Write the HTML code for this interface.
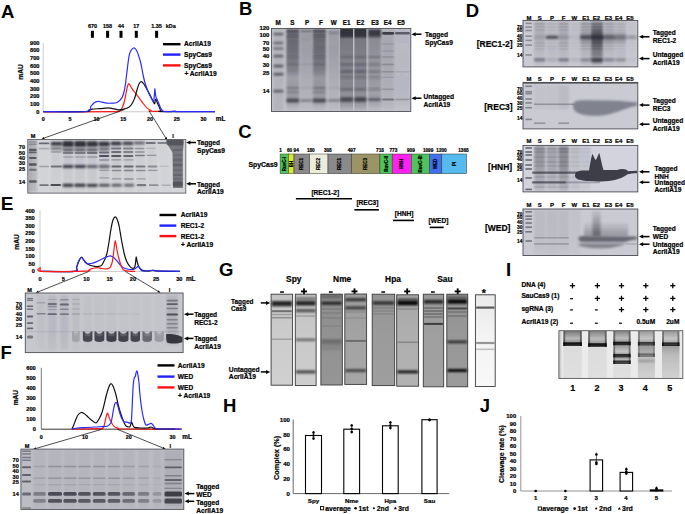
<!DOCTYPE html>
<html><head><meta charset="utf-8"><style>
html,body{margin:0;padding:0;background:#fff;}
body{width:685px;height:514px;overflow:hidden;}
svg{display:block;font-family:"Liberation Sans", sans-serif;}
</style></head><body>
<svg width="685" height="514" viewBox="0 0 685 514">
<defs>
<filter id="b05" x="-50%" y="-50%" width="200%" height="200%"><feGaussianBlur stdDeviation="0.5"/></filter>
<filter id="b1" x="-50%" y="-50%" width="200%" height="200%"><feGaussianBlur stdDeviation="0.8"/></filter>
<filter id="b2" x="-50%" y="-50%" width="200%" height="200%"><feGaussianBlur stdDeviation="1.3"/></filter>
<filter id="b3" x="-50%" y="-50%" width="200%" height="200%"><feGaussianBlur stdDeviation="2"/></filter>
<linearGradient id="g1" gradientUnits="userSpaceOnUse" x1="0" y1="139.5" x2="0" y2="193"><stop offset="0.000" stop-color="#2a2a34" stop-opacity="0.120"/><stop offset="1.000" stop-color="#2a2a34" stop-opacity="0.120"/></linearGradient><linearGradient id="g2" gradientUnits="userSpaceOnUse" x1="0" y1="140" x2="0" y2="192"><stop offset="0.000" stop-color="#2a2a34" stop-opacity="0.200"/><stop offset="1.000" stop-color="#2a2a34" stop-opacity="0.170"/></linearGradient><linearGradient id="g3" gradientUnits="userSpaceOnUse" x1="0" y1="140" x2="0" y2="192"><stop offset="0" stop-color="#2a2a34" stop-opacity="0.020"/><stop offset="0.4" stop-color="#2a2a34" stop-opacity="0.016"/><stop offset="1" stop-color="#2a2a34" stop-opacity="0.008"/></linearGradient><linearGradient id="g4" gradientUnits="userSpaceOnUse" x1="0" y1="140" x2="0" y2="192"><stop offset="0" stop-color="#2a2a34" stop-opacity="0.060"/><stop offset="0.4" stop-color="#2a2a34" stop-opacity="0.048"/><stop offset="1" stop-color="#2a2a34" stop-opacity="0.024"/></linearGradient><linearGradient id="g5" gradientUnits="userSpaceOnUse" x1="0" y1="140" x2="0" y2="192"><stop offset="0" stop-color="#2a2a34" stop-opacity="0.100"/><stop offset="0.4" stop-color="#2a2a34" stop-opacity="0.080"/><stop offset="1" stop-color="#2a2a34" stop-opacity="0.040"/></linearGradient><linearGradient id="g6" gradientUnits="userSpaceOnUse" x1="0" y1="140" x2="0" y2="192"><stop offset="0" stop-color="#2a2a34" stop-opacity="0.100"/><stop offset="0.4" stop-color="#2a2a34" stop-opacity="0.080"/><stop offset="1" stop-color="#2a2a34" stop-opacity="0.040"/></linearGradient><linearGradient id="g7" gradientUnits="userSpaceOnUse" x1="0" y1="140" x2="0" y2="192"><stop offset="0" stop-color="#2a2a34" stop-opacity="0.100"/><stop offset="0.4" stop-color="#2a2a34" stop-opacity="0.080"/><stop offset="1" stop-color="#2a2a34" stop-opacity="0.040"/></linearGradient><linearGradient id="g8" gradientUnits="userSpaceOnUse" x1="0" y1="140" x2="0" y2="192"><stop offset="0" stop-color="#2a2a34" stop-opacity="0.090"/><stop offset="0.4" stop-color="#2a2a34" stop-opacity="0.072"/><stop offset="1" stop-color="#2a2a34" stop-opacity="0.036"/></linearGradient><linearGradient id="g9" gradientUnits="userSpaceOnUse" x1="0" y1="140" x2="0" y2="192"><stop offset="0" stop-color="#2a2a34" stop-opacity="0.080"/><stop offset="0.4" stop-color="#2a2a34" stop-opacity="0.064"/><stop offset="1" stop-color="#2a2a34" stop-opacity="0.032"/></linearGradient><linearGradient id="g10" gradientUnits="userSpaceOnUse" x1="0" y1="140" x2="0" y2="192"><stop offset="0" stop-color="#2a2a34" stop-opacity="0.070"/><stop offset="0.4" stop-color="#2a2a34" stop-opacity="0.056"/><stop offset="1" stop-color="#2a2a34" stop-opacity="0.028"/></linearGradient><linearGradient id="g11" gradientUnits="userSpaceOnUse" x1="0" y1="140" x2="0" y2="192"><stop offset="0" stop-color="#2a2a34" stop-opacity="0.050"/><stop offset="0.4" stop-color="#2a2a34" stop-opacity="0.040"/><stop offset="1" stop-color="#2a2a34" stop-opacity="0.020"/></linearGradient><linearGradient id="g12" gradientUnits="userSpaceOnUse" x1="0" y1="140" x2="0" y2="192"><stop offset="0" stop-color="#2a2a34" stop-opacity="0.040"/><stop offset="0.4" stop-color="#2a2a34" stop-opacity="0.032"/><stop offset="1" stop-color="#2a2a34" stop-opacity="0.016"/></linearGradient><linearGradient id="g13" gradientUnits="userSpaceOnUse" x1="0" y1="140" x2="0" y2="192"><stop offset="0" stop-color="#2a2a34" stop-opacity="0.020"/><stop offset="0.4" stop-color="#2a2a34" stop-opacity="0.016"/><stop offset="1" stop-color="#2a2a34" stop-opacity="0.008"/></linearGradient><linearGradient id="g14" gradientUnits="userSpaceOnUse" x1="0" y1="29" x2="0" y2="111"><stop offset="0.000" stop-color="#2a2a34" stop-opacity="0.140"/><stop offset="1.000" stop-color="#2a2a34" stop-opacity="0.120"/></linearGradient><linearGradient id="g15" gradientUnits="userSpaceOnUse" x1="0" y1="29" x2="0" y2="111"><stop offset="0.000" stop-color="#2a2a34" stop-opacity="0.620"/><stop offset="0.256" stop-color="#2a2a34" stop-opacity="0.560"/><stop offset="0.500" stop-color="#2a2a34" stop-opacity="0.450"/><stop offset="0.598" stop-color="#2a2a34" stop-opacity="0.250"/><stop offset="0.695" stop-color="#2a2a34" stop-opacity="0.300"/><stop offset="0.817" stop-color="#2a2a34" stop-opacity="0.300"/><stop offset="0.915" stop-color="#2a2a34" stop-opacity="0.200"/><stop offset="1.000" stop-color="#2a2a34" stop-opacity="0.050"/></linearGradient><linearGradient id="g16" gradientUnits="userSpaceOnUse" x1="0" y1="29" x2="0" y2="111"><stop offset="0.000" stop-color="#2a2a34" stop-opacity="0.300"/><stop offset="0.256" stop-color="#2a2a34" stop-opacity="0.250"/><stop offset="0.500" stop-color="#2a2a34" stop-opacity="0.200"/><stop offset="0.683" stop-color="#2a2a34" stop-opacity="0.150"/><stop offset="0.915" stop-color="#2a2a34" stop-opacity="0.120"/><stop offset="1.000" stop-color="#2a2a34" stop-opacity="0.030"/></linearGradient><linearGradient id="g17" gradientUnits="userSpaceOnUse" x1="0" y1="29" x2="0" y2="111"><stop offset="0.000" stop-color="#2a2a34" stop-opacity="0.620"/><stop offset="0.256" stop-color="#2a2a34" stop-opacity="0.580"/><stop offset="0.500" stop-color="#2a2a34" stop-opacity="0.480"/><stop offset="0.598" stop-color="#2a2a34" stop-opacity="0.300"/><stop offset="0.695" stop-color="#2a2a34" stop-opacity="0.320"/><stop offset="0.817" stop-color="#2a2a34" stop-opacity="0.300"/><stop offset="0.915" stop-color="#2a2a34" stop-opacity="0.200"/><stop offset="1.000" stop-color="#2a2a34" stop-opacity="0.050"/></linearGradient><linearGradient id="g18" gradientUnits="userSpaceOnUse" x1="0" y1="29" x2="0" y2="111"><stop offset="0.000" stop-color="#2a2a34" stop-opacity="0.280"/><stop offset="0.256" stop-color="#2a2a34" stop-opacity="0.250"/><stop offset="0.500" stop-color="#2a2a34" stop-opacity="0.200"/><stop offset="0.683" stop-color="#2a2a34" stop-opacity="0.150"/><stop offset="0.915" stop-color="#2a2a34" stop-opacity="0.120"/><stop offset="1.000" stop-color="#2a2a34" stop-opacity="0.030"/></linearGradient><linearGradient id="g19" gradientUnits="userSpaceOnUse" x1="0" y1="28.5" x2="0" y2="111"><stop offset="0.000" stop-color="#2a2a34" stop-opacity="0.950"/><stop offset="0.091" stop-color="#2a2a34" stop-opacity="0.920"/><stop offset="0.127" stop-color="#2a2a34" stop-opacity="0.500"/><stop offset="0.382" stop-color="#2a2a34" stop-opacity="0.450"/><stop offset="0.624" stop-color="#2a2a34" stop-opacity="0.420"/><stop offset="0.806" stop-color="#2a2a34" stop-opacity="0.350"/><stop offset="0.915" stop-color="#2a2a34" stop-opacity="0.300"/><stop offset="1.000" stop-color="#2a2a34" stop-opacity="0.100"/></linearGradient><linearGradient id="g20" gradientUnits="userSpaceOnUse" x1="0" y1="28.5" x2="0" y2="111"><stop offset="0.000" stop-color="#2a2a34" stop-opacity="0.950"/><stop offset="0.091" stop-color="#2a2a34" stop-opacity="0.920"/><stop offset="0.127" stop-color="#2a2a34" stop-opacity="0.500"/><stop offset="0.382" stop-color="#2a2a34" stop-opacity="0.450"/><stop offset="0.624" stop-color="#2a2a34" stop-opacity="0.420"/><stop offset="0.806" stop-color="#2a2a34" stop-opacity="0.350"/><stop offset="0.915" stop-color="#2a2a34" stop-opacity="0.300"/><stop offset="1.000" stop-color="#2a2a34" stop-opacity="0.100"/></linearGradient><linearGradient id="g21" gradientUnits="userSpaceOnUse" x1="0" y1="29" x2="0" y2="111"><stop offset="0.000" stop-color="#2a2a34" stop-opacity="0.600"/><stop offset="0.012" stop-color="#2a2a34" stop-opacity="0.900"/><stop offset="0.085" stop-color="#2a2a34" stop-opacity="0.880"/><stop offset="0.110" stop-color="#2a2a34" stop-opacity="0.380"/><stop offset="0.378" stop-color="#2a2a34" stop-opacity="0.330"/><stop offset="0.622" stop-color="#2a2a34" stop-opacity="0.300"/><stop offset="0.805" stop-color="#2a2a34" stop-opacity="0.250"/><stop offset="0.915" stop-color="#2a2a34" stop-opacity="0.200"/><stop offset="1.000" stop-color="#2a2a34" stop-opacity="0.050"/></linearGradient><linearGradient id="g22" gradientUnits="userSpaceOnUse" x1="0" y1="29" x2="0" y2="111"><stop offset="0.000" stop-color="#2a2a34" stop-opacity="0.150"/><stop offset="0.085" stop-color="#2a2a34" stop-opacity="0.200"/><stop offset="0.378" stop-color="#2a2a34" stop-opacity="0.200"/><stop offset="0.744" stop-color="#2a2a34" stop-opacity="0.150"/><stop offset="0.915" stop-color="#2a2a34" stop-opacity="0.120"/><stop offset="1.000" stop-color="#2a2a34" stop-opacity="0.030"/></linearGradient><linearGradient id="g23" gradientUnits="userSpaceOnUse" x1="0" y1="29" x2="0" y2="111"><stop offset="0.000" stop-color="#2a2a34" stop-opacity="0.080"/><stop offset="0.378" stop-color="#2a2a34" stop-opacity="0.100"/><stop offset="0.866" stop-color="#2a2a34" stop-opacity="0.070"/><stop offset="1.000" stop-color="#2a2a34" stop-opacity="0.020"/></linearGradient><linearGradient id="g24" gradientUnits="userSpaceOnUse" x1="0" y1="21" x2="0" y2="66"><stop offset="0.000" stop-color="#2a2a34" stop-opacity="0.160"/><stop offset="0.311" stop-color="#2a2a34" stop-opacity="0.176"/><stop offset="0.533" stop-color="#2a2a34" stop-opacity="0.144"/><stop offset="0.756" stop-color="#2a2a34" stop-opacity="0.096"/><stop offset="1.000" stop-color="#2a2a34" stop-opacity="0.048"/></linearGradient><linearGradient id="g25" gradientUnits="userSpaceOnUse" x1="0" y1="21" x2="0" y2="66"><stop offset="0.000" stop-color="#2a2a34" stop-opacity="0.100"/><stop offset="0.311" stop-color="#2a2a34" stop-opacity="0.110"/><stop offset="0.533" stop-color="#2a2a34" stop-opacity="0.090"/><stop offset="0.756" stop-color="#2a2a34" stop-opacity="0.060"/><stop offset="1.000" stop-color="#2a2a34" stop-opacity="0.030"/></linearGradient><linearGradient id="g26" gradientUnits="userSpaceOnUse" x1="0" y1="21" x2="0" y2="66"><stop offset="0.000" stop-color="#2a2a34" stop-opacity="0.180"/><stop offset="0.311" stop-color="#2a2a34" stop-opacity="0.198"/><stop offset="0.533" stop-color="#2a2a34" stop-opacity="0.162"/><stop offset="0.756" stop-color="#2a2a34" stop-opacity="0.108"/><stop offset="1.000" stop-color="#2a2a34" stop-opacity="0.054"/></linearGradient><linearGradient id="g27" gradientUnits="userSpaceOnUse" x1="0" y1="21" x2="0" y2="66"><stop offset="0.000" stop-color="#2a2a34" stop-opacity="0.050"/><stop offset="0.311" stop-color="#2a2a34" stop-opacity="0.055"/><stop offset="0.533" stop-color="#2a2a34" stop-opacity="0.045"/><stop offset="0.756" stop-color="#2a2a34" stop-opacity="0.030"/><stop offset="1.000" stop-color="#2a2a34" stop-opacity="0.015"/></linearGradient><linearGradient id="g28" gradientUnits="userSpaceOnUse" x1="0" y1="21" x2="0" y2="66"><stop offset="0.000" stop-color="#2a2a34" stop-opacity="0.200"/><stop offset="0.311" stop-color="#2a2a34" stop-opacity="0.220"/><stop offset="0.533" stop-color="#2a2a34" stop-opacity="0.180"/><stop offset="0.756" stop-color="#2a2a34" stop-opacity="0.120"/><stop offset="1.000" stop-color="#2a2a34" stop-opacity="0.060"/></linearGradient><linearGradient id="g29" gradientUnits="userSpaceOnUse" x1="0" y1="21" x2="0" y2="66"><stop offset="0.000" stop-color="#2a2a34" stop-opacity="0.350"/><stop offset="0.311" stop-color="#2a2a34" stop-opacity="0.385"/><stop offset="0.533" stop-color="#2a2a34" stop-opacity="0.315"/><stop offset="0.756" stop-color="#2a2a34" stop-opacity="0.210"/><stop offset="1.000" stop-color="#2a2a34" stop-opacity="0.105"/></linearGradient><linearGradient id="g30" gradientUnits="userSpaceOnUse" x1="0" y1="21" x2="0" y2="66"><stop offset="0.000" stop-color="#2a2a34" stop-opacity="0.160"/><stop offset="0.311" stop-color="#2a2a34" stop-opacity="0.176"/><stop offset="0.533" stop-color="#2a2a34" stop-opacity="0.144"/><stop offset="0.756" stop-color="#2a2a34" stop-opacity="0.096"/><stop offset="1.000" stop-color="#2a2a34" stop-opacity="0.048"/></linearGradient><linearGradient id="g31" gradientUnits="userSpaceOnUse" x1="0" y1="21" x2="0" y2="66"><stop offset="0.000" stop-color="#2a2a34" stop-opacity="0.120"/><stop offset="0.311" stop-color="#2a2a34" stop-opacity="0.132"/><stop offset="0.533" stop-color="#2a2a34" stop-opacity="0.108"/><stop offset="0.756" stop-color="#2a2a34" stop-opacity="0.072"/><stop offset="1.000" stop-color="#2a2a34" stop-opacity="0.036"/></linearGradient><linearGradient id="g32" gradientUnits="userSpaceOnUse" x1="0" y1="21" x2="0" y2="66"><stop offset="0.000" stop-color="#2a2a34" stop-opacity="0.030"/><stop offset="0.311" stop-color="#2a2a34" stop-opacity="0.033"/><stop offset="0.533" stop-color="#2a2a34" stop-opacity="0.027"/><stop offset="0.756" stop-color="#2a2a34" stop-opacity="0.018"/><stop offset="1.000" stop-color="#2a2a34" stop-opacity="0.009"/></linearGradient><linearGradient id="g33" gradientUnits="userSpaceOnUse" x1="0" y1="32" x2="0" y2="44"><stop offset="0.000" stop-color="#2a2a34" stop-opacity="0.000"/><stop offset="0.250" stop-color="#2a2a34" stop-opacity="0.250"/><stop offset="0.667" stop-color="#2a2a34" stop-opacity="0.250"/><stop offset="1.000" stop-color="#2a2a34" stop-opacity="0.000"/></linearGradient><linearGradient id="g34" gradientUnits="userSpaceOnUse" x1="0" y1="22" x2="0" y2="64"><stop offset="0.000" stop-color="#2a2a34" stop-opacity="0.100"/><stop offset="0.143" stop-color="#2a2a34" stop-opacity="0.300"/><stop offset="0.286" stop-color="#2a2a34" stop-opacity="0.550"/><stop offset="0.476" stop-color="#2a2a34" stop-opacity="0.550"/><stop offset="0.667" stop-color="#2a2a34" stop-opacity="0.350"/><stop offset="0.857" stop-color="#2a2a34" stop-opacity="0.300"/><stop offset="1.000" stop-color="#2a2a34" stop-opacity="0.100"/></linearGradient><linearGradient id="g35" gradientUnits="userSpaceOnUse" x1="0" y1="146" x2="0" y2="191"><stop offset="0.000" stop-color="#2a2a34" stop-opacity="0.380"/><stop offset="0.422" stop-color="#2a2a34" stop-opacity="0.342"/><stop offset="0.644" stop-color="#2a2a34" stop-opacity="0.266"/><stop offset="1.000" stop-color="#2a2a34" stop-opacity="0.152"/></linearGradient><linearGradient id="g36" gradientUnits="userSpaceOnUse" x1="0" y1="146" x2="0" y2="191"><stop offset="0.000" stop-color="#2a2a34" stop-opacity="0.300"/><stop offset="0.422" stop-color="#2a2a34" stop-opacity="0.270"/><stop offset="0.644" stop-color="#2a2a34" stop-opacity="0.210"/><stop offset="1.000" stop-color="#2a2a34" stop-opacity="0.120"/></linearGradient><linearGradient id="g37" gradientUnits="userSpaceOnUse" x1="0" y1="146" x2="0" y2="191"><stop offset="0.000" stop-color="#2a2a34" stop-opacity="0.450"/><stop offset="0.422" stop-color="#2a2a34" stop-opacity="0.405"/><stop offset="0.644" stop-color="#2a2a34" stop-opacity="0.315"/><stop offset="1.000" stop-color="#2a2a34" stop-opacity="0.180"/></linearGradient><linearGradient id="g38" gradientUnits="userSpaceOnUse" x1="0" y1="146" x2="0" y2="191"><stop offset="0.000" stop-color="#2a2a34" stop-opacity="0.140"/><stop offset="0.422" stop-color="#2a2a34" stop-opacity="0.126"/><stop offset="0.644" stop-color="#2a2a34" stop-opacity="0.098"/><stop offset="1.000" stop-color="#2a2a34" stop-opacity="0.056"/></linearGradient><linearGradient id="g39" gradientUnits="userSpaceOnUse" x1="0" y1="146" x2="0" y2="191"><stop offset="0.000" stop-color="#2a2a34" stop-opacity="0.080"/><stop offset="0.422" stop-color="#2a2a34" stop-opacity="0.072"/><stop offset="0.644" stop-color="#2a2a34" stop-opacity="0.056"/><stop offset="1.000" stop-color="#2a2a34" stop-opacity="0.032"/></linearGradient><linearGradient id="g40" gradientUnits="userSpaceOnUse" x1="0" y1="210" x2="0" y2="255"><stop offset="0.000" stop-color="#2a2a34" stop-opacity="0.070"/><stop offset="0.444" stop-color="#2a2a34" stop-opacity="0.070"/><stop offset="1.000" stop-color="#2a2a34" stop-opacity="0.035"/></linearGradient><linearGradient id="g41" gradientUnits="userSpaceOnUse" x1="0" y1="210" x2="0" y2="255"><stop offset="0.000" stop-color="#2a2a34" stop-opacity="0.070"/><stop offset="0.444" stop-color="#2a2a34" stop-opacity="0.070"/><stop offset="1.000" stop-color="#2a2a34" stop-opacity="0.035"/></linearGradient><linearGradient id="g42" gradientUnits="userSpaceOnUse" x1="0" y1="210" x2="0" y2="255"><stop offset="0.000" stop-color="#2a2a34" stop-opacity="0.070"/><stop offset="0.444" stop-color="#2a2a34" stop-opacity="0.070"/><stop offset="1.000" stop-color="#2a2a34" stop-opacity="0.035"/></linearGradient><linearGradient id="g43" gradientUnits="userSpaceOnUse" x1="0" y1="210" x2="0" y2="255"><stop offset="0.000" stop-color="#2a2a34" stop-opacity="0.040"/><stop offset="0.444" stop-color="#2a2a34" stop-opacity="0.040"/><stop offset="1.000" stop-color="#2a2a34" stop-opacity="0.020"/></linearGradient><linearGradient id="g44" gradientUnits="userSpaceOnUse" x1="0" y1="211" x2="0" y2="236"><stop offset="0.000" stop-color="#2a2a34" stop-opacity="0.050"/><stop offset="0.360" stop-color="#2a2a34" stop-opacity="0.250"/><stop offset="1.000" stop-color="#2a2a34" stop-opacity="0.450"/></linearGradient><linearGradient id="g45" gradientUnits="userSpaceOnUse" x1="0" y1="222" x2="0" y2="236"><stop offset="0.000" stop-color="#2a2a34" stop-opacity="0.000"/><stop offset="0.571" stop-color="#2a2a34" stop-opacity="0.200"/><stop offset="1.000" stop-color="#2a2a34" stop-opacity="0.320"/></linearGradient><linearGradient id="g46" gradientUnits="userSpaceOnUse" x1="0" y1="295" x2="0" y2="350"><stop offset="0.000" stop-color="#2a2a34" stop-opacity="0.040"/><stop offset="0.636" stop-color="#2a2a34" stop-opacity="0.040"/><stop offset="1.000" stop-color="#2a2a34" stop-opacity="0.020"/></linearGradient><linearGradient id="g47" gradientUnits="userSpaceOnUse" x1="0" y1="295" x2="0" y2="350"><stop offset="0.000" stop-color="#2a2a34" stop-opacity="0.080"/><stop offset="0.636" stop-color="#2a2a34" stop-opacity="0.080"/><stop offset="1.000" stop-color="#2a2a34" stop-opacity="0.040"/></linearGradient><linearGradient id="g48" gradientUnits="userSpaceOnUse" x1="0" y1="295" x2="0" y2="350"><stop offset="0.000" stop-color="#2a2a34" stop-opacity="0.080"/><stop offset="0.636" stop-color="#2a2a34" stop-opacity="0.080"/><stop offset="1.000" stop-color="#2a2a34" stop-opacity="0.040"/></linearGradient><linearGradient id="g49" gradientUnits="userSpaceOnUse" x1="0" y1="295" x2="0" y2="350"><stop offset="0.000" stop-color="#2a2a34" stop-opacity="0.050"/><stop offset="0.636" stop-color="#2a2a34" stop-opacity="0.050"/><stop offset="1.000" stop-color="#2a2a34" stop-opacity="0.025"/></linearGradient><linearGradient id="g50" gradientUnits="userSpaceOnUse" x1="0" y1="295" x2="0" y2="350"><stop offset="0.000" stop-color="#2a2a34" stop-opacity="0.030"/><stop offset="0.636" stop-color="#2a2a34" stop-opacity="0.030"/><stop offset="1.000" stop-color="#2a2a34" stop-opacity="0.015"/></linearGradient><linearGradient id="g51" gradientUnits="userSpaceOnUse" x1="0" y1="295" x2="0" y2="350"><stop offset="0.000" stop-color="#2a2a34" stop-opacity="0.030"/><stop offset="0.636" stop-color="#2a2a34" stop-opacity="0.030"/><stop offset="1.000" stop-color="#2a2a34" stop-opacity="0.015"/></linearGradient><linearGradient id="g52" gradientUnits="userSpaceOnUse" x1="0" y1="295" x2="0" y2="350"><stop offset="0.000" stop-color="#2a2a34" stop-opacity="0.030"/><stop offset="0.636" stop-color="#2a2a34" stop-opacity="0.030"/><stop offset="1.000" stop-color="#2a2a34" stop-opacity="0.015"/></linearGradient><linearGradient id="g53" gradientUnits="userSpaceOnUse" x1="0" y1="295" x2="0" y2="350"><stop offset="0.000" stop-color="#2a2a34" stop-opacity="0.020"/><stop offset="0.636" stop-color="#2a2a34" stop-opacity="0.020"/><stop offset="1.000" stop-color="#2a2a34" stop-opacity="0.010"/></linearGradient><linearGradient id="g54" gradientUnits="userSpaceOnUse" x1="0" y1="295" x2="0" y2="350"><stop offset="0.000" stop-color="#2a2a34" stop-opacity="0.020"/><stop offset="0.636" stop-color="#2a2a34" stop-opacity="0.020"/><stop offset="1.000" stop-color="#2a2a34" stop-opacity="0.010"/></linearGradient><linearGradient id="g55" gradientUnits="userSpaceOnUse" x1="0" y1="295" x2="0" y2="350"><stop offset="0.000" stop-color="#2a2a34" stop-opacity="0.020"/><stop offset="0.636" stop-color="#2a2a34" stop-opacity="0.020"/><stop offset="1.000" stop-color="#2a2a34" stop-opacity="0.010"/></linearGradient><linearGradient id="g56" gradientUnits="userSpaceOnUse" x1="0" y1="295" x2="0" y2="350"><stop offset="0.000" stop-color="#2a2a34" stop-opacity="0.020"/><stop offset="0.636" stop-color="#2a2a34" stop-opacity="0.020"/><stop offset="1.000" stop-color="#2a2a34" stop-opacity="0.010"/></linearGradient><linearGradient id="g57" gradientUnits="userSpaceOnUse" x1="0" y1="295" x2="0" y2="345"><stop offset="0.000" stop-color="#2a2a34" stop-opacity="0.120"/><stop offset="0.700" stop-color="#2a2a34" stop-opacity="0.150"/><stop offset="1.000" stop-color="#2a2a34" stop-opacity="0.100"/></linearGradient><linearGradient id="g58" gradientUnits="userSpaceOnUse" x1="0" y1="450" x2="0" y2="508"><stop offset="0.000" stop-color="#2a2a34" stop-opacity="0.040"/><stop offset="1.000" stop-color="#2a2a34" stop-opacity="0.040"/></linearGradient><linearGradient id="g59" gradientUnits="userSpaceOnUse" x1="0" y1="450" x2="0" y2="508"><stop offset="0.000" stop-color="#2a2a34" stop-opacity="0.040"/><stop offset="1.000" stop-color="#2a2a34" stop-opacity="0.040"/></linearGradient><linearGradient id="g60" gradientUnits="userSpaceOnUse" x1="0" y1="450" x2="0" y2="508"><stop offset="0.000" stop-color="#2a2a34" stop-opacity="0.040"/><stop offset="1.000" stop-color="#2a2a34" stop-opacity="0.040"/></linearGradient><linearGradient id="g61" gradientUnits="userSpaceOnUse" x1="0" y1="450" x2="0" y2="508"><stop offset="0.000" stop-color="#2a2a34" stop-opacity="0.040"/><stop offset="1.000" stop-color="#2a2a34" stop-opacity="0.040"/></linearGradient><linearGradient id="g62" gradientUnits="userSpaceOnUse" x1="0" y1="450" x2="0" y2="508"><stop offset="0.000" stop-color="#2a2a34" stop-opacity="0.040"/><stop offset="1.000" stop-color="#2a2a34" stop-opacity="0.040"/></linearGradient><linearGradient id="g63" gradientUnits="userSpaceOnUse" x1="0" y1="450" x2="0" y2="508"><stop offset="0.000" stop-color="#2a2a34" stop-opacity="0.040"/><stop offset="1.000" stop-color="#2a2a34" stop-opacity="0.040"/></linearGradient><linearGradient id="g64" gradientUnits="userSpaceOnUse" x1="0" y1="450" x2="0" y2="508"><stop offset="0.000" stop-color="#2a2a34" stop-opacity="0.040"/><stop offset="1.000" stop-color="#2a2a34" stop-opacity="0.040"/></linearGradient><linearGradient id="g65" gradientUnits="userSpaceOnUse" x1="0" y1="450" x2="0" y2="508"><stop offset="0.000" stop-color="#2a2a34" stop-opacity="0.040"/><stop offset="1.000" stop-color="#2a2a34" stop-opacity="0.040"/></linearGradient><linearGradient id="g66" gradientUnits="userSpaceOnUse" x1="0" y1="450" x2="0" y2="508"><stop offset="0.000" stop-color="#2a2a34" stop-opacity="0.040"/><stop offset="1.000" stop-color="#2a2a34" stop-opacity="0.040"/></linearGradient><linearGradient id="g67" gradientUnits="userSpaceOnUse" x1="0" y1="450" x2="0" y2="508"><stop offset="0.000" stop-color="#2a2a34" stop-opacity="0.100"/><stop offset="1.000" stop-color="#2a2a34" stop-opacity="0.100"/></linearGradient><linearGradient id="g68" gradientUnits="userSpaceOnUse" x1="0" y1="294.2" x2="0" y2="385.2"><stop offset="0.000" stop-color="#000" stop-opacity="0.060"/><stop offset="0.440" stop-color="#000" stop-opacity="0.020"/><stop offset="1.000" stop-color="#000" stop-opacity="0.000"/></linearGradient><linearGradient id="g69" gradientUnits="userSpaceOnUse" x1="0" y1="294.2" x2="0" y2="385.6"><stop offset="0.000" stop-color="#000" stop-opacity="0.060"/><stop offset="0.438" stop-color="#000" stop-opacity="0.020"/><stop offset="1.000" stop-color="#000" stop-opacity="0.000"/></linearGradient><linearGradient id="g70" gradientUnits="userSpaceOnUse" x1="0" y1="294.2" x2="0" y2="385"><stop offset="0.000" stop-color="#000" stop-opacity="0.060"/><stop offset="0.441" stop-color="#000" stop-opacity="0.020"/><stop offset="1.000" stop-color="#000" stop-opacity="0.000"/></linearGradient><linearGradient id="g71" gradientUnits="userSpaceOnUse" x1="0" y1="294" x2="0" y2="384.4"><stop offset="0.000" stop-color="#000" stop-opacity="0.060"/><stop offset="0.442" stop-color="#000" stop-opacity="0.020"/><stop offset="1.000" stop-color="#000" stop-opacity="0.000"/></linearGradient><linearGradient id="g72" gradientUnits="userSpaceOnUse" x1="0" y1="294.2" x2="0" y2="385.6"><stop offset="0.000" stop-color="#000" stop-opacity="0.060"/><stop offset="0.438" stop-color="#000" stop-opacity="0.020"/><stop offset="1.000" stop-color="#000" stop-opacity="0.000"/></linearGradient><linearGradient id="g73" gradientUnits="userSpaceOnUse" x1="0" y1="294.8" x2="0" y2="386.2"><stop offset="0.000" stop-color="#000" stop-opacity="0.060"/><stop offset="0.438" stop-color="#000" stop-opacity="0.020"/><stop offset="1.000" stop-color="#000" stop-opacity="0.000"/></linearGradient><linearGradient id="g74" gradientUnits="userSpaceOnUse" x1="0" y1="294.2" x2="0" y2="386.8"><stop offset="0.000" stop-color="#000" stop-opacity="0.060"/><stop offset="0.432" stop-color="#000" stop-opacity="0.020"/><stop offset="1.000" stop-color="#000" stop-opacity="0.000"/></linearGradient><linearGradient id="g75" gradientUnits="userSpaceOnUse" x1="0" y1="294.2" x2="0" y2="386.8"><stop offset="0.000" stop-color="#000" stop-opacity="0.060"/><stop offset="0.432" stop-color="#000" stop-opacity="0.020"/><stop offset="1.000" stop-color="#000" stop-opacity="0.000"/></linearGradient><linearGradient id="g76" gradientUnits="userSpaceOnUse" x1="0" y1="294.8" x2="0" y2="386.5"><stop offset="0.000" stop-color="#000" stop-opacity="0.060"/><stop offset="0.436" stop-color="#000" stop-opacity="0.020"/><stop offset="1.000" stop-color="#000" stop-opacity="0.000"/></linearGradient><linearGradient id="g77" gradientUnits="userSpaceOnUse" x1="0" y1="330.7" x2="0" y2="378.4"><stop offset="0.000" stop-color="#000" stop-opacity="0.120"/><stop offset="1.000" stop-color="#000" stop-opacity="0.120"/></linearGradient><linearGradient id="g78" gradientUnits="userSpaceOnUse" x1="0" y1="331" x2="0" y2="378"><stop offset="0.000" stop-color="#000" stop-opacity="0.070"/><stop offset="1.000" stop-color="#000" stop-opacity="0.050"/></linearGradient><linearGradient id="g79" gradientUnits="userSpaceOnUse" x1="0" y1="331" x2="0" y2="378"><stop offset="0.000" stop-color="#000" stop-opacity="0.070"/><stop offset="1.000" stop-color="#000" stop-opacity="0.050"/></linearGradient><linearGradient id="g80" gradientUnits="userSpaceOnUse" x1="0" y1="331" x2="0" y2="378"><stop offset="0.000" stop-color="#000" stop-opacity="0.070"/><stop offset="1.000" stop-color="#000" stop-opacity="0.050"/></linearGradient><linearGradient id="g81" gradientUnits="userSpaceOnUse" x1="0" y1="331" x2="0" y2="378"><stop offset="0.000" stop-color="#000" stop-opacity="0.070"/><stop offset="1.000" stop-color="#000" stop-opacity="0.050"/></linearGradient><linearGradient id="g82" gradientUnits="userSpaceOnUse" x1="0" y1="331" x2="0" y2="378"><stop offset="0.000" stop-color="#000" stop-opacity="0.070"/><stop offset="1.000" stop-color="#000" stop-opacity="0.050"/></linearGradient><linearGradient id="g83" gradientUnits="userSpaceOnUse" x1="0" y1="331" x2="0" y2="343.9"><stop offset="0.000" stop-color="#000" stop-opacity="0.450"/><stop offset="0.578" stop-color="#000" stop-opacity="0.158"/><stop offset="1.000" stop-color="#000" stop-opacity="0.405"/></linearGradient><linearGradient id="g84" gradientUnits="userSpaceOnUse" x1="0" y1="331" x2="0" y2="345.9"><stop offset="0.000" stop-color="#000" stop-opacity="0.297"/><stop offset="0.732" stop-color="#000" stop-opacity="0.510"/><stop offset="1.000" stop-color="#000" stop-opacity="0.680"/></linearGradient><linearGradient id="g85" gradientUnits="userSpaceOnUse" x1="0" y1="331" x2="0" y2="345.9"><stop offset="0.000" stop-color="#000" stop-opacity="0.297"/><stop offset="0.732" stop-color="#000" stop-opacity="0.510"/><stop offset="1.000" stop-color="#000" stop-opacity="0.680"/></linearGradient><linearGradient id="g86" gradientUnits="userSpaceOnUse" x1="0" y1="331" x2="0" y2="344.8"><stop offset="0.000" stop-color="#000" stop-opacity="0.400"/><stop offset="0.572" stop-color="#000" stop-opacity="0.140"/><stop offset="1.000" stop-color="#000" stop-opacity="0.360"/></linearGradient><linearGradient id="g87" gradientUnits="userSpaceOnUse" x1="0" y1="331" x2="0" y2="346.8"><stop offset="0.000" stop-color="#000" stop-opacity="0.297"/><stop offset="0.747" stop-color="#000" stop-opacity="0.510"/><stop offset="1.000" stop-color="#000" stop-opacity="0.680"/></linearGradient><linearGradient id="g88" gradientUnits="userSpaceOnUse" x1="0" y1="331" x2="0" y2="346.8"><stop offset="0.000" stop-color="#000" stop-opacity="0.297"/><stop offset="0.747" stop-color="#000" stop-opacity="0.510"/><stop offset="1.000" stop-color="#000" stop-opacity="0.680"/></linearGradient><linearGradient id="g89" gradientUnits="userSpaceOnUse" x1="0" y1="331" x2="0" y2="343.3"><stop offset="0.000" stop-color="#000" stop-opacity="0.400"/><stop offset="0.581" stop-color="#000" stop-opacity="0.140"/><stop offset="1.000" stop-color="#000" stop-opacity="0.360"/></linearGradient><linearGradient id="g90" gradientUnits="userSpaceOnUse" x1="0" y1="331" x2="0" y2="345.3"><stop offset="0.000" stop-color="#000" stop-opacity="0.280"/><stop offset="0.720" stop-color="#000" stop-opacity="0.480"/><stop offset="1.000" stop-color="#000" stop-opacity="0.640"/></linearGradient><linearGradient id="g91" gradientUnits="userSpaceOnUse" x1="0" y1="331" x2="0" y2="345.3"><stop offset="0.000" stop-color="#000" stop-opacity="0.280"/><stop offset="0.720" stop-color="#000" stop-opacity="0.480"/><stop offset="1.000" stop-color="#000" stop-opacity="0.640"/></linearGradient><linearGradient id="g92" gradientUnits="userSpaceOnUse" x1="0" y1="345.3" x2="0" y2="355.5"><stop offset="0.000" stop-color="#000" stop-opacity="0.300"/><stop offset="0.598" stop-color="#000" stop-opacity="0.105"/><stop offset="1.000" stop-color="#000" stop-opacity="0.270"/></linearGradient><linearGradient id="g93" gradientUnits="userSpaceOnUse" x1="0" y1="345.3" x2="0" y2="357.5"><stop offset="0.000" stop-color="#000" stop-opacity="0.262"/><stop offset="0.672" stop-color="#000" stop-opacity="0.450"/><stop offset="1.000" stop-color="#000" stop-opacity="0.600"/></linearGradient><linearGradient id="g94" gradientUnits="userSpaceOnUse" x1="0" y1="345.3" x2="0" y2="357.5"><stop offset="0.000" stop-color="#000" stop-opacity="0.262"/><stop offset="0.672" stop-color="#000" stop-opacity="0.450"/><stop offset="1.000" stop-color="#000" stop-opacity="0.600"/></linearGradient><linearGradient id="g95" gradientUnits="userSpaceOnUse" x1="0" y1="357.5" x2="0" y2="362"><stop offset="0.000" stop-color="#000" stop-opacity="0.300"/><stop offset="0.722" stop-color="#000" stop-opacity="0.105"/><stop offset="1.000" stop-color="#000" stop-opacity="0.270"/></linearGradient><linearGradient id="g96" gradientUnits="userSpaceOnUse" x1="0" y1="357.5" x2="0" y2="364"><stop offset="0.000" stop-color="#000" stop-opacity="0.245"/><stop offset="0.385" stop-color="#000" stop-opacity="0.420"/><stop offset="1.000" stop-color="#000" stop-opacity="0.560"/></linearGradient><linearGradient id="g97" gradientUnits="userSpaceOnUse" x1="0" y1="357.5" x2="0" y2="364"><stop offset="0.000" stop-color="#000" stop-opacity="0.245"/><stop offset="0.385" stop-color="#000" stop-opacity="0.420"/><stop offset="1.000" stop-color="#000" stop-opacity="0.560"/></linearGradient><linearGradient id="g98" gradientUnits="userSpaceOnUse" x1="0" y1="345" x2="0" y2="378"><stop offset="0.000" stop-color="#000" stop-opacity="0.200"/><stop offset="0.515" stop-color="#000" stop-opacity="0.120"/><stop offset="1.000" stop-color="#000" stop-opacity="0.060"/></linearGradient><linearGradient id="g99" gradientUnits="userSpaceOnUse" x1="0" y1="331" x2="0" y2="343.5"><stop offset="0.000" stop-color="#000" stop-opacity="0.300"/><stop offset="0.580" stop-color="#000" stop-opacity="0.105"/><stop offset="1.000" stop-color="#000" stop-opacity="0.270"/></linearGradient><linearGradient id="g100" gradientUnits="userSpaceOnUse" x1="0" y1="331" x2="0" y2="345.5"><stop offset="0.000" stop-color="#000" stop-opacity="0.227"/><stop offset="0.724" stop-color="#000" stop-opacity="0.390"/><stop offset="1.000" stop-color="#000" stop-opacity="0.520"/></linearGradient><linearGradient id="g101" gradientUnits="userSpaceOnUse" x1="0" y1="331" x2="0" y2="345.5"><stop offset="0.000" stop-color="#000" stop-opacity="0.227"/><stop offset="0.724" stop-color="#000" stop-opacity="0.390"/><stop offset="1.000" stop-color="#000" stop-opacity="0.520"/></linearGradient><linearGradient id="g102" gradientUnits="userSpaceOnUse" x1="0" y1="345.5" x2="0" y2="355"><stop offset="0.000" stop-color="#000" stop-opacity="0.150"/><stop offset="0.605" stop-color="#000" stop-opacity="0.052"/><stop offset="1.000" stop-color="#000" stop-opacity="0.135"/></linearGradient><linearGradient id="g103" gradientUnits="userSpaceOnUse" x1="0" y1="345.5" x2="0" y2="357"><stop offset="0.000" stop-color="#000" stop-opacity="0.122"/><stop offset="0.652" stop-color="#000" stop-opacity="0.210"/><stop offset="1.000" stop-color="#000" stop-opacity="0.280"/></linearGradient><linearGradient id="g104" gradientUnits="userSpaceOnUse" x1="0" y1="345.5" x2="0" y2="357"><stop offset="0.000" stop-color="#000" stop-opacity="0.122"/><stop offset="0.652" stop-color="#000" stop-opacity="0.210"/><stop offset="1.000" stop-color="#000" stop-opacity="0.280"/></linearGradient><linearGradient id="g105" gradientUnits="userSpaceOnUse" x1="0" y1="345" x2="0" y2="378"><stop offset="0.000" stop-color="#000" stop-opacity="0.300"/><stop offset="0.303" stop-color="#000" stop-opacity="0.150"/><stop offset="1.000" stop-color="#000" stop-opacity="0.060"/></linearGradient><linearGradient id="g106" gradientUnits="userSpaceOnUse" x1="0" y1="331" x2="0" y2="344"><stop offset="0.000" stop-color="#000" stop-opacity="0.300"/><stop offset="0.577" stop-color="#000" stop-opacity="0.105"/><stop offset="1.000" stop-color="#000" stop-opacity="0.270"/></linearGradient><linearGradient id="g107" gradientUnits="userSpaceOnUse" x1="0" y1="331" x2="0" y2="346"><stop offset="0.000" stop-color="#000" stop-opacity="0.262"/><stop offset="0.733" stop-color="#000" stop-opacity="0.450"/><stop offset="1.000" stop-color="#000" stop-opacity="0.600"/></linearGradient><linearGradient id="g108" gradientUnits="userSpaceOnUse" x1="0" y1="331" x2="0" y2="346"><stop offset="0.000" stop-color="#000" stop-opacity="0.262"/><stop offset="0.733" stop-color="#000" stop-opacity="0.450"/><stop offset="1.000" stop-color="#000" stop-opacity="0.600"/></linearGradient>
</defs>
<rect width="685" height="514" fill="#fff"/>
<text x="0.9" y="17.5" font-size="18.5" font-weight="bold" text-anchor="start" fill="#000">A</text>
<text x="92.4" y="27.9" font-size="5.4" font-weight="bold" text-anchor="middle" fill="#000" stroke="#000" stroke-width="0.2">670</text>
<text x="107.6" y="27.9" font-size="5.4" font-weight="bold" text-anchor="middle" fill="#000" stroke="#000" stroke-width="0.2">158</text>
<text x="121.0" y="27.9" font-size="5.4" font-weight="bold" text-anchor="middle" fill="#000" stroke="#000" stroke-width="0.2">44</text>
<text x="136.3" y="27.9" font-size="5.4" font-weight="bold" text-anchor="middle" fill="#000" stroke="#000" stroke-width="0.2">17</text>
<text x="156.6" y="27.9" font-size="5.4" font-weight="bold" text-anchor="middle" fill="#000" stroke="#000" stroke-width="0.2">1.35</text>
<text x="170.7" y="27.9" font-size="5.4" font-weight="bold" text-anchor="middle" fill="#000" stroke="#000" stroke-width="0.2">kDa</text>
<rect x="90.90" y="30.80" width="3.00" height="7.00" fill="#000"/>
<rect x="106.10" y="30.80" width="3.00" height="7.00" fill="#000"/>
<rect x="119.50" y="30.80" width="3.00" height="7.00" fill="#000"/>
<rect x="134.80" y="30.80" width="3.00" height="7.00" fill="#000"/>
<rect x="155.10" y="30.80" width="3.00" height="7.00" fill="#000"/>
<line x1="43.2" y1="43.0" x2="43.2" y2="111.7" stroke="#c0c0c0" stroke-width="0.8"/>
<line x1="43.2" y1="111.8" x2="215.0" y2="111.8" stroke="#c8c8c8" stroke-width="1.0"/>
<text x="39.5" y="113.6" font-size="5.7" font-weight="bold" text-anchor="end" fill="#000" stroke="#000" stroke-width="0.2">0</text>
<text x="39.5" y="106.0" font-size="5.7" font-weight="bold" text-anchor="end" fill="#000" stroke="#000" stroke-width="0.2">100</text>
<text x="39.5" y="98.3" font-size="5.7" font-weight="bold" text-anchor="end" fill="#000" stroke="#000" stroke-width="0.2">200</text>
<text x="39.5" y="90.7" font-size="5.7" font-weight="bold" text-anchor="end" fill="#000" stroke="#000" stroke-width="0.2">300</text>
<text x="39.5" y="83.0" font-size="5.7" font-weight="bold" text-anchor="end" fill="#000" stroke="#000" stroke-width="0.2">400</text>
<text x="39.5" y="75.4" font-size="5.7" font-weight="bold" text-anchor="end" fill="#000" stroke="#000" stroke-width="0.2">500</text>
<text x="39.5" y="67.7" font-size="5.7" font-weight="bold" text-anchor="end" fill="#000" stroke="#000" stroke-width="0.2">600</text>
<text x="39.5" y="60.1" font-size="5.7" font-weight="bold" text-anchor="end" fill="#000" stroke="#000" stroke-width="0.2">700</text>
<text x="39.5" y="52.4" font-size="5.7" font-weight="bold" text-anchor="end" fill="#000" stroke="#000" stroke-width="0.2">800</text>
<text x="39.5" y="44.8" font-size="5.7" font-weight="bold" text-anchor="end" fill="#000" stroke="#000" stroke-width="0.2">900</text>
<text x="23.0" y="72.0" font-size="6.6" font-weight="bold" text-anchor="middle" fill="#000" stroke="#000" stroke-width="0.2" transform="rotate(-90 23.0 72.0)">mAU</text>
<text x="43.2" y="121.2" font-size="5.4" font-weight="bold" text-anchor="middle" fill="#000" stroke="#000" stroke-width="0.2">0</text>
<text x="69.9" y="121.2" font-size="5.4" font-weight="bold" text-anchor="middle" fill="#000" stroke="#000" stroke-width="0.2">5</text>
<text x="96.6" y="121.2" font-size="5.4" font-weight="bold" text-anchor="middle" fill="#000" stroke="#000" stroke-width="0.2">10</text>
<text x="123.3" y="121.2" font-size="5.4" font-weight="bold" text-anchor="middle" fill="#000" stroke="#000" stroke-width="0.2">15</text>
<text x="150.0" y="121.2" font-size="5.4" font-weight="bold" text-anchor="middle" fill="#000" stroke="#000" stroke-width="0.2">20</text>
<text x="176.7" y="121.2" font-size="5.4" font-weight="bold" text-anchor="middle" fill="#000" stroke="#000" stroke-width="0.2">25</text>
<text x="203.4" y="121.2" font-size="5.4" font-weight="bold" text-anchor="middle" fill="#000" stroke="#000" stroke-width="0.2">30</text>
<text x="220.5" y="121.4" font-size="6.4" font-weight="bold" text-anchor="middle" fill="#000" stroke="#000" stroke-width="0.2">mL</text>
<line x1="163.0" y1="44.2" x2="180.5" y2="44.2" stroke="#000" stroke-width="2.4"/>
<line x1="163.0" y1="54.6" x2="180.5" y2="54.6" stroke="#2222ff" stroke-width="2.4"/>
<line x1="163.0" y1="65.4" x2="180.5" y2="65.4" stroke="#ff1111" stroke-width="2.4"/>
<text x="184.1" y="46.3" font-size="6.6" font-weight="bold" text-anchor="start" fill="#000" stroke="#000" stroke-width="0.2">AcrIIA19</text>
<text x="184.1" y="56.8" font-size="6.6" font-weight="bold" text-anchor="start" fill="#000" stroke="#000" stroke-width="0.2">SpyCas9</text>
<text x="184.1" y="67.6" font-size="6.6" font-weight="bold" text-anchor="start" fill="#000" stroke="#000" stroke-width="0.2">SpyCas9</text>
<text x="184.4" y="75.5" font-size="6.6" font-weight="bold" text-anchor="start" fill="#000" stroke="#000" stroke-width="0.2">+ AcrIIA19</text>
<path d="M43.2,111.8 C54.3,111.8 97.4,111.8 110.0,111.7 C122.6,111.6 116.8,111.6 118.6,111.2 C120.4,110.8 120.3,110.4 121.0,109.5 C121.7,108.6 122.4,107.2 123.0,105.7 C123.6,104.2 124.1,102.5 124.6,100.5 C125.1,98.5 125.5,96.2 125.9,94.0 C126.3,91.8 126.8,89.2 127.2,87.5 C127.6,85.8 128.1,84.2 128.5,83.8 C128.9,83.3 129.3,84.1 129.8,84.8 C130.3,85.5 130.8,86.9 131.7,88.2 C132.6,89.5 133.5,90.5 135.0,92.5 C136.5,94.5 139.0,97.9 140.5,99.9 C142.0,101.9 142.8,103.0 144.0,104.5 C145.2,106.0 146.6,107.6 147.8,108.6 C149.0,109.6 149.8,110.0 151.0,110.5 C152.2,111.0 144.3,111.2 155.0,111.4 C165.7,111.6 205.0,111.5 215.0,111.5" fill="none" stroke="#ff1a1a" stroke-width="1.2" stroke-linejoin="round"/>
<path d="M43.2,111.7 C50.3,111.7 78.2,111.8 85.7,111.6 C93.2,111.3 87.4,110.6 88.5,110.2 C89.6,109.8 90.4,109.5 92.3,109.2 C94.2,108.9 97.3,108.8 100.0,108.6 C102.7,108.4 106.2,107.9 108.4,107.9 C110.6,107.9 111.3,108.3 113.0,108.6 C114.7,108.9 116.9,109.7 118.6,109.8 C120.3,109.9 121.3,109.8 123.0,109.4 C124.7,109.0 127.4,108.0 128.8,107.2 C130.2,106.4 130.5,106.0 131.5,104.5 C132.5,103.0 133.7,100.8 134.6,98.4 C135.5,96.0 136.3,92.4 137.0,90.0 C137.7,87.6 138.3,85.4 139.0,84.0 C139.7,82.6 140.4,81.7 141.2,81.6 C141.9,81.5 142.7,82.4 143.5,83.5 C144.3,84.6 145.2,86.3 146.3,88.2 C147.4,90.1 148.7,92.5 150.0,95.0 C151.3,97.5 153.4,102.6 154.3,103.5 C155.2,104.4 154.9,101.2 155.2,100.5 C155.4,99.8 155.6,99.1 155.8,99.1 C156.0,99.1 156.2,99.9 156.5,100.5 C156.8,101.1 156.9,101.8 157.3,102.8 C157.7,103.8 158.4,105.2 159.0,106.5 C159.6,107.8 160.2,109.8 160.9,110.6 C161.6,111.4 154.0,111.4 163.0,111.6 C172.0,111.8 206.3,111.7 215.0,111.7" fill="none" stroke="#111" stroke-width="1.2" stroke-linejoin="round"/>
<path d="M43.2,111.6 C50.3,111.6 77.8,112.4 85.7,111.5 C93.6,110.6 89.3,107.9 90.8,106.4 C92.3,104.9 93.3,103.3 94.5,102.5 C95.7,101.7 96.8,101.3 98.1,101.3 C99.3,101.2 100.5,101.9 102.0,102.2 C103.5,102.5 105.2,102.9 106.9,103.1 C108.6,103.3 110.3,103.3 112.0,103.2 C113.7,103.1 115.5,103.3 117.1,102.5 C118.7,101.7 120.3,100.2 121.5,98.4 C122.7,96.7 123.3,94.6 124.0,92.0 C124.7,89.4 124.8,88.8 125.6,83.0 C126.4,77.2 127.9,62.9 128.8,57.5 C129.7,52.1 130.2,52.1 131.0,50.5 C131.8,48.9 132.8,48.2 133.6,48.0 C134.4,47.8 135.2,48.4 136.0,49.5 C136.8,50.6 137.5,52.2 138.3,54.6 C139.1,57.0 140.2,60.4 141.0,64.0 C141.8,67.7 142.6,72.8 143.4,76.5 C144.2,80.2 145.0,83.1 146.0,86.0 C147.0,88.9 148.3,91.9 149.2,94.0 C150.1,96.1 150.8,97.3 151.5,98.5 C152.2,99.7 153.1,101.9 153.6,101.3 C154.1,100.7 154.2,97.1 154.4,95.0 C154.6,92.9 154.6,89.1 154.8,88.9 C155.0,88.7 155.2,92.6 155.4,94.0 C155.6,95.4 155.8,96.3 156.1,97.3 C156.4,98.3 156.8,98.8 157.3,99.9 C157.8,101.0 158.4,102.5 159.0,104.0 C159.6,105.5 160.3,107.5 160.9,108.6 C161.5,109.7 161.9,110.1 162.5,110.6 C163.1,111.1 163.3,111.3 164.6,111.5 C165.8,111.7 168.3,111.7 170.0,111.6 C171.7,111.5 173.7,111.0 175.0,111.0 C176.3,111.0 171.3,111.5 178.0,111.6 C184.7,111.7 208.8,111.6 215.0,111.6" fill="none" stroke="#2a2aff" stroke-width="1.2" stroke-linejoin="round"/>
<line x1="124.5" y1="109.5" x2="44.3" y2="138.0" stroke="#000" stroke-width="0.7"/>
<path d="M41.5,139.0 L43.9,136.9 L44.7,139.1 Z" fill="#000"/>
<line x1="148.8" y1="110.5" x2="165.7" y2="137.8" stroke="#000" stroke-width="0.7"/>
<path d="M167.3,140.3 L164.7,138.4 L166.7,137.1 Z" fill="#000"/>
<text x="33.1" y="138.2" font-size="5.6" font-weight="bold" text-anchor="middle" fill="#000" stroke="#000" stroke-width="0.2">M</text>
<text x="173.0" y="138.2" font-size="5.6" font-weight="bold" text-anchor="middle" fill="#000" stroke="#000" stroke-width="0.2">I</text>
<text x="25.0" y="149.3" font-size="5.6" font-weight="bold" text-anchor="end" fill="#000" stroke="#000" stroke-width="0.2">70</text>
<text x="25.0" y="154.6" font-size="5.6" font-weight="bold" text-anchor="end" fill="#000" stroke="#000" stroke-width="0.2">50</text>
<text x="25.0" y="160.0" font-size="5.6" font-weight="bold" text-anchor="end" fill="#000" stroke="#000" stroke-width="0.2">40</text>
<text x="25.0" y="165.3" font-size="5.6" font-weight="bold" text-anchor="end" fill="#000" stroke="#000" stroke-width="0.2">30</text>
<text x="25.0" y="171.1" font-size="5.6" font-weight="bold" text-anchor="end" fill="#000" stroke="#000" stroke-width="0.2">25</text>
<text x="25.0" y="184.1" font-size="5.6" font-weight="bold" text-anchor="end" fill="#000" stroke="#000" stroke-width="0.2">14</text>
<rect x="27.80" y="139.50" width="158.00" height="53.60" fill="#d5d6da"/>
<rect x="27.8" y="139.5" width="3.0" height="53.5" fill="url(#g1)" filter="url(#b1)"/>
<rect x="28.8" y="141.1" width="8.0" height="1.5" rx="0.8" fill="#2a2a34" fill-opacity="0.25" filter="url(#b05)"/>
<rect x="28.8" y="143.6" width="8.0" height="1.5" rx="0.8" fill="#2a2a34" fill-opacity="0.30" filter="url(#b05)"/>
<rect x="28.8" y="148.8" width="8.0" height="2.2" rx="1.1" fill="#2a2a34" fill-opacity="0.65" filter="url(#b05)"/>
<rect x="28.8" y="151.5" width="8.0" height="1.8" rx="0.9" fill="#2a2a34" fill-opacity="0.60" filter="url(#b05)"/>
<rect x="28.8" y="156.9" width="8.0" height="2.2" rx="1.1" fill="#2a2a34" fill-opacity="0.65" filter="url(#b05)"/>
<rect x="28.8" y="163.3" width="8.0" height="2.4" rx="1.2" fill="#2a2a34" fill-opacity="0.68" filter="url(#b05)"/>
<rect x="28.8" y="168.7" width="8.0" height="2.0" rx="1.0" fill="#2a2a34" fill-opacity="0.50" filter="url(#b05)"/>
<rect x="28.8" y="180.2" width="8.0" height="2.6" rx="1.3" fill="#2a2a34" fill-opacity="0.65" filter="url(#b05)"/>
<rect x="28.5" y="140.0" width="8.5" height="52.0" fill="url(#g2)" filter="url(#b1)"/>
<path d="M39.1,140 L48.7,140 L48.2,192 L39.9,192 Z" fill="url(#g3)" filter="url(#b1)"/>
<rect x="38.7" y="142.5" width="10.5" height="1.8" rx="0.9" fill="#2a2a34" fill-opacity="0.63" filter="url(#b05)"/>
<rect x="38.7" y="147.7" width="10.4" height="1.8" rx="0.9" fill="#2a2a34" fill-opacity="0.23" filter="url(#b05)"/>
<rect x="39.0" y="165.8" width="10.0" height="1.5" rx="0.8" fill="#2a2a34" fill-opacity="0.29" filter="url(#b05)"/>
<rect x="39.3" y="184.3" width="9.5" height="1.8" rx="0.9" fill="#2a2a34" fill-opacity="0.57" filter="url(#b05)"/>
<path d="M51.5,140 L61.7,140 L60.3,192 L50.8,192 Z" fill="url(#g4)" filter="url(#b1)"/>
<rect x="50.7" y="142.0" width="11.8" height="3.6" rx="1.5" fill="#2a2a34" fill-opacity="0.95" filter="url(#b1)"/>
<rect x="50.6" y="147.2" width="11.7" height="2.6" rx="1.3" fill="#2a2a34" fill-opacity="0.56" filter="url(#b1)"/>
<rect x="50.8" y="151.2" width="11.0" height="1.5" rx="0.8" fill="#2a2a34" fill-opacity="0.29" filter="url(#b05)"/>
<rect x="50.7" y="165.6" width="10.9" height="1.8" rx="0.9" fill="#2a2a34" fill-opacity="0.57" filter="url(#b05)"/>
<rect x="50.4" y="183.9" width="10.6" height="2.1" rx="1.1" fill="#2a2a34" fill-opacity="0.80" filter="url(#b05)"/>
<path d="M63.3,140 L72.9,140 L72.7,192 L63.3,192 Z" fill="url(#g5)" filter="url(#b1)"/>
<rect x="62.5" y="140.9" width="11.2" height="6.1" rx="1.5" fill="#2a2a34" fill-opacity="0.95" filter="url(#b1)"/>
<rect x="62.5" y="148.4" width="11.2" height="2.8" rx="1.4" fill="#2a2a34" fill-opacity="0.75" filter="url(#b1)"/>
<rect x="62.8" y="152.1" width="10.5" height="1.8" rx="0.9" fill="#2a2a34" fill-opacity="0.46" filter="url(#b05)"/>
<rect x="62.8" y="156.2" width="10.5" height="1.5" rx="0.8" fill="#2a2a34" fill-opacity="0.23" filter="url(#b05)"/>
<rect x="62.5" y="165.1" width="11.1" height="2.8" rx="1.4" fill="#2a2a34" fill-opacity="0.88" filter="url(#b1)"/>
<rect x="62.5" y="183.8" width="11.0" height="3.0" rx="1.5" fill="#2a2a34" fill-opacity="0.95" filter="url(#b1)"/>
<path d="M75.1,140 L85.3,140 L84.8,192 L75.1,192 Z" fill="url(#g6)" filter="url(#b1)"/>
<rect x="74.3" y="140.9" width="11.8" height="6.1" rx="1.5" fill="#2a2a34" fill-opacity="0.95" filter="url(#b1)"/>
<rect x="74.3" y="148.4" width="11.7" height="2.8" rx="1.4" fill="#2a2a34" fill-opacity="0.75" filter="url(#b1)"/>
<rect x="74.6" y="152.1" width="11.1" height="1.8" rx="0.9" fill="#2a2a34" fill-opacity="0.46" filter="url(#b05)"/>
<rect x="74.6" y="156.2" width="11.1" height="1.5" rx="0.8" fill="#2a2a34" fill-opacity="0.23" filter="url(#b05)"/>
<rect x="74.3" y="165.1" width="11.6" height="2.8" rx="1.4" fill="#2a2a34" fill-opacity="0.88" filter="url(#b1)"/>
<rect x="74.3" y="183.8" width="11.4" height="3.0" rx="1.5" fill="#2a2a34" fill-opacity="0.95" filter="url(#b1)"/>
<path d="M87.3,140 L97.1,140 L96.9,192 L87.5,192 Z" fill="url(#g7)" filter="url(#b1)"/>
<rect x="86.5" y="141.2" width="11.4" height="5.6" rx="1.5" fill="#2a2a34" fill-opacity="0.95" filter="url(#b1)"/>
<rect x="86.5" y="148.4" width="11.3" height="2.8" rx="1.4" fill="#2a2a34" fill-opacity="0.75" filter="url(#b1)"/>
<rect x="86.9" y="152.1" width="10.7" height="1.8" rx="0.9" fill="#2a2a34" fill-opacity="0.52" filter="url(#b05)"/>
<rect x="86.9" y="156.2" width="10.7" height="1.5" rx="0.8" fill="#2a2a34" fill-opacity="0.29" filter="url(#b05)"/>
<rect x="86.6" y="165.2" width="11.2" height="2.6" rx="1.3" fill="#2a2a34" fill-opacity="0.75" filter="url(#b1)"/>
<rect x="86.7" y="183.9" width="11.0" height="2.8" rx="1.4" fill="#2a2a34" fill-opacity="0.94" filter="url(#b1)"/>
<path d="M99.3,140 L108.9,140 L109.1,192 L99.8,192 Z" fill="url(#g8)" filter="url(#b1)"/>
<rect x="98.5" y="141.8" width="11.2" height="4.4" rx="1.5" fill="#2a2a34" fill-opacity="0.95" filter="url(#b1)"/>
<rect x="98.6" y="147.7" width="11.2" height="2.6" rx="1.3" fill="#2a2a34" fill-opacity="0.69" filter="url(#b1)"/>
<rect x="98.9" y="151.6" width="10.5" height="1.8" rx="0.9" fill="#2a2a34" fill-opacity="0.57" filter="url(#b05)"/>
<rect x="98.9" y="154.9" width="10.5" height="2.1" rx="1.1" fill="#2a2a34" fill-opacity="0.75" filter="url(#b05)"/>
<rect x="99.0" y="159.2" width="10.5" height="1.5" rx="0.8" fill="#2a2a34" fill-opacity="0.34" filter="url(#b05)"/>
<rect x="98.7" y="165.2" width="11.1" height="2.6" rx="1.3" fill="#2a2a34" fill-opacity="0.75" filter="url(#b1)"/>
<rect x="99.1" y="169.8" width="10.5" height="1.3" rx="0.7" fill="#2a2a34" fill-opacity="0.29" filter="url(#b05)"/>
<rect x="99.1" y="177.3" width="10.4" height="1.3" rx="0.7" fill="#2a2a34" fill-opacity="0.29" filter="url(#b05)"/>
<rect x="98.9" y="183.9" width="11.0" height="2.6" rx="1.3" fill="#2a2a34" fill-opacity="0.81" filter="url(#b1)"/>
<path d="M111.3,140 L120.8,140 L121.1,192 L112.4,192 Z" fill="url(#g9)" filter="url(#b1)"/>
<rect x="110.6" y="141.7" width="11.0" height="3.6" rx="1.5" fill="#2a2a34" fill-opacity="0.94" filter="url(#b1)"/>
<rect x="111.0" y="147.6" width="10.4" height="1.8" rx="0.9" fill="#2a2a34" fill-opacity="0.52" filter="url(#b05)"/>
<rect x="111.1" y="151.1" width="10.3" height="1.8" rx="0.9" fill="#2a2a34" fill-opacity="0.57" filter="url(#b05)"/>
<rect x="111.1" y="154.9" width="10.3" height="2.1" rx="1.1" fill="#2a2a34" fill-opacity="0.71" filter="url(#b05)"/>
<rect x="111.2" y="159.3" width="10.2" height="1.3" rx="0.7" fill="#2a2a34" fill-opacity="0.34" filter="url(#b05)"/>
<rect x="111.4" y="165.4" width="10.1" height="2.1" rx="1.1" fill="#2a2a34" fill-opacity="0.63" filter="url(#b05)"/>
<rect x="111.5" y="169.8" width="10.0" height="1.5" rx="0.8" fill="#2a2a34" fill-opacity="0.40" filter="url(#b05)"/>
<rect x="111.6" y="178.3" width="9.9" height="1.3" rx="0.7" fill="#2a2a34" fill-opacity="0.34" filter="url(#b05)"/>
<rect x="111.5" y="183.9" width="10.4" height="2.6" rx="1.3" fill="#2a2a34" fill-opacity="0.75" filter="url(#b1)"/>
<path d="M123.2,140 L132.7,140 L133.5,192 L124.9,192 Z" fill="url(#g10)" filter="url(#b1)"/>
<rect x="122.5" y="141.8" width="11.0" height="3.1" rx="1.5" fill="#2a2a34" fill-opacity="0.85" filter="url(#b1)"/>
<rect x="123.0" y="147.6" width="10.4" height="1.8" rx="0.9" fill="#2a2a34" fill-opacity="0.46" filter="url(#b05)"/>
<rect x="123.1" y="151.1" width="10.3" height="1.8" rx="0.9" fill="#2a2a34" fill-opacity="0.46" filter="url(#b05)"/>
<rect x="123.2" y="155.1" width="10.2" height="1.8" rx="0.9" fill="#2a2a34" fill-opacity="0.63" filter="url(#b05)"/>
<rect x="123.4" y="159.3" width="10.2" height="1.3" rx="0.7" fill="#2a2a34" fill-opacity="0.29" filter="url(#b05)"/>
<rect x="123.6" y="165.4" width="10.0" height="2.1" rx="1.1" fill="#2a2a34" fill-opacity="0.63" filter="url(#b05)"/>
<rect x="123.7" y="169.8" width="10.0" height="1.5" rx="0.8" fill="#2a2a34" fill-opacity="0.46" filter="url(#b05)"/>
<rect x="124.0" y="178.2" width="9.8" height="1.5" rx="0.8" fill="#2a2a34" fill-opacity="0.40" filter="url(#b05)"/>
<rect x="123.9" y="183.9" width="10.3" height="2.6" rx="1.3" fill="#2a2a34" fill-opacity="0.69" filter="url(#b1)"/>
<path d="M134.6,140 L143.8,140 L146.1,192 L137.4,192 Z" fill="url(#g11)" filter="url(#b1)"/>
<rect x="134.0" y="141.7" width="10.8" height="2.6" rx="1.3" fill="#2a2a34" fill-opacity="0.72" filter="url(#b1)"/>
<rect x="134.6" y="147.8" width="10.1" height="1.5" rx="0.8" fill="#2a2a34" fill-opacity="0.34" filter="url(#b05)"/>
<rect x="134.8" y="151.2" width="10.1" height="1.5" rx="0.8" fill="#2a2a34" fill-opacity="0.34" filter="url(#b05)"/>
<rect x="134.9" y="154.8" width="10.0" height="1.5" rx="0.8" fill="#2a2a34" fill-opacity="0.52" filter="url(#b05)"/>
<rect x="135.5" y="165.6" width="9.9" height="1.8" rx="0.9" fill="#2a2a34" fill-opacity="0.52" filter="url(#b05)"/>
<rect x="135.8" y="169.8" width="9.9" height="1.5" rx="0.8" fill="#2a2a34" fill-opacity="0.40" filter="url(#b05)"/>
<rect x="136.2" y="178.3" width="9.8" height="1.3" rx="0.7" fill="#2a2a34" fill-opacity="0.29" filter="url(#b05)"/>
<rect x="136.6" y="184.1" width="9.7" height="2.1" rx="1.1" fill="#2a2a34" fill-opacity="0.52" filter="url(#b05)"/>
<path d="M145.9,140 L155.1,140 L158.6,192 L150.0,192 Z" fill="url(#g12)" filter="url(#b1)"/>
<rect x="145.6" y="141.9" width="10.2" height="2.1" rx="1.1" fill="#2a2a34" fill-opacity="0.55" filter="url(#b05)"/>
<rect x="146.1" y="147.8" width="10.1" height="1.3" rx="0.7" fill="#2a2a34" fill-opacity="0.17" filter="url(#b05)"/>
<rect x="146.6" y="154.8" width="10.0" height="1.3" rx="0.7" fill="#2a2a34" fill-opacity="0.34" filter="url(#b05)"/>
<rect x="147.5" y="165.6" width="9.9" height="1.8" rx="0.9" fill="#2a2a34" fill-opacity="0.40" filter="url(#b05)"/>
<rect x="147.8" y="169.8" width="9.9" height="1.3" rx="0.7" fill="#2a2a34" fill-opacity="0.34" filter="url(#b05)"/>
<rect x="148.9" y="184.3" width="9.7" height="1.8" rx="0.9" fill="#2a2a34" fill-opacity="0.40" filter="url(#b05)"/>
<path d="M157.5,140 L166.0,140 L171.0,192 L162.5,192 Z" fill="url(#g13)" filter="url(#b1)"/>
<rect x="157.3" y="142.1" width="9.5" height="1.8" rx="0.9" fill="#2a2a34" fill-opacity="0.46" filter="url(#b05)"/>
<rect x="159.5" y="165.8" width="9.5" height="1.3" rx="0.7" fill="#2a2a34" fill-opacity="0.14" filter="url(#b05)"/>
<rect x="161.3" y="184.4" width="9.5" height="1.5" rx="0.8" fill="#2a2a34" fill-opacity="0.23" filter="url(#b05)"/>
<path d="M166.5,139.5 L183.5,139.5 L183.5,146 L182.8,152 L182.8,188 L173,188 L172.5,153 C171,149 168,146 166.5,143 Z" fill="#2a2a32" fill-opacity="0.55" filter="url(#b05)"/>
<rect x="166.5" y="139.8" width="17.0" height="5.5" rx="1.5" fill="#2a2a34" fill-opacity="0.45" filter="url(#b05)"/>
<rect x="172.8" y="149.0" width="10.0" height="2.0" rx="1.0" fill="#2a2a34" fill-opacity="0.20" filter="url(#b05)"/>
<rect x="172.8" y="154.0" width="10.0" height="2.0" rx="1.0" fill="#2a2a34" fill-opacity="0.15" filter="url(#b05)"/>
<rect x="172.8" y="158.8" width="10.0" height="2.5" rx="1.2" fill="#2a2a34" fill-opacity="0.20" filter="url(#b05)"/>
<rect x="172.8" y="163.8" width="10.0" height="2.5" rx="1.2" fill="#2a2a34" fill-opacity="0.28" filter="url(#b05)"/>
<rect x="172.8" y="169.0" width="10.0" height="2.0" rx="1.0" fill="#2a2a34" fill-opacity="0.15" filter="url(#b05)"/>
<rect x="172.8" y="174.0" width="10.0" height="2.0" rx="1.0" fill="#2a2a34" fill-opacity="0.20" filter="url(#b05)"/>
<rect x="172.8" y="178.0" width="10.0" height="2.0" rx="1.0" fill="#2a2a34" fill-opacity="0.15" filter="url(#b05)"/>
<rect x="172.8" y="181.5" width="10.0" height="5.0" rx="1.5" fill="#2a2a34" fill-opacity="0.45" filter="url(#b05)"/>
<rect x="27.8" y="139.5" width="158.0" height="53.6" fill="none" stroke="#606068" stroke-width="0.9"/>
<line x1="189.9" y1="142.5" x2="196.0" y2="142.5" stroke="#000" stroke-width="1.5"/>
<path d="M186.2,142.5 L190.4,140.5 L190.4,144.5 Z" fill="#000"/>
<line x1="189.9" y1="183.8" x2="196.0" y2="183.8" stroke="#000" stroke-width="1.5"/>
<path d="M186.2,183.8 L190.4,181.8 L190.4,185.8 Z" fill="#000"/>
<text x="197.0" y="145.2" font-size="6.6" font-weight="bold" text-anchor="start" fill="#000" stroke="#000" stroke-width="0.2">Tagged</text>
<text x="197.0" y="152.8" font-size="6.6" font-weight="bold" text-anchor="start" fill="#000" stroke="#000" stroke-width="0.2">SpyCas9</text>
<text x="197.0" y="186.5" font-size="6.6" font-weight="bold" text-anchor="start" fill="#000" stroke="#000" stroke-width="0.2">Tagged</text>
<text x="197.0" y="194.1" font-size="6.6" font-weight="bold" text-anchor="start" fill="#000" stroke="#000" stroke-width="0.2">AcrIIA19</text>
<text x="239.0" y="14.8" font-size="18.5" font-weight="bold" text-anchor="start" fill="#000">B</text>
<text x="278.0" y="25.0" font-size="6.3" font-weight="bold" text-anchor="middle" fill="#000" stroke="#000" stroke-width="0.2">M</text>
<text x="292.4" y="25.0" font-size="6.3" font-weight="bold" text-anchor="middle" fill="#000" stroke="#000" stroke-width="0.2">S</text>
<text x="307.0" y="25.0" font-size="6.3" font-weight="bold" text-anchor="middle" fill="#000" stroke="#000" stroke-width="0.2">P</text>
<text x="321.0" y="25.0" font-size="6.3" font-weight="bold" text-anchor="middle" fill="#000" stroke="#000" stroke-width="0.2">F</text>
<text x="333.7" y="25.0" font-size="6.3" font-weight="bold" text-anchor="middle" fill="#000" stroke="#000" stroke-width="0.2">W</text>
<text x="346.7" y="25.0" font-size="6.3" font-weight="bold" text-anchor="middle" fill="#000" stroke="#000" stroke-width="0.2">E1</text>
<text x="360.3" y="25.0" font-size="6.3" font-weight="bold" text-anchor="middle" fill="#000" stroke="#000" stroke-width="0.2">E2</text>
<text x="375.0" y="25.0" font-size="6.3" font-weight="bold" text-anchor="middle" fill="#000" stroke="#000" stroke-width="0.2">E3</text>
<text x="387.7" y="25.0" font-size="6.3" font-weight="bold" text-anchor="middle" fill="#000" stroke="#000" stroke-width="0.2">E4</text>
<text x="401.0" y="25.0" font-size="6.3" font-weight="bold" text-anchor="middle" fill="#000" stroke="#000" stroke-width="0.2">E5</text>
<text x="269.4" y="30.1" font-size="6.0" font-weight="bold" text-anchor="end" fill="#000" stroke="#000" stroke-width="0.2">120</text>
<text x="269.4" y="37.1" font-size="6.0" font-weight="bold" text-anchor="end" fill="#000" stroke="#000" stroke-width="0.2">100</text>
<text x="269.4" y="44.8" font-size="6.0" font-weight="bold" text-anchor="end" fill="#000" stroke="#000" stroke-width="0.2">70</text>
<text x="269.4" y="50.5" font-size="6.0" font-weight="bold" text-anchor="end" fill="#000" stroke="#000" stroke-width="0.2">50</text>
<text x="269.4" y="57.5" font-size="6.0" font-weight="bold" text-anchor="end" fill="#000" stroke="#000" stroke-width="0.2">40</text>
<text x="269.4" y="66.6" font-size="6.0" font-weight="bold" text-anchor="end" fill="#000" stroke="#000" stroke-width="0.2">30</text>
<text x="269.4" y="75.0" font-size="6.0" font-weight="bold" text-anchor="end" fill="#000" stroke="#000" stroke-width="0.2">25</text>
<text x="269.4" y="93.2" font-size="6.0" font-weight="bold" text-anchor="end" fill="#000" stroke="#000" stroke-width="0.2">14</text>
<rect x="271.50" y="28.50" width="139.30" height="83.00" fill="#c6c7cf"/>
<rect x="273.3" y="33.1" width="10.2" height="2.2" rx="1.1" fill="#2a2a34" fill-opacity="0.62" filter="url(#b1)"/>
<rect x="273.3" y="41.9" width="10.2" height="2.2" rx="1.1" fill="#2a2a34" fill-opacity="0.62" filter="url(#b1)"/>
<rect x="273.3" y="47.4" width="10.2" height="2.2" rx="1.1" fill="#2a2a34" fill-opacity="0.58" filter="url(#b1)"/>
<rect x="273.3" y="54.9" width="10.2" height="2.4" rx="1.2" fill="#2a2a34" fill-opacity="0.68" filter="url(#b1)"/>
<rect x="273.3" y="64.7" width="10.2" height="2.6" rx="1.3" fill="#2a2a34" fill-opacity="0.70" filter="url(#b1)"/>
<rect x="273.3" y="73.0" width="10.2" height="2.6" rx="1.3" fill="#2a2a34" fill-opacity="0.68" filter="url(#b1)"/>
<rect x="273.3" y="89.8" width="10.2" height="2.8" rx="1.4" fill="#2a2a34" fill-opacity="0.62" filter="url(#b1)"/>
<rect x="273.3" y="29.0" width="10.2" height="82.0" fill="url(#g14)" filter="url(#b1)"/>
<rect x="286.3" y="29.0" width="12.9" height="82.0" fill="url(#g15)" filter="url(#b1)"/>
<rect x="286.3" y="30.0" width="12.9" height="2.0" rx="1.0" fill="#2a2a34" fill-opacity="0.40" filter="url(#b1)"/>
<rect x="286.3" y="35.2" width="12.9" height="1.5" rx="0.8" fill="#2a2a34" fill-opacity="0.25" filter="url(#b1)"/>
<rect x="286.3" y="56.2" width="12.9" height="1.5" rx="0.8" fill="#2a2a34" fill-opacity="0.20" filter="url(#b1)"/>
<rect x="286.3" y="63.7" width="12.9" height="1.5" rx="0.8" fill="#2a2a34" fill-opacity="0.20" filter="url(#b1)"/>
<rect x="286.3" y="87.0" width="12.9" height="2.0" rx="1.0" fill="#2a2a34" fill-opacity="0.30" filter="url(#b1)"/>
<rect x="286.3" y="91.2" width="12.9" height="1.5" rx="0.8" fill="#2a2a34" fill-opacity="0.30" filter="url(#b1)"/>
<rect x="286.3" y="98.4" width="12.9" height="4.0" rx="1.5" fill="#2a2a34" fill-opacity="0.70" filter="url(#b1)"/>
<rect x="300.1" y="29.0" width="12.0" height="82.0" fill="url(#g16)" filter="url(#b1)"/>
<rect x="300.1" y="30.0" width="12.0" height="2.0" rx="1.0" fill="#2a2a34" fill-opacity="0.35" filter="url(#b1)"/>
<rect x="300.1" y="63.8" width="12.0" height="1.2" rx="0.6" fill="#2a2a34" fill-opacity="0.12" filter="url(#b1)"/>
<rect x="300.1" y="87.2" width="12.0" height="1.5" rx="0.8" fill="#2a2a34" fill-opacity="0.15" filter="url(#b1)"/>
<rect x="300.1" y="99.2" width="12.0" height="2.5" rx="1.2" fill="#2a2a34" fill-opacity="0.40" filter="url(#b1)"/>
<rect x="312.7" y="29.0" width="13.3" height="82.0" fill="url(#g17)" filter="url(#b1)"/>
<rect x="312.7" y="30.0" width="13.3" height="2.0" rx="1.0" fill="#2a2a34" fill-opacity="0.40" filter="url(#b1)"/>
<rect x="312.7" y="35.2" width="13.3" height="1.5" rx="0.8" fill="#2a2a34" fill-opacity="0.25" filter="url(#b1)"/>
<rect x="312.7" y="56.2" width="13.3" height="1.5" rx="0.8" fill="#2a2a34" fill-opacity="0.20" filter="url(#b1)"/>
<rect x="312.7" y="63.7" width="13.3" height="1.5" rx="0.8" fill="#2a2a34" fill-opacity="0.20" filter="url(#b1)"/>
<rect x="312.7" y="87.0" width="13.3" height="2.0" rx="1.0" fill="#2a2a34" fill-opacity="0.35" filter="url(#b1)"/>
<rect x="312.7" y="91.2" width="13.3" height="1.5" rx="0.8" fill="#2a2a34" fill-opacity="0.30" filter="url(#b1)"/>
<rect x="312.7" y="98.4" width="13.3" height="4.0" rx="1.5" fill="#2a2a34" fill-opacity="0.70" filter="url(#b1)"/>
<rect x="327.8" y="29.0" width="12.1" height="82.0" fill="url(#g18)" filter="url(#b1)"/>
<rect x="327.8" y="32.2" width="12.1" height="1.5" rx="0.8" fill="#2a2a34" fill-opacity="0.30" filter="url(#b1)"/>
<rect x="327.8" y="87.2" width="12.1" height="1.5" rx="0.8" fill="#2a2a34" fill-opacity="0.15" filter="url(#b1)"/>
<rect x="327.8" y="99.2" width="12.1" height="2.5" rx="1.2" fill="#2a2a34" fill-opacity="0.40" filter="url(#b1)"/>
<rect x="340.2" y="28.5" width="12.9" height="82.5" fill="url(#g19)" filter="url(#b05)"/>
<rect x="340.2" y="55.9" width="12.9" height="2.2" rx="1.1" fill="#2a2a34" fill-opacity="0.30" filter="url(#b1)"/>
<rect x="340.2" y="63.3" width="12.9" height="2.2" rx="1.1" fill="#2a2a34" fill-opacity="0.35" filter="url(#b1)"/>
<rect x="340.2" y="70.6" width="12.9" height="2.4" rx="1.2" fill="#2a2a34" fill-opacity="0.40" filter="url(#b1)"/>
<rect x="340.2" y="76.3" width="12.9" height="2.0" rx="1.0" fill="#2a2a34" fill-opacity="0.30" filter="url(#b1)"/>
<rect x="340.2" y="88.1" width="12.9" height="2.4" rx="1.2" fill="#2a2a34" fill-opacity="0.35" filter="url(#b1)"/>
<rect x="340.2" y="97.2" width="12.9" height="4.5" rx="1.5" fill="#2a2a34" fill-opacity="0.70" filter="url(#b1)"/>
<rect x="354.4" y="28.5" width="12.0" height="82.5" fill="url(#g20)" filter="url(#b05)"/>
<rect x="354.4" y="55.9" width="12.0" height="2.2" rx="1.1" fill="#2a2a34" fill-opacity="0.30" filter="url(#b1)"/>
<rect x="354.4" y="63.3" width="12.0" height="2.2" rx="1.1" fill="#2a2a34" fill-opacity="0.35" filter="url(#b1)"/>
<rect x="354.4" y="70.6" width="12.0" height="2.4" rx="1.2" fill="#2a2a34" fill-opacity="0.40" filter="url(#b1)"/>
<rect x="354.4" y="76.3" width="12.0" height="2.0" rx="1.0" fill="#2a2a34" fill-opacity="0.30" filter="url(#b1)"/>
<rect x="354.4" y="88.1" width="12.0" height="2.4" rx="1.2" fill="#2a2a34" fill-opacity="0.35" filter="url(#b1)"/>
<rect x="354.4" y="97.2" width="12.0" height="4.5" rx="1.5" fill="#2a2a34" fill-opacity="0.78" filter="url(#b1)"/>
<rect x="367.9" y="29.0" width="13.3" height="82.0" fill="url(#g21)" filter="url(#b1)"/>
<rect x="367.9" y="56.0" width="13.3" height="2.0" rx="1.0" fill="#2a2a34" fill-opacity="0.30" filter="url(#b1)"/>
<rect x="367.9" y="63.4" width="13.3" height="2.0" rx="1.0" fill="#2a2a34" fill-opacity="0.30" filter="url(#b1)"/>
<rect x="367.9" y="70.8" width="13.3" height="2.0" rx="1.0" fill="#2a2a34" fill-opacity="0.35" filter="url(#b1)"/>
<rect x="367.9" y="76.3" width="13.3" height="2.0" rx="1.0" fill="#2a2a34" fill-opacity="0.25" filter="url(#b1)"/>
<rect x="367.9" y="88.3" width="13.3" height="2.0" rx="1.0" fill="#2a2a34" fill-opacity="0.30" filter="url(#b1)"/>
<rect x="367.9" y="98.0" width="13.3" height="3.0" rx="1.5" fill="#2a2a34" fill-opacity="0.55" filter="url(#b1)"/>
<rect x="382.1" y="29.0" width="12.1" height="82.0" fill="url(#g22)" filter="url(#b1)"/>
<rect x="382.1" y="31.9" width="12.1" height="2.8" rx="1.4" fill="#2a2a34" fill-opacity="0.85" filter="url(#b05)"/>
<rect x="382.1" y="43.4" width="12.1" height="1.2" rx="0.6" fill="#2a2a34" fill-opacity="0.15" filter="url(#b05)"/>
<rect x="382.1" y="50.4" width="12.1" height="1.2" rx="0.6" fill="#2a2a34" fill-opacity="0.15" filter="url(#b05)"/>
<rect x="382.1" y="56.2" width="12.1" height="1.5" rx="0.8" fill="#2a2a34" fill-opacity="0.20" filter="url(#b05)"/>
<rect x="382.1" y="63.7" width="12.1" height="1.5" rx="0.8" fill="#2a2a34" fill-opacity="0.25" filter="url(#b05)"/>
<rect x="382.1" y="71.0" width="12.1" height="1.5" rx="0.8" fill="#2a2a34" fill-opacity="0.25" filter="url(#b05)"/>
<rect x="382.1" y="76.7" width="12.1" height="1.2" rx="0.6" fill="#2a2a34" fill-opacity="0.15" filter="url(#b05)"/>
<rect x="382.1" y="88.5" width="12.1" height="1.5" rx="0.8" fill="#2a2a34" fill-opacity="0.20" filter="url(#b05)"/>
<rect x="382.1" y="98.4" width="12.1" height="2.2" rx="1.1" fill="#2a2a34" fill-opacity="0.45" filter="url(#b05)"/>
<rect x="395.0" y="29.0" width="14.9" height="82.0" fill="url(#g23)" filter="url(#b1)"/>
<rect x="395.0" y="32.1" width="14.9" height="2.4" rx="1.2" fill="#2a2a34" fill-opacity="0.65" filter="url(#b05)"/>
<rect x="395.0" y="71.2" width="14.9" height="1.2" rx="0.6" fill="#2a2a34" fill-opacity="0.12" filter="url(#b05)"/>
<rect x="395.0" y="98.7" width="14.9" height="1.6" rx="0.8" fill="#2a2a34" fill-opacity="0.25" filter="url(#b05)"/>
<rect x="271.5" y="28.5" width="139.3" height="83.0" fill="none" stroke="#505058" stroke-width="0.9"/>
<line x1="415.2" y1="34.2" x2="421.5" y2="34.2" stroke="#000" stroke-width="1.5"/>
<path d="M411.5,34.2 L415.7,32.2 L415.7,36.2 Z" fill="#000"/>
<text x="425.0" y="37.2" font-size="6.6" font-weight="bold" text-anchor="start" fill="#000" stroke="#000" stroke-width="0.2">Tagged</text>
<text x="425.0" y="44.8" font-size="6.6" font-weight="bold" text-anchor="start" fill="#000" stroke="#000" stroke-width="0.2">SpyCas9</text>
<line x1="415.2" y1="98.2" x2="421.5" y2="98.2" stroke="#000" stroke-width="1.5"/>
<path d="M411.5,98.2 L415.7,96.2 L415.7,100.2 Z" fill="#000"/>
<text x="423.5" y="99.2" font-size="6.6" font-weight="bold" text-anchor="start" fill="#000" stroke="#000" stroke-width="0.2">Untagged</text>
<text x="423.5" y="106.7" font-size="6.6" font-weight="bold" text-anchor="start" fill="#000" stroke="#000" stroke-width="0.2">AcrIIA19</text>
<text x="238.2" y="137.6" font-size="18.5" font-weight="bold" text-anchor="start" fill="#000">C</text>
<rect x="280.1" y="154" width="8.3" height="19.7" fill="#4ec45a" stroke="#333" stroke-width="0.5"/>
<text x="285.9" y="163.9" font-size="4.5" font-weight="bold" text-anchor="middle" fill="#000" stroke="#000" stroke-width="0.2" transform="rotate(-90 285.9 163.9)">RuvC-I</text>
<rect x="288.4" y="154" width="5.6" height="19.7" fill="#dce830" stroke="#333" stroke-width="0.5"/>
<text x="292.8" y="163.9" font-size="4.5" font-weight="bold" text-anchor="middle" fill="#000" stroke="#000" stroke-width="0.2" transform="rotate(-90 292.8 163.9)">BH</text>
<rect x="294.0" y="154" width="15.6" height="19.7" fill="#8a8a8a" stroke="#333" stroke-width="0.5"/>
<text x="303.4" y="163.9" font-size="4.5" font-weight="bold" text-anchor="middle" fill="#000" stroke="#000" stroke-width="0.2" transform="rotate(-90 303.4 163.9)">REC1</text>
<rect x="309.6" y="154" width="18.4" height="19.7" fill="#ececdc" stroke="#333" stroke-width="0.5"/>
<text x="320.4" y="163.9" font-size="4.5" font-weight="bold" text-anchor="middle" fill="#000" stroke="#000" stroke-width="0.2" transform="rotate(-90 320.4 163.9)">REC2</text>
<rect x="328.0" y="154" width="23.6" height="19.7" fill="#8a8a8a" stroke="#333" stroke-width="0.5"/>
<text x="341.4" y="163.9" font-size="4.5" font-weight="bold" text-anchor="middle" fill="#000" stroke="#000" stroke-width="0.2" transform="rotate(-90 341.4 163.9)">REC1</text>
<rect x="351.6" y="154" width="28.3" height="19.7" fill="#9c9464" stroke="#333" stroke-width="0.5"/>
<text x="367.4" y="163.9" font-size="4.5" font-weight="bold" text-anchor="middle" fill="#000" stroke="#000" stroke-width="0.2" transform="rotate(-90 367.4 163.9)">REC3</text>
<rect x="379.9" y="154" width="12.3" height="19.7" fill="#4ec45a" stroke="#333" stroke-width="0.5"/>
<text x="387.6" y="163.9" font-size="4.5" font-weight="bold" text-anchor="middle" fill="#000" stroke="#000" stroke-width="0.2" transform="rotate(-90 387.6 163.9)">RuvC-II</text>
<rect x="392.2" y="154" width="19.1" height="19.7" fill="#ff22ee" stroke="#333" stroke-width="0.5"/>
<text x="403.4" y="163.9" font-size="4.5" font-weight="bold" text-anchor="middle" fill="#000" stroke="#000" stroke-width="0.2" transform="rotate(-90 403.4 163.9)">HNH</text>
<rect x="411.3" y="154" width="18.1" height="19.7" fill="#4ec45a" stroke="#333" stroke-width="0.5"/>
<text x="422.0" y="163.9" font-size="4.5" font-weight="bold" text-anchor="middle" fill="#000" stroke="#000" stroke-width="0.2" transform="rotate(-90 422.0 163.9)">RuvC-III</text>
<rect x="429.4" y="154" width="12.4" height="19.7" fill="#4070f0" stroke="#333" stroke-width="0.5"/>
<text x="437.2" y="163.9" font-size="4.5" font-weight="bold" text-anchor="middle" fill="#000" stroke="#000" stroke-width="0.2" transform="rotate(-90 437.2 163.9)">WED</text>
<rect x="441.8" y="154" width="24.8" height="19.7" fill="#55bbee" stroke="#333" stroke-width="0.5"/>
<text x="455.8" y="163.9" font-size="4.5" font-weight="bold" text-anchor="middle" fill="#000" stroke="#000" stroke-width="0.2" transform="rotate(-90 455.8 163.9)">PI</text>
<text x="280.6" y="151.5" font-size="4.7" font-weight="bold" text-anchor="middle" fill="#000" stroke="#000" stroke-width="0.2">1</text>
<text x="289.6" y="151.5" font-size="4.7" font-weight="bold" text-anchor="middle" fill="#000" stroke="#000" stroke-width="0.2">60</text>
<text x="296.2" y="151.5" font-size="4.7" font-weight="bold" text-anchor="middle" fill="#000" stroke="#000" stroke-width="0.2">94</text>
<text x="310.8" y="151.5" font-size="4.7" font-weight="bold" text-anchor="middle" fill="#000" stroke="#000" stroke-width="0.2">180</text>
<text x="327.8" y="151.5" font-size="4.7" font-weight="bold" text-anchor="middle" fill="#000" stroke="#000" stroke-width="0.2">308</text>
<text x="351.6" y="151.5" font-size="4.7" font-weight="bold" text-anchor="middle" fill="#000" stroke="#000" stroke-width="0.2">497</text>
<text x="380.0" y="151.5" font-size="4.7" font-weight="bold" text-anchor="middle" fill="#000" stroke="#000" stroke-width="0.2">718</text>
<text x="393.4" y="151.5" font-size="4.7" font-weight="bold" text-anchor="middle" fill="#000" stroke="#000" stroke-width="0.2">773</text>
<text x="410.9" y="151.5" font-size="4.7" font-weight="bold" text-anchor="middle" fill="#000" stroke="#000" stroke-width="0.2">909</text>
<text x="428.1" y="151.5" font-size="4.7" font-weight="bold" text-anchor="middle" fill="#000" stroke="#000" stroke-width="0.2">1099</text>
<text x="441.5" y="151.5" font-size="4.7" font-weight="bold" text-anchor="middle" fill="#000" stroke="#000" stroke-width="0.2">1200</text>
<text x="463.4" y="151.5" font-size="4.7" font-weight="bold" text-anchor="middle" fill="#000" stroke="#000" stroke-width="0.2">1368</text>
<text x="277.6" y="166.8" font-size="6.9" font-weight="bold" text-anchor="end" fill="#000" stroke="#000" stroke-width="0.2">SpyCas9</text>
<text x="325.3" y="195.4" font-size="6.6" font-weight="bold" text-anchor="middle" fill="#000" stroke="#000" stroke-width="0.2">[REC1-2]</text>
<line x1="295.9" y1="198.8" x2="352.0" y2="198.8" stroke="#000" stroke-width="1.6"/>
<text x="367.4" y="205.0" font-size="6.6" font-weight="bold" text-anchor="middle" fill="#000" stroke="#000" stroke-width="0.2">[REC3]</text>
<line x1="354.4" y1="209.8" x2="378.9" y2="209.8" stroke="#000" stroke-width="1.6"/>
<text x="404.1" y="216.3" font-size="6.6" font-weight="bold" text-anchor="middle" fill="#000" stroke="#000" stroke-width="0.2">[HNH]</text>
<line x1="393.0" y1="220.4" x2="414.0" y2="220.4" stroke="#000" stroke-width="1.6"/>
<text x="438.5" y="223.4" font-size="6.6" font-weight="bold" text-anchor="middle" fill="#000" stroke="#000" stroke-width="0.2">[WED]</text>
<line x1="429.7" y1="227.4" x2="443.7" y2="227.4" stroke="#000" stroke-width="1.6"/>
<text x="465.8" y="16.6" font-size="18.5" font-weight="bold" text-anchor="start" fill="#000">D</text>
<text x="529.0" y="19.7" font-size="6.0" font-weight="bold" text-anchor="middle" fill="#000" stroke="#000" stroke-width="0.2">M</text>
<text x="539.8" y="19.7" font-size="6.0" font-weight="bold" text-anchor="middle" fill="#000" stroke="#000" stroke-width="0.2">S</text>
<text x="552.0" y="19.7" font-size="6.0" font-weight="bold" text-anchor="middle" fill="#000" stroke="#000" stroke-width="0.2">P</text>
<text x="563.5" y="19.7" font-size="6.0" font-weight="bold" text-anchor="middle" fill="#000" stroke="#000" stroke-width="0.2">F</text>
<text x="574.3" y="19.7" font-size="6.0" font-weight="bold" text-anchor="middle" fill="#000" stroke="#000" stroke-width="0.2">W</text>
<text x="585.8" y="19.7" font-size="6.0" font-weight="bold" text-anchor="middle" fill="#000" stroke="#000" stroke-width="0.2">E1</text>
<text x="596.3" y="19.7" font-size="6.0" font-weight="bold" text-anchor="middle" fill="#000" stroke="#000" stroke-width="0.2">E2</text>
<text x="608.5" y="19.7" font-size="6.0" font-weight="bold" text-anchor="middle" fill="#000" stroke="#000" stroke-width="0.2">E3</text>
<text x="618.7" y="19.7" font-size="6.0" font-weight="bold" text-anchor="middle" fill="#000" stroke="#000" stroke-width="0.2">E4</text>
<text x="629.8" y="19.7" font-size="6.0" font-weight="bold" text-anchor="middle" fill="#000" stroke="#000" stroke-width="0.2">E5</text>
<text x="512.6" y="46.6" font-size="8.5" font-weight="bold" text-anchor="end" fill="#000" stroke="#000" stroke-width="0.2">[REC1-2]</text>
<text x="522.4" y="28.8" font-size="4.9" font-weight="bold" text-anchor="end" fill="#000" stroke="#000" stroke-width="0.2">70</text>
<text x="522.4" y="32.2" font-size="4.9" font-weight="bold" text-anchor="end" fill="#000" stroke="#000" stroke-width="0.2">50</text>
<text x="522.4" y="37.9" font-size="4.9" font-weight="bold" text-anchor="end" fill="#000" stroke="#000" stroke-width="0.2">40</text>
<text x="522.4" y="42.1" font-size="4.9" font-weight="bold" text-anchor="end" fill="#000" stroke="#000" stroke-width="0.2">30</text>
<text x="522.4" y="46.8" font-size="4.9" font-weight="bold" text-anchor="end" fill="#000" stroke="#000" stroke-width="0.2">25</text>
<text x="522.4" y="56.7" font-size="4.9" font-weight="bold" text-anchor="end" fill="#000" stroke="#000" stroke-width="0.2">14</text>
<line x1="642.7" y1="36.8" x2="649.5" y2="36.8" stroke="#000" stroke-width="1.5"/>
<path d="M639.0,36.8 L643.2,34.8 L643.2,38.8 Z" fill="#000"/>
<text x="652.8" y="35.0" font-size="6.6" font-weight="bold" text-anchor="start" fill="#000" stroke="#000" stroke-width="0.2">Tagged</text>
<text x="652.8" y="43.0" font-size="6.6" font-weight="bold" text-anchor="start" fill="#000" stroke="#000" stroke-width="0.2">REC1-2</text>
<line x1="642.7" y1="58.6" x2="649.5" y2="58.6" stroke="#000" stroke-width="1.5"/>
<path d="M639.0,58.6 L643.2,56.6 L643.2,60.6 Z" fill="#000"/>
<text x="652.8" y="57.0" font-size="6.6" font-weight="bold" text-anchor="start" fill="#000" stroke="#000" stroke-width="0.2">Untagged</text>
<text x="652.8" y="65.2" font-size="6.6" font-weight="bold" text-anchor="start" fill="#000" stroke="#000" stroke-width="0.2">AcrIIA19</text>
<rect x="523.00" y="20.40" width="114.80" height="46.50" fill="#c9cad2"/>
<rect x="525.4" y="22.6" width="6.5" height="1.6" fill="#000" fill-opacity="0.30" filter="url(#b05)"/>
<rect x="525.4" y="26.3" width="6.5" height="1.6" fill="#000" fill-opacity="0.30" filter="url(#b05)"/>
<rect x="525.4" y="29.7" width="6.5" height="1.6" fill="#000" fill-opacity="0.30" filter="url(#b05)"/>
<rect x="525.4" y="35.4" width="6.5" height="1.6" fill="#000" fill-opacity="0.30" filter="url(#b05)"/>
<rect x="525.4" y="39.6" width="6.5" height="1.6" fill="#000" fill-opacity="0.30" filter="url(#b05)"/>
<rect x="525.4" y="44.3" width="6.5" height="1.6" fill="#000" fill-opacity="0.30" filter="url(#b05)"/>
<rect x="525.4" y="54.2" width="6.5" height="1.6" fill="#000" fill-opacity="0.30" filter="url(#b05)"/>
<rect x="534.3" y="21.0" width="10.8" height="45.0" fill="url(#g24)" filter="url(#b1)"/>
<rect x="534.0" y="23.5" width="11.4" height="1.0" rx="0.5" fill="#2a2a34" fill-opacity="0.13" filter="url(#b05)"/>
<rect x="534.0" y="26.5" width="11.4" height="1.0" rx="0.5" fill="#2a2a34" fill-opacity="0.11" filter="url(#b05)"/>
<rect x="534.0" y="29.5" width="11.4" height="1.0" rx="0.5" fill="#2a2a34" fill-opacity="0.10" filter="url(#b05)"/>
<rect x="534.0" y="42.5" width="11.4" height="1.0" rx="0.5" fill="#2a2a34" fill-opacity="0.10" filter="url(#b05)"/>
<rect x="534.0" y="45.5" width="11.4" height="1.0" rx="0.5" fill="#2a2a34" fill-opacity="0.10" filter="url(#b05)"/>
<rect x="534.0" y="48.5" width="11.4" height="1.0" rx="0.5" fill="#2a2a34" fill-opacity="0.08" filter="url(#b05)"/>
<rect x="546.6" y="21.0" width="10.8" height="45.0" fill="url(#g25)" filter="url(#b1)"/>
<rect x="546.3" y="23.5" width="11.4" height="1.0" rx="0.5" fill="#2a2a34" fill-opacity="0.08" filter="url(#b05)"/>
<rect x="546.3" y="26.5" width="11.4" height="1.0" rx="0.5" fill="#2a2a34" fill-opacity="0.07" filter="url(#b05)"/>
<rect x="546.3" y="29.5" width="11.4" height="1.0" rx="0.5" fill="#2a2a34" fill-opacity="0.06" filter="url(#b05)"/>
<rect x="546.3" y="42.5" width="11.4" height="1.0" rx="0.5" fill="#2a2a34" fill-opacity="0.06" filter="url(#b05)"/>
<rect x="546.3" y="45.5" width="11.4" height="1.0" rx="0.5" fill="#2a2a34" fill-opacity="0.06" filter="url(#b05)"/>
<rect x="546.3" y="48.5" width="11.4" height="1.0" rx="0.5" fill="#2a2a34" fill-opacity="0.05" filter="url(#b05)"/>
<rect x="558.6" y="21.0" width="10.1" height="45.0" fill="url(#g26)" filter="url(#b1)"/>
<rect x="558.3" y="23.5" width="10.7" height="1.0" rx="0.5" fill="#2a2a34" fill-opacity="0.14" filter="url(#b05)"/>
<rect x="558.3" y="26.5" width="10.7" height="1.0" rx="0.5" fill="#2a2a34" fill-opacity="0.13" filter="url(#b05)"/>
<rect x="558.3" y="29.5" width="10.7" height="1.0" rx="0.5" fill="#2a2a34" fill-opacity="0.11" filter="url(#b05)"/>
<rect x="558.3" y="42.5" width="10.7" height="1.0" rx="0.5" fill="#2a2a34" fill-opacity="0.11" filter="url(#b05)"/>
<rect x="558.3" y="45.5" width="10.7" height="1.0" rx="0.5" fill="#2a2a34" fill-opacity="0.11" filter="url(#b05)"/>
<rect x="558.3" y="48.5" width="10.7" height="1.0" rx="0.5" fill="#2a2a34" fill-opacity="0.09" filter="url(#b05)"/>
<rect x="570.3" y="21.0" width="9.9" height="45.0" fill="url(#g27)" filter="url(#b1)"/>
<rect x="570.0" y="23.5" width="10.5" height="1.0" rx="0.5" fill="#2a2a34" fill-opacity="0.04" filter="url(#b05)"/>
<rect x="570.0" y="26.5" width="10.5" height="1.0" rx="0.5" fill="#2a2a34" fill-opacity="0.03" filter="url(#b05)"/>
<rect x="570.0" y="29.5" width="10.5" height="1.0" rx="0.5" fill="#2a2a34" fill-opacity="0.03" filter="url(#b05)"/>
<rect x="570.0" y="42.5" width="10.5" height="1.0" rx="0.5" fill="#2a2a34" fill-opacity="0.03" filter="url(#b05)"/>
<rect x="570.0" y="45.5" width="10.5" height="1.0" rx="0.5" fill="#2a2a34" fill-opacity="0.03" filter="url(#b05)"/>
<rect x="570.0" y="48.5" width="10.5" height="1.0" rx="0.5" fill="#2a2a34" fill-opacity="0.03" filter="url(#b05)"/>
<rect x="580.8" y="21.0" width="9.8" height="45.0" fill="url(#g28)" filter="url(#b1)"/>
<rect x="580.5" y="23.5" width="10.4" height="1.0" rx="0.5" fill="#2a2a34" fill-opacity="0.16" filter="url(#b05)"/>
<rect x="580.5" y="26.5" width="10.4" height="1.0" rx="0.5" fill="#2a2a34" fill-opacity="0.14" filter="url(#b05)"/>
<rect x="580.5" y="29.5" width="10.4" height="1.0" rx="0.5" fill="#2a2a34" fill-opacity="0.12" filter="url(#b05)"/>
<rect x="580.5" y="42.5" width="10.4" height="1.0" rx="0.5" fill="#2a2a34" fill-opacity="0.12" filter="url(#b05)"/>
<rect x="580.5" y="45.5" width="10.4" height="1.0" rx="0.5" fill="#2a2a34" fill-opacity="0.12" filter="url(#b05)"/>
<rect x="580.5" y="48.5" width="10.4" height="1.0" rx="0.5" fill="#2a2a34" fill-opacity="0.10" filter="url(#b05)"/>
<rect x="591.2" y="21.0" width="11.7" height="45.0" fill="url(#g29)" filter="url(#b1)"/>
<rect x="590.9" y="23.5" width="12.3" height="1.0" rx="0.5" fill="#2a2a34" fill-opacity="0.28" filter="url(#b05)"/>
<rect x="590.9" y="26.5" width="12.3" height="1.0" rx="0.5" fill="#2a2a34" fill-opacity="0.24" filter="url(#b05)"/>
<rect x="590.9" y="29.5" width="12.3" height="1.0" rx="0.5" fill="#2a2a34" fill-opacity="0.21" filter="url(#b05)"/>
<rect x="590.9" y="42.5" width="12.3" height="1.0" rx="0.5" fill="#2a2a34" fill-opacity="0.21" filter="url(#b05)"/>
<rect x="590.9" y="45.5" width="12.3" height="1.0" rx="0.5" fill="#2a2a34" fill-opacity="0.21" filter="url(#b05)"/>
<rect x="590.9" y="48.5" width="12.3" height="1.0" rx="0.5" fill="#2a2a34" fill-opacity="0.17" filter="url(#b05)"/>
<rect x="604.1" y="21.0" width="10.2" height="45.0" fill="url(#g30)" filter="url(#b1)"/>
<rect x="603.8" y="23.5" width="10.8" height="1.0" rx="0.5" fill="#2a2a34" fill-opacity="0.13" filter="url(#b05)"/>
<rect x="603.8" y="26.5" width="10.8" height="1.0" rx="0.5" fill="#2a2a34" fill-opacity="0.11" filter="url(#b05)"/>
<rect x="603.8" y="29.5" width="10.8" height="1.0" rx="0.5" fill="#2a2a34" fill-opacity="0.10" filter="url(#b05)"/>
<rect x="603.8" y="42.5" width="10.8" height="1.0" rx="0.5" fill="#2a2a34" fill-opacity="0.10" filter="url(#b05)"/>
<rect x="603.8" y="45.5" width="10.8" height="1.0" rx="0.5" fill="#2a2a34" fill-opacity="0.10" filter="url(#b05)"/>
<rect x="603.8" y="48.5" width="10.8" height="1.0" rx="0.5" fill="#2a2a34" fill-opacity="0.08" filter="url(#b05)"/>
<rect x="615.5" y="21.0" width="10.2" height="45.0" fill="url(#g31)" filter="url(#b1)"/>
<rect x="615.2" y="23.5" width="10.8" height="1.0" rx="0.5" fill="#2a2a34" fill-opacity="0.10" filter="url(#b05)"/>
<rect x="615.2" y="26.5" width="10.8" height="1.0" rx="0.5" fill="#2a2a34" fill-opacity="0.08" filter="url(#b05)"/>
<rect x="615.2" y="29.5" width="10.8" height="1.0" rx="0.5" fill="#2a2a34" fill-opacity="0.07" filter="url(#b05)"/>
<rect x="615.2" y="42.5" width="10.8" height="1.0" rx="0.5" fill="#2a2a34" fill-opacity="0.07" filter="url(#b05)"/>
<rect x="615.2" y="45.5" width="10.8" height="1.0" rx="0.5" fill="#2a2a34" fill-opacity="0.07" filter="url(#b05)"/>
<rect x="615.2" y="48.5" width="10.8" height="1.0" rx="0.5" fill="#2a2a34" fill-opacity="0.06" filter="url(#b05)"/>
<rect x="627.3" y="21.0" width="8.8" height="45.0" fill="url(#g32)" filter="url(#b1)"/>
<rect x="627.0" y="23.5" width="9.4" height="1.0" rx="0.5" fill="#2a2a34" fill-opacity="0.02" filter="url(#b05)"/>
<rect x="627.0" y="26.5" width="9.4" height="1.0" rx="0.5" fill="#2a2a34" fill-opacity="0.02" filter="url(#b05)"/>
<rect x="627.0" y="29.5" width="9.4" height="1.0" rx="0.5" fill="#2a2a34" fill-opacity="0.02" filter="url(#b05)"/>
<rect x="627.0" y="42.5" width="9.4" height="1.0" rx="0.5" fill="#2a2a34" fill-opacity="0.02" filter="url(#b05)"/>
<rect x="627.0" y="45.5" width="9.4" height="1.0" rx="0.5" fill="#2a2a34" fill-opacity="0.02" filter="url(#b05)"/>
<rect x="627.0" y="48.5" width="9.4" height="1.0" rx="0.5" fill="#2a2a34" fill-opacity="0.01" filter="url(#b05)"/>
<rect x="533.5" y="35.4" width="12.4" height="3.6" rx="1.5" fill="#2a2a34" fill-opacity="0.15" filter="url(#b1)"/>
<rect x="545.8" y="35.4" width="12.4" height="3.6" rx="1.5" fill="#2a2a34" fill-opacity="0.70" filter="url(#b1)"/>
<rect x="557.8" y="35.4" width="11.7" height="3.6" rx="1.5" fill="#2a2a34" fill-opacity="0.20" filter="url(#b1)"/>
<rect x="569.5" y="35.4" width="11.5" height="3.6" rx="1.5" fill="#2a2a34" fill-opacity="0.05" filter="url(#b1)"/>
<rect x="580.0" y="35.4" width="11.4" height="3.6" rx="1.5" fill="#2a2a34" fill-opacity="0.60" filter="url(#b1)"/>
<rect x="590.4" y="35.4" width="13.3" height="3.6" rx="1.5" fill="#2a2a34" fill-opacity="0.75" filter="url(#b1)"/>
<rect x="603.3" y="35.4" width="11.8" height="3.6" rx="1.5" fill="#2a2a34" fill-opacity="0.45" filter="url(#b1)"/>
<rect x="614.7" y="35.4" width="11.8" height="3.6" rx="1.5" fill="#2a2a34" fill-opacity="0.30" filter="url(#b1)"/>
<rect x="626.5" y="35.4" width="10.4" height="3.6" rx="1.5" fill="#2a2a34" fill-opacity="0.30" filter="url(#b1)"/>
<rect x="580.5" y="32.0" width="45.5" height="12.0" fill="url(#g33)" filter="url(#b1)"/>
<rect x="591.5" y="22.0" width="11.0" height="42.0" fill="url(#g34)" filter="url(#b2)"/>
<rect x="534.0" y="58.6" width="11.4" height="2.6" rx="1.3" fill="#2a2a34" fill-opacity="0.50" filter="url(#b1)"/>
<rect x="546.3" y="58.6" width="11.4" height="2.6" rx="1.3" fill="#2a2a34" fill-opacity="0.15" filter="url(#b1)"/>
<rect x="558.3" y="58.6" width="10.7" height="2.6" rx="1.3" fill="#2a2a34" fill-opacity="0.50" filter="url(#b1)"/>
<rect x="570.0" y="58.6" width="10.5" height="2.6" rx="1.3" fill="#2a2a34" fill-opacity="0.12" filter="url(#b1)"/>
<rect x="580.5" y="58.6" width="10.4" height="2.6" rx="1.3" fill="#2a2a34" fill-opacity="0.40" filter="url(#b1)"/>
<rect x="590.9" y="58.6" width="12.3" height="2.6" rx="1.3" fill="#2a2a34" fill-opacity="0.70" filter="url(#b1)"/>
<rect x="603.8" y="58.6" width="10.8" height="2.6" rx="1.3" fill="#2a2a34" fill-opacity="0.40" filter="url(#b1)"/>
<rect x="615.2" y="58.6" width="10.8" height="2.6" rx="1.3" fill="#2a2a34" fill-opacity="0.35" filter="url(#b1)"/>
<rect x="627.0" y="58.6" width="9.4" height="2.6" rx="1.3" fill="#2a2a34" fill-opacity="0.05" filter="url(#b1)"/>
<rect x="592.0" y="59.0" width="10.0" height="3.5" rx="1.5" fill="#2a2a34" fill-opacity="0.45" filter="url(#b1)"/>
<rect x="523.0" y="20.4" width="114.8" height="46.5" fill="none" stroke="#4a4a55" stroke-width="0.9"/>
<text x="529.0" y="80.7" font-size="6.0" font-weight="bold" text-anchor="middle" fill="#000" stroke="#000" stroke-width="0.2">M</text>
<text x="539.8" y="80.7" font-size="6.0" font-weight="bold" text-anchor="middle" fill="#000" stroke="#000" stroke-width="0.2">S</text>
<text x="552.0" y="80.7" font-size="6.0" font-weight="bold" text-anchor="middle" fill="#000" stroke="#000" stroke-width="0.2">P</text>
<text x="563.5" y="80.7" font-size="6.0" font-weight="bold" text-anchor="middle" fill="#000" stroke="#000" stroke-width="0.2">F</text>
<text x="574.3" y="80.7" font-size="6.0" font-weight="bold" text-anchor="middle" fill="#000" stroke="#000" stroke-width="0.2">W</text>
<text x="585.8" y="80.7" font-size="6.0" font-weight="bold" text-anchor="middle" fill="#000" stroke="#000" stroke-width="0.2">E1</text>
<text x="596.3" y="80.7" font-size="6.0" font-weight="bold" text-anchor="middle" fill="#000" stroke="#000" stroke-width="0.2">E2</text>
<text x="608.5" y="80.7" font-size="6.0" font-weight="bold" text-anchor="middle" fill="#000" stroke="#000" stroke-width="0.2">E3</text>
<text x="618.7" y="80.7" font-size="6.0" font-weight="bold" text-anchor="middle" fill="#000" stroke="#000" stroke-width="0.2">E4</text>
<text x="629.8" y="80.7" font-size="6.0" font-weight="bold" text-anchor="middle" fill="#000" stroke="#000" stroke-width="0.2">E5</text>
<text x="512.6" y="109.6" font-size="8.5" font-weight="bold" text-anchor="end" fill="#000" stroke="#000" stroke-width="0.2">[REC3]</text>
<text x="522.4" y="91.4" font-size="4.9" font-weight="bold" text-anchor="end" fill="#000" stroke="#000" stroke-width="0.2">70</text>
<text x="522.4" y="95.1" font-size="4.9" font-weight="bold" text-anchor="end" fill="#000" stroke="#000" stroke-width="0.2">50</text>
<text x="522.4" y="100.2" font-size="4.9" font-weight="bold" text-anchor="end" fill="#000" stroke="#000" stroke-width="0.2">40</text>
<text x="522.4" y="105.1" font-size="4.9" font-weight="bold" text-anchor="end" fill="#000" stroke="#000" stroke-width="0.2">30</text>
<text x="522.4" y="109.9" font-size="4.9" font-weight="bold" text-anchor="end" fill="#000" stroke="#000" stroke-width="0.2">25</text>
<text x="522.4" y="119.7" font-size="4.9" font-weight="bold" text-anchor="end" fill="#000" stroke="#000" stroke-width="0.2">14</text>
<line x1="642.7" y1="105.1" x2="649.5" y2="105.1" stroke="#000" stroke-width="1.5"/>
<path d="M639.0,105.1 L643.2,103.1 L643.2,107.1 Z" fill="#000"/>
<text x="652.8" y="103.1" font-size="6.6" font-weight="bold" text-anchor="start" fill="#000" stroke="#000" stroke-width="0.2">Tagged</text>
<text x="652.8" y="110.6" font-size="6.6" font-weight="bold" text-anchor="start" fill="#000" stroke="#000" stroke-width="0.2">REC3</text>
<line x1="642.7" y1="124.2" x2="649.5" y2="124.2" stroke="#000" stroke-width="1.5"/>
<path d="M639.0,124.2 L643.2,122.2 L643.2,126.2 Z" fill="#000"/>
<text x="652.8" y="122.5" font-size="6.6" font-weight="bold" text-anchor="start" fill="#000" stroke="#000" stroke-width="0.2">Untagged</text>
<text x="652.8" y="130.5" font-size="6.6" font-weight="bold" text-anchor="start" fill="#000" stroke="#000" stroke-width="0.2">AcrIIA19</text>
<rect x="523.00" y="82.40" width="114.80" height="46.50" fill="#c9cad2"/>
<rect x="525.4" y="85.5" width="6.5" height="1.6" fill="#000" fill-opacity="0.35" filter="url(#b05)"/>
<rect x="525.4" y="90.9" width="6.5" height="1.6" fill="#000" fill-opacity="0.35" filter="url(#b05)"/>
<rect x="525.4" y="92.8" width="6.5" height="1.6" fill="#000" fill-opacity="0.35" filter="url(#b05)"/>
<rect x="525.4" y="98.2" width="6.5" height="1.6" fill="#000" fill-opacity="0.35" filter="url(#b05)"/>
<rect x="525.4" y="102.1" width="6.5" height="1.6" fill="#000" fill-opacity="0.35" filter="url(#b05)"/>
<rect x="525.4" y="106.9" width="6.5" height="1.6" fill="#000" fill-opacity="0.35" filter="url(#b05)"/>
<rect x="525.4" y="118.6" width="6.5" height="1.6" fill="#000" fill-opacity="0.35" filter="url(#b05)"/>
<rect x="534.0" y="85.4" width="11.4" height="24.0" fill="#000" fill-opacity="0.04" filter="url(#b2)"/>
<rect x="546.3" y="85.4" width="11.4" height="24.0" fill="#000" fill-opacity="0.04" filter="url(#b2)"/>
<rect x="558.3" y="85.4" width="10.7" height="24.0" fill="#000" fill-opacity="0.07" filter="url(#b2)"/>
<line x1="523.0" y1="82.8" x2="637.8" y2="82.8" stroke="#333" stroke-width="1.2"/>
<rect x="534.0" y="103.5" width="40.0" height="1.5" fill="#000" fill-opacity="0.25" filter="url(#b05)"/>
<rect x="534.0" y="122.3" width="11.4" height="1.8" fill="#000" fill-opacity="0.25" filter="url(#b05)"/>
<rect x="558.3" y="122.3" width="10.7" height="1.8" fill="#000" fill-opacity="0.25" filter="url(#b05)"/>
<path d="M573,106 C573,101 577,100.3 584,100.3 L612,100.5 C624,100.8 631,102 637,102.5 L637,105.8 C629,107 622,110.5 612,113.5 C603,116.3 590,116.5 582,114.5 C576,113 573,110 573,106 Z" fill="#3a3c4c" fill-opacity="0.5" filter="url(#b1)"/>
<rect x="523.0" y="82.4" width="114.8" height="46.5" fill="none" stroke="#4a4a55" stroke-width="0.9"/>
<text x="529.0" y="142.8" font-size="6.0" font-weight="bold" text-anchor="middle" fill="#000" stroke="#000" stroke-width="0.2">M</text>
<text x="539.8" y="142.8" font-size="6.0" font-weight="bold" text-anchor="middle" fill="#000" stroke="#000" stroke-width="0.2">S</text>
<text x="552.0" y="142.8" font-size="6.0" font-weight="bold" text-anchor="middle" fill="#000" stroke="#000" stroke-width="0.2">P</text>
<text x="563.5" y="142.8" font-size="6.0" font-weight="bold" text-anchor="middle" fill="#000" stroke="#000" stroke-width="0.2">F</text>
<text x="574.3" y="142.8" font-size="6.0" font-weight="bold" text-anchor="middle" fill="#000" stroke="#000" stroke-width="0.2">W</text>
<text x="585.8" y="142.8" font-size="6.0" font-weight="bold" text-anchor="middle" fill="#000" stroke="#000" stroke-width="0.2">E1</text>
<text x="596.3" y="142.8" font-size="6.0" font-weight="bold" text-anchor="middle" fill="#000" stroke="#000" stroke-width="0.2">E2</text>
<text x="608.5" y="142.8" font-size="6.0" font-weight="bold" text-anchor="middle" fill="#000" stroke="#000" stroke-width="0.2">E3</text>
<text x="618.7" y="142.8" font-size="6.0" font-weight="bold" text-anchor="middle" fill="#000" stroke="#000" stroke-width="0.2">E4</text>
<text x="629.8" y="142.8" font-size="6.0" font-weight="bold" text-anchor="middle" fill="#000" stroke="#000" stroke-width="0.2">E5</text>
<text x="512.2" y="169.5" font-size="8.5" font-weight="bold" text-anchor="end" fill="#000" stroke="#000" stroke-width="0.2">[HNH]</text>
<text x="522.4" y="154.2" font-size="4.9" font-weight="bold" text-anchor="end" fill="#000" stroke="#000" stroke-width="0.2">70</text>
<text x="522.4" y="157.0" font-size="4.9" font-weight="bold" text-anchor="end" fill="#000" stroke="#000" stroke-width="0.2">50</text>
<text x="522.4" y="161.4" font-size="4.9" font-weight="bold" text-anchor="end" fill="#000" stroke="#000" stroke-width="0.2">40</text>
<text x="522.4" y="166.5" font-size="4.9" font-weight="bold" text-anchor="end" fill="#000" stroke="#000" stroke-width="0.2">30</text>
<text x="522.4" y="171.4" font-size="4.9" font-weight="bold" text-anchor="end" fill="#000" stroke="#000" stroke-width="0.2">25</text>
<text x="522.4" y="181.7" font-size="4.9" font-weight="bold" text-anchor="end" fill="#000" stroke="#000" stroke-width="0.2">14</text>
<line x1="642.7" y1="171.8" x2="649.5" y2="171.8" stroke="#000" stroke-width="1.5"/>
<path d="M639.0,171.8 L643.2,169.8 L643.2,173.8 Z" fill="#000"/>
<text x="654.6" y="170.9" font-size="6.6" font-weight="bold" text-anchor="start" fill="#000" stroke="#000" stroke-width="0.2">Tagged</text>
<text x="654.6" y="178.6" font-size="6.6" font-weight="bold" text-anchor="start" fill="#000" stroke="#000" stroke-width="0.2">HNH</text>
<line x1="642.7" y1="182.3" x2="649.5" y2="182.3" stroke="#000" stroke-width="1.5"/>
<path d="M639.0,182.3 L643.2,180.3 L643.2,184.3 Z" fill="#000"/>
<text x="654.6" y="185.3" font-size="6.6" font-weight="bold" text-anchor="start" fill="#000" stroke="#000" stroke-width="0.2">Untagged</text>
<text x="654.6" y="192.4" font-size="6.6" font-weight="bold" text-anchor="start" fill="#000" stroke="#000" stroke-width="0.2">AcrIIA19</text>
<rect x="523.00" y="145.40" width="114.80" height="46.50" fill="#d2d3dc"/>
<rect x="525.4" y="147.2" width="6.5" height="1.6" fill="#000" fill-opacity="0.50" filter="url(#b05)"/>
<rect x="525.4" y="151.2" width="6.5" height="1.6" fill="#000" fill-opacity="0.50" filter="url(#b05)"/>
<rect x="525.4" y="154.2" width="6.5" height="1.6" fill="#000" fill-opacity="0.50" filter="url(#b05)"/>
<rect x="525.4" y="159.2" width="6.5" height="1.6" fill="#000" fill-opacity="0.50" filter="url(#b05)"/>
<rect x="525.4" y="164.2" width="6.5" height="1.6" fill="#000" fill-opacity="0.50" filter="url(#b05)"/>
<rect x="525.4" y="168.2" width="6.5" height="1.6" fill="#000" fill-opacity="0.50" filter="url(#b05)"/>
<rect x="525.4" y="177.2" width="6.5" height="1.6" fill="#000" fill-opacity="0.50" filter="url(#b05)"/>
<rect x="525.4" y="188.6" width="6.5" height="1.6" fill="#000" fill-opacity="0.50" filter="url(#b05)"/>
<rect x="534.3" y="146.0" width="10.8" height="45.0" fill="url(#g35)" filter="url(#b1)"/>
<rect x="534.0" y="148.5" width="11.4" height="1.0" rx="0.5" fill="#2a2a34" fill-opacity="0.23" filter="url(#b05)"/>
<rect x="534.0" y="151.5" width="11.4" height="1.0" rx="0.5" fill="#2a2a34" fill-opacity="0.23" filter="url(#b05)"/>
<rect x="534.0" y="156.5" width="11.4" height="1.0" rx="0.5" fill="#2a2a34" fill-opacity="0.19" filter="url(#b05)"/>
<rect x="534.0" y="161.5" width="11.4" height="1.0" rx="0.5" fill="#2a2a34" fill-opacity="0.19" filter="url(#b05)"/>
<rect x="534.0" y="165.5" width="11.4" height="1.0" rx="0.5" fill="#2a2a34" fill-opacity="0.19" filter="url(#b05)"/>
<rect x="534.0" y="176.5" width="11.4" height="1.0" rx="0.5" fill="#2a2a34" fill-opacity="0.15" filter="url(#b05)"/>
<rect x="534.0" y="186.5" width="11.4" height="1.0" rx="0.5" fill="#2a2a34" fill-opacity="0.15" filter="url(#b05)"/>
<rect x="546.6" y="146.0" width="10.8" height="45.0" fill="url(#g36)" filter="url(#b1)"/>
<rect x="546.3" y="148.5" width="11.4" height="1.0" rx="0.5" fill="#2a2a34" fill-opacity="0.18" filter="url(#b05)"/>
<rect x="546.3" y="151.5" width="11.4" height="1.0" rx="0.5" fill="#2a2a34" fill-opacity="0.18" filter="url(#b05)"/>
<rect x="546.3" y="156.5" width="11.4" height="1.0" rx="0.5" fill="#2a2a34" fill-opacity="0.15" filter="url(#b05)"/>
<rect x="546.3" y="161.5" width="11.4" height="1.0" rx="0.5" fill="#2a2a34" fill-opacity="0.15" filter="url(#b05)"/>
<rect x="546.3" y="165.5" width="11.4" height="1.0" rx="0.5" fill="#2a2a34" fill-opacity="0.15" filter="url(#b05)"/>
<rect x="546.3" y="176.5" width="11.4" height="1.0" rx="0.5" fill="#2a2a34" fill-opacity="0.12" filter="url(#b05)"/>
<rect x="546.3" y="186.5" width="11.4" height="1.0" rx="0.5" fill="#2a2a34" fill-opacity="0.12" filter="url(#b05)"/>
<rect x="558.6" y="146.0" width="10.1" height="45.0" fill="url(#g37)" filter="url(#b1)"/>
<rect x="558.3" y="148.5" width="10.7" height="1.0" rx="0.5" fill="#2a2a34" fill-opacity="0.27" filter="url(#b05)"/>
<rect x="558.3" y="151.5" width="10.7" height="1.0" rx="0.5" fill="#2a2a34" fill-opacity="0.27" filter="url(#b05)"/>
<rect x="558.3" y="156.5" width="10.7" height="1.0" rx="0.5" fill="#2a2a34" fill-opacity="0.23" filter="url(#b05)"/>
<rect x="558.3" y="161.5" width="10.7" height="1.0" rx="0.5" fill="#2a2a34" fill-opacity="0.23" filter="url(#b05)"/>
<rect x="558.3" y="165.5" width="10.7" height="1.0" rx="0.5" fill="#2a2a34" fill-opacity="0.23" filter="url(#b05)"/>
<rect x="558.3" y="176.5" width="10.7" height="1.0" rx="0.5" fill="#2a2a34" fill-opacity="0.18" filter="url(#b05)"/>
<rect x="558.3" y="186.5" width="10.7" height="1.0" rx="0.5" fill="#2a2a34" fill-opacity="0.18" filter="url(#b05)"/>
<rect x="570.3" y="146.0" width="9.9" height="45.0" fill="url(#g38)" filter="url(#b1)"/>
<rect x="570.0" y="148.5" width="10.5" height="1.0" rx="0.5" fill="#2a2a34" fill-opacity="0.08" filter="url(#b05)"/>
<rect x="570.0" y="151.5" width="10.5" height="1.0" rx="0.5" fill="#2a2a34" fill-opacity="0.08" filter="url(#b05)"/>
<rect x="570.0" y="156.5" width="10.5" height="1.0" rx="0.5" fill="#2a2a34" fill-opacity="0.07" filter="url(#b05)"/>
<rect x="570.0" y="161.5" width="10.5" height="1.0" rx="0.5" fill="#2a2a34" fill-opacity="0.07" filter="url(#b05)"/>
<rect x="570.0" y="165.5" width="10.5" height="1.0" rx="0.5" fill="#2a2a34" fill-opacity="0.07" filter="url(#b05)"/>
<rect x="570.0" y="176.5" width="10.5" height="1.0" rx="0.5" fill="#2a2a34" fill-opacity="0.06" filter="url(#b05)"/>
<rect x="570.0" y="186.5" width="10.5" height="1.0" rx="0.5" fill="#2a2a34" fill-opacity="0.06" filter="url(#b05)"/>
<rect x="580.8" y="146.0" width="9.8" height="45.0" fill="url(#g39)" filter="url(#b1)"/>
<rect x="580.5" y="148.5" width="10.4" height="1.0" rx="0.5" fill="#2a2a34" fill-opacity="0.05" filter="url(#b05)"/>
<rect x="580.5" y="151.5" width="10.4" height="1.0" rx="0.5" fill="#2a2a34" fill-opacity="0.05" filter="url(#b05)"/>
<rect x="580.5" y="156.5" width="10.4" height="1.0" rx="0.5" fill="#2a2a34" fill-opacity="0.04" filter="url(#b05)"/>
<rect x="580.5" y="161.5" width="10.4" height="1.0" rx="0.5" fill="#2a2a34" fill-opacity="0.04" filter="url(#b05)"/>
<rect x="580.5" y="165.5" width="10.4" height="1.0" rx="0.5" fill="#2a2a34" fill-opacity="0.04" filter="url(#b05)"/>
<rect x="580.5" y="176.5" width="10.4" height="1.0" rx="0.5" fill="#2a2a34" fill-opacity="0.03" filter="url(#b05)"/>
<rect x="580.5" y="186.5" width="10.4" height="1.0" rx="0.5" fill="#2a2a34" fill-opacity="0.03" filter="url(#b05)"/>
<rect x="532.0" y="171.5" width="46.0" height="2.2" rx="1.1" fill="#2a2a34" fill-opacity="0.60" filter="url(#b05)"/>
<rect x="532.0" y="181.2" width="34.0" height="2.4" rx="1.2" fill="#2a2a34" fill-opacity="0.60" filter="url(#b05)"/>
<rect x="566.0" y="181.6" width="34.0" height="1.6" rx="0.8" fill="#2a2a34" fill-opacity="0.30" filter="url(#b05)"/>
<path d="M575,175.5 C575,172 578,170.5 584,170.5 L589,170.5 C590,165 590.8,159 592.4,153.8 C593.8,156.5 594.8,159.5 595.8,160 C597,158.5 598,155.5 599.2,152.8 C600.8,158 601.8,165 603.5,170 L617,170 C620,169 624,168.5 627,170 L628,171.3 C632,171 635,171 637,170.8 L637,173.2 C633,173.2 630,173.5 627,174.5 C624,177 620,179 612,180.5 C602,182 590,181.5 583,180.5 C577,179.5 575,178 575,175.5 Z" fill="#2a2a36" fill-opacity="0.88" filter="url(#b05)"/>
<rect x="523.0" y="145.4" width="114.8" height="46.5" fill="none" stroke="#4a4a55" stroke-width="0.9"/>
<text x="529.0" y="207.2" font-size="6.0" font-weight="bold" text-anchor="middle" fill="#000" stroke="#000" stroke-width="0.2">M</text>
<text x="539.8" y="207.2" font-size="6.0" font-weight="bold" text-anchor="middle" fill="#000" stroke="#000" stroke-width="0.2">S</text>
<text x="552.0" y="207.2" font-size="6.0" font-weight="bold" text-anchor="middle" fill="#000" stroke="#000" stroke-width="0.2">P</text>
<text x="563.5" y="207.2" font-size="6.0" font-weight="bold" text-anchor="middle" fill="#000" stroke="#000" stroke-width="0.2">F</text>
<text x="574.3" y="207.2" font-size="6.0" font-weight="bold" text-anchor="middle" fill="#000" stroke="#000" stroke-width="0.2">W</text>
<text x="585.8" y="207.2" font-size="6.0" font-weight="bold" text-anchor="middle" fill="#000" stroke="#000" stroke-width="0.2">E1</text>
<text x="596.3" y="207.2" font-size="6.0" font-weight="bold" text-anchor="middle" fill="#000" stroke="#000" stroke-width="0.2">E2</text>
<text x="608.5" y="207.2" font-size="6.0" font-weight="bold" text-anchor="middle" fill="#000" stroke="#000" stroke-width="0.2">E3</text>
<text x="618.7" y="207.2" font-size="6.0" font-weight="bold" text-anchor="middle" fill="#000" stroke="#000" stroke-width="0.2">E4</text>
<text x="629.8" y="207.2" font-size="6.0" font-weight="bold" text-anchor="middle" fill="#000" stroke="#000" stroke-width="0.2">E5</text>
<text x="510.4" y="231.3" font-size="8.5" font-weight="bold" text-anchor="end" fill="#000" stroke="#000" stroke-width="0.2">[WED]</text>
<text x="522.4" y="215.9" font-size="4.9" font-weight="bold" text-anchor="end" fill="#000" stroke="#000" stroke-width="0.2">70</text>
<text x="522.4" y="218.9" font-size="4.9" font-weight="bold" text-anchor="end" fill="#000" stroke="#000" stroke-width="0.2">50</text>
<text x="522.4" y="224.2" font-size="4.9" font-weight="bold" text-anchor="end" fill="#000" stroke="#000" stroke-width="0.2">40</text>
<text x="522.4" y="229.1" font-size="4.9" font-weight="bold" text-anchor="end" fill="#000" stroke="#000" stroke-width="0.2">30</text>
<text x="522.4" y="234.0" font-size="4.9" font-weight="bold" text-anchor="end" fill="#000" stroke="#000" stroke-width="0.2">25</text>
<text x="522.4" y="243.2" font-size="4.9" font-weight="bold" text-anchor="end" fill="#000" stroke="#000" stroke-width="0.2">14</text>
<line x1="642.7" y1="236.6" x2="649.5" y2="236.6" stroke="#000" stroke-width="1.5"/>
<path d="M639.0,236.6 L643.2,234.6 L643.2,238.6 Z" fill="#000"/>
<text x="652.8" y="231.3" font-size="6.6" font-weight="bold" text-anchor="start" fill="#000" stroke="#000" stroke-width="0.2">Tagged</text>
<text x="652.8" y="238.9" font-size="6.6" font-weight="bold" text-anchor="start" fill="#000" stroke="#000" stroke-width="0.2">WED</text>
<line x1="642.7" y1="244.2" x2="649.5" y2="244.2" stroke="#000" stroke-width="1.5"/>
<path d="M639.0,244.2 L643.2,242.2 L643.2,246.2 Z" fill="#000"/>
<text x="652.8" y="246.6" font-size="6.6" font-weight="bold" text-anchor="start" fill="#000" stroke="#000" stroke-width="0.2">Untagged</text>
<text x="652.8" y="254.0" font-size="6.6" font-weight="bold" text-anchor="start" fill="#000" stroke="#000" stroke-width="0.2">AcrIIA19</text>
<rect x="523.00" y="209.00" width="114.80" height="46.50" fill="#c9cad2"/>
<rect x="525.4" y="211.0" width="6.5" height="1.6" fill="#000" fill-opacity="0.42" filter="url(#b05)"/>
<rect x="525.4" y="215.4" width="6.5" height="1.6" fill="#000" fill-opacity="0.42" filter="url(#b05)"/>
<rect x="525.4" y="218.3" width="6.5" height="1.6" fill="#000" fill-opacity="0.42" filter="url(#b05)"/>
<rect x="525.4" y="222.2" width="6.5" height="1.6" fill="#000" fill-opacity="0.42" filter="url(#b05)"/>
<rect x="525.4" y="226.4" width="6.5" height="1.6" fill="#000" fill-opacity="0.42" filter="url(#b05)"/>
<rect x="525.4" y="231.0" width="6.5" height="1.6" fill="#000" fill-opacity="0.42" filter="url(#b05)"/>
<rect x="525.4" y="240.2" width="6.5" height="1.6" fill="#000" fill-opacity="0.42" filter="url(#b05)"/>
<rect x="534.0" y="210.0" width="11.4" height="45.0" fill="url(#g40)" filter="url(#b1)"/>
<rect x="546.3" y="210.0" width="11.4" height="45.0" fill="url(#g41)" filter="url(#b1)"/>
<rect x="558.3" y="210.0" width="10.7" height="45.0" fill="url(#g42)" filter="url(#b1)"/>
<rect x="570.0" y="210.0" width="10.5" height="45.0" fill="url(#g43)" filter="url(#b1)"/>
<rect x="534.0" y="237.0" width="35.0" height="1.6" rx="0.8" fill="#2a2a34" fill-opacity="0.25" filter="url(#b05)"/>
<rect x="534.0" y="243.1" width="35.0" height="1.6" rx="0.8" fill="#2a2a34" fill-opacity="0.25" filter="url(#b05)"/>
<rect x="592.5" y="211.0" width="8.0" height="25.0" fill="url(#g44)" filter="url(#b1)"/>
<rect x="584.0" y="222.0" width="44.0" height="14.0" fill="url(#g45)" filter="url(#b1)"/>
<path d="M578.5,238.5 C578.5,236.5 581,236 585,236 L636.8,236.5 L636.8,239.5 C630,239.8 628,241.5 624,242 L583,242 C580,242 578.5,240.5 578.5,238.5 Z" fill="#2a2a34" fill-opacity="0.6" filter="url(#b1)"/>
<path d="M578.5,244.5 C579,243.5 581,243.5 585,243.5 L626,243.5 C622,246 612,248.3 600,248.3 C592,248.3 586,247.5 582,246.5 C580,246 578.5,245.5 578.5,244.5 Z" fill="#2a2a34" fill-opacity="0.45" filter="url(#b1)"/>
<rect x="626.0" y="243.2" width="10.8" height="1.5" rx="0.8" fill="#2a2a34" fill-opacity="0.20" filter="url(#b05)"/>
<rect x="523.0" y="209.0" width="114.8" height="46.5" fill="none" stroke="#4a4a55" stroke-width="0.9"/>
<text x="0.8" y="210.3" font-size="19" font-weight="bold" text-anchor="start" fill="#000">E</text>
<line x1="40.0" y1="210.3" x2="40.0" y2="271.3" stroke="#c0c0c0" stroke-width="0.8"/>
<line x1="40.0" y1="271.4" x2="180.0" y2="271.4" stroke="#c8c8c8" stroke-width="1.0"/>
<text x="34.8" y="273.2" font-size="5.7" font-weight="bold" text-anchor="end" fill="#000" stroke="#000" stroke-width="0.2">0</text>
<text x="34.8" y="265.6" font-size="5.7" font-weight="bold" text-anchor="end" fill="#000" stroke="#000" stroke-width="0.2">50</text>
<text x="34.8" y="258.1" font-size="5.7" font-weight="bold" text-anchor="end" fill="#000" stroke="#000" stroke-width="0.2">100</text>
<text x="34.8" y="250.5" font-size="5.7" font-weight="bold" text-anchor="end" fill="#000" stroke="#000" stroke-width="0.2">150</text>
<text x="34.8" y="243.0" font-size="5.7" font-weight="bold" text-anchor="end" fill="#000" stroke="#000" stroke-width="0.2">200</text>
<text x="34.8" y="235.4" font-size="5.7" font-weight="bold" text-anchor="end" fill="#000" stroke="#000" stroke-width="0.2">250</text>
<text x="34.8" y="227.8" font-size="5.7" font-weight="bold" text-anchor="end" fill="#000" stroke="#000" stroke-width="0.2">300</text>
<text x="34.8" y="220.3" font-size="5.7" font-weight="bold" text-anchor="end" fill="#000" stroke="#000" stroke-width="0.2">350</text>
<text x="34.8" y="212.7" font-size="5.7" font-weight="bold" text-anchor="end" fill="#000" stroke="#000" stroke-width="0.2">400</text>
<text x="19.3" y="242.0" font-size="6.6" font-weight="bold" text-anchor="middle" fill="#000" stroke="#000" stroke-width="0.2" transform="rotate(-90 19.3 242.0)">mAU</text>
<text x="40.0" y="281.0" font-size="5.6" font-weight="bold" text-anchor="middle" fill="#000" stroke="#000" stroke-width="0.2">0</text>
<text x="63.2" y="281.0" font-size="5.6" font-weight="bold" text-anchor="middle" fill="#000" stroke="#000" stroke-width="0.2">5</text>
<text x="86.4" y="281.0" font-size="5.6" font-weight="bold" text-anchor="middle" fill="#000" stroke="#000" stroke-width="0.2">10</text>
<text x="109.6" y="281.0" font-size="5.6" font-weight="bold" text-anchor="middle" fill="#000" stroke="#000" stroke-width="0.2">15</text>
<text x="132.9" y="281.0" font-size="5.6" font-weight="bold" text-anchor="middle" fill="#000" stroke="#000" stroke-width="0.2">20</text>
<text x="156.1" y="281.0" font-size="5.6" font-weight="bold" text-anchor="middle" fill="#000" stroke="#000" stroke-width="0.2">25</text>
<text x="179.3" y="281.0" font-size="5.6" font-weight="bold" text-anchor="middle" fill="#000" stroke="#000" stroke-width="0.2">30</text>
<text x="190.7" y="281.2" font-size="6.4" font-weight="bold" text-anchor="middle" fill="#000" stroke="#000" stroke-width="0.2">mL</text>
<line x1="159.5" y1="215.0" x2="176.3" y2="215.0" stroke="#000" stroke-width="2.4"/>
<line x1="159.5" y1="225.6" x2="176.3" y2="225.6" stroke="#2222ff" stroke-width="2.4"/>
<line x1="159.5" y1="236.1" x2="176.3" y2="236.1" stroke="#ff1111" stroke-width="2.4"/>
<text x="180.7" y="217.3" font-size="6.6" font-weight="bold" text-anchor="start" fill="#000" stroke="#000" stroke-width="0.2">AcrIIA19</text>
<text x="180.7" y="228.2" font-size="6.6" font-weight="bold" text-anchor="start" fill="#000" stroke="#000" stroke-width="0.2">REC1-2</text>
<text x="180.7" y="238.9" font-size="6.6" font-weight="bold" text-anchor="start" fill="#000" stroke="#000" stroke-width="0.2">REC1-2</text>
<text x="181.0" y="247.0" font-size="6.6" font-weight="bold" text-anchor="start" fill="#000" stroke="#000" stroke-width="0.2">+ AcrIIA19</text>
<path d="M40.0,271.3 C45.7,271.3 67.9,271.9 74.0,271.3 C80.1,270.8 75.8,269.6 76.5,268.0 C77.2,266.4 77.7,263.8 78.5,262.0 C79.3,260.2 80.6,257.6 81.4,257.2 C82.2,256.8 82.8,258.6 83.5,259.5 C84.2,260.4 84.7,261.9 85.8,262.8 C86.9,263.8 88.5,264.6 90.0,265.2 C91.5,265.8 93.3,266.1 94.6,266.3 C95.9,266.5 96.8,266.6 98.0,266.5 C99.2,266.4 100.5,266.5 101.6,265.4 C102.7,264.3 103.6,261.9 104.5,260.0 C105.4,258.1 106.0,257.0 106.8,254.0 C107.5,251.0 108.3,246.4 109.0,242.0 C109.7,237.6 110.5,231.5 111.2,227.8 C111.9,224.1 112.3,221.8 113.0,220.0 C113.7,218.2 114.5,217.1 115.2,216.9 C115.9,216.7 116.3,217.5 117.0,219.0 C117.7,220.5 118.3,222.5 119.1,226.0 C119.8,229.5 120.6,235.3 121.5,240.0 C122.4,244.7 123.4,250.3 124.3,254.0 C125.2,257.7 126.0,259.8 127.0,262.0 C128.0,264.2 129.5,266.1 130.5,267.2 C131.5,268.2 132.3,268.3 133.0,268.3 C133.7,268.3 134.4,268.1 134.8,267.0 C135.2,265.9 135.4,263.7 135.6,262.0 C135.8,260.3 136.0,257.2 136.2,257.0 C136.4,256.8 136.7,259.6 137.0,261.0 C137.3,262.4 137.7,264.1 138.3,265.4 C138.9,266.7 139.6,268.1 140.5,269.0 C141.4,269.9 142.0,270.4 143.6,270.7 C145.2,271.0 148.4,271.1 150.0,271.0 C151.6,270.9 152.0,270.2 153.0,270.2 C154.0,270.2 153.2,270.6 156.0,270.8 C158.8,271.0 166.0,271.2 170.0,271.3 C174.0,271.4 178.3,271.3 180.0,271.3" fill="none" stroke="#111" stroke-width="1.2" stroke-linejoin="round"/>
<path d="M40.0,271.3 C45.7,271.3 67.9,272.0 74.0,271.3 C80.1,270.6 75.7,268.7 76.5,267.0 C77.3,265.3 77.9,262.6 78.7,261.0 C79.5,259.4 80.5,257.6 81.4,257.5 C82.3,257.4 83.0,259.5 84.0,260.5 C85.0,261.5 86.3,263.2 87.5,263.7 C88.7,264.2 89.5,263.8 91.0,263.5 C92.5,263.2 94.6,262.6 96.3,261.9 C98.0,261.2 99.5,260.2 101.0,259.5 C102.5,258.8 103.6,258.1 105.1,257.5 C106.6,256.9 108.8,255.9 110.0,255.8 C111.2,255.7 111.6,256.2 112.5,256.8 C113.4,257.4 114.5,258.2 115.6,259.3 C116.7,260.4 117.8,262.2 119.0,263.5 C120.2,264.8 121.3,266.3 122.6,267.2 C123.9,268.1 125.2,268.6 127.0,269.0 C128.8,269.4 131.6,269.7 133.1,269.5 C134.6,269.3 135.1,268.5 136.0,268.0 C136.9,267.5 137.6,266.2 138.3,266.3 C139.0,266.4 139.4,267.8 140.0,268.5 C140.6,269.2 141.0,270.3 141.8,270.7 C142.6,271.1 143.3,271.1 145.0,271.0 C146.7,270.9 150.0,270.4 152.0,270.4 C154.0,270.4 152.3,270.6 157.0,270.8 C161.7,271.0 176.2,271.2 180.0,271.3" fill="none" stroke="#2a2aff" stroke-width="1.2" stroke-linejoin="round"/>
<path d="M40.0,271.3 C40.1,270.7 40.2,267.7 40.4,267.7 C40.6,267.7 33.8,270.7 41.4,271.3 C49.0,271.9 78.0,271.4 85.8,271.2 C93.6,271.0 87.6,270.8 88.5,270.4 C89.4,270.0 89.9,269.3 91.0,268.9 C92.1,268.5 93.8,268.2 95.0,268.0 C96.2,267.8 96.9,267.6 98.0,267.7 C99.1,267.8 100.3,268.3 101.5,268.5 C102.7,268.7 103.9,268.9 105.0,268.9 C106.1,268.9 107.1,269.0 108.0,268.7 C108.9,268.4 109.6,268.1 110.3,267.2 C111.0,266.2 111.5,264.6 112.0,263.0 C112.5,261.4 112.6,260.0 113.0,257.5 C113.4,255.0 113.8,250.8 114.2,248.0 C114.6,245.2 114.9,241.2 115.2,240.9 C115.5,240.6 116.0,244.3 116.3,246.0 C116.6,247.7 116.9,249.4 117.2,251.0 C117.5,252.6 117.7,253.9 118.2,255.8 C118.7,257.7 119.3,260.3 120.0,262.5 C120.7,264.7 121.8,267.5 122.6,268.9 C123.4,270.2 124.1,270.2 125.0,270.6 C125.9,271.0 126.1,271.0 127.8,271.1 C129.5,271.2 133.8,271.3 135.0,271.3" fill="none" stroke="#ff1a1a" stroke-width="1.2" stroke-linejoin="round"/>
<line x1="88.5" y1="271.6" x2="38.6" y2="291.7" stroke="#000" stroke-width="0.7"/>
<path d="M35.8,292.8 L38.1,290.6 L39.0,292.8 Z" fill="#000"/>
<line x1="125.5" y1="271.6" x2="157.9" y2="291.2" stroke="#000" stroke-width="0.7"/>
<path d="M160.5,292.8 L157.3,292.3 L158.6,290.2 Z" fill="#000"/>
<text x="29.5" y="291.6" font-size="5.6" font-weight="bold" text-anchor="middle" fill="#000" stroke="#000" stroke-width="0.2">M</text>
<text x="169.6" y="291.6" font-size="5.6" font-weight="bold" text-anchor="middle" fill="#000" stroke="#000" stroke-width="0.2">I</text>
<text x="22.0" y="305.5" font-size="5.6" font-weight="bold" text-anchor="end" fill="#000" stroke="#000" stroke-width="0.2">70</text>
<text x="22.0" y="310.2" font-size="5.6" font-weight="bold" text-anchor="end" fill="#000" stroke="#000" stroke-width="0.2">50</text>
<text x="22.0" y="315.6" font-size="5.6" font-weight="bold" text-anchor="end" fill="#000" stroke="#000" stroke-width="0.2">40</text>
<text x="22.0" y="321.3" font-size="5.6" font-weight="bold" text-anchor="end" fill="#000" stroke="#000" stroke-width="0.2">30</text>
<text x="22.0" y="327.3" font-size="5.6" font-weight="bold" text-anchor="end" fill="#000" stroke="#000" stroke-width="0.2">25</text>
<text x="22.0" y="338.7" font-size="5.6" font-weight="bold" text-anchor="end" fill="#000" stroke="#000" stroke-width="0.2">14</text>
<rect x="25.30" y="293.00" width="157.80" height="59.60" fill="#c7c8ce"/>
<rect x="26.9" y="297.9" width="6.3" height="1.4" rx="0.7" fill="#2a2a34" fill-opacity="0.55" filter="url(#b05)"/>
<rect x="26.9" y="299.8" width="6.3" height="1.2" rx="0.6" fill="#2a2a34" fill-opacity="0.50" filter="url(#b05)"/>
<rect x="26.9" y="305.5" width="6.3" height="1.6" rx="0.8" fill="#2a2a34" fill-opacity="0.60" filter="url(#b05)"/>
<rect x="26.9" y="308.5" width="6.3" height="1.4" rx="0.7" fill="#2a2a34" fill-opacity="0.50" filter="url(#b05)"/>
<rect x="26.9" y="315.6" width="6.3" height="1.8" rx="0.9" fill="#2a2a34" fill-opacity="0.65" filter="url(#b05)"/>
<rect x="26.9" y="322.2" width="6.3" height="1.8" rx="0.9" fill="#2a2a34" fill-opacity="0.62" filter="url(#b05)"/>
<rect x="26.9" y="327.5" width="6.3" height="1.8" rx="0.9" fill="#2a2a34" fill-opacity="0.60" filter="url(#b05)"/>
<rect x="26.9" y="335.5" width="6.3" height="3.0" rx="1.5" fill="#2a2a34" fill-opacity="0.50" filter="url(#b05)"/>
<rect x="37.0" y="295.0" width="8.3" height="55.0" fill="url(#g46)" filter="url(#b1)"/>
<rect x="36.5" y="301.9" width="9.3" height="1.5" rx="0.8" fill="#2a2a34" fill-opacity="0.20" filter="url(#b05)"/>
<rect x="36.5" y="313.0" width="9.3" height="1.6" rx="0.8" fill="#2a2a34" fill-opacity="0.40" filter="url(#b05)"/>
<rect x="48.0" y="295.0" width="8.5" height="55.0" fill="url(#g47)" filter="url(#b1)"/>
<rect x="47.5" y="298.9" width="9.5" height="1.2" rx="0.6" fill="#2a2a34" fill-opacity="0.15" filter="url(#b05)"/>
<rect x="47.5" y="302.9" width="9.5" height="2.0" rx="1.0" fill="#2a2a34" fill-opacity="0.50" filter="url(#b05)"/>
<rect x="47.5" y="305.8" width="9.5" height="1.5" rx="0.8" fill="#2a2a34" fill-opacity="0.30" filter="url(#b05)"/>
<rect x="47.5" y="308.9" width="9.5" height="1.2" rx="0.6" fill="#2a2a34" fill-opacity="0.20" filter="url(#b05)"/>
<rect x="47.5" y="313.3" width="9.5" height="1.8" rx="0.9" fill="#2a2a34" fill-opacity="0.55" filter="url(#b05)"/>
<rect x="60.2" y="295.0" width="8.3" height="55.0" fill="url(#g48)" filter="url(#b1)"/>
<rect x="59.7" y="299.1" width="9.3" height="1.5" rx="0.8" fill="#2a2a34" fill-opacity="0.30" filter="url(#b05)"/>
<rect x="59.7" y="303.4" width="9.3" height="2.2" rx="1.1" fill="#2a2a34" fill-opacity="0.55" filter="url(#b05)"/>
<rect x="59.7" y="308.4" width="9.3" height="1.5" rx="0.8" fill="#2a2a34" fill-opacity="0.35" filter="url(#b05)"/>
<rect x="59.7" y="313.3" width="9.3" height="1.8" rx="0.9" fill="#2a2a34" fill-opacity="0.45" filter="url(#b05)"/>
<rect x="72.1" y="295.0" width="7.6" height="55.0" fill="url(#g49)" filter="url(#b1)"/>
<rect x="71.6" y="298.9" width="8.6" height="1.2" rx="0.6" fill="#2a2a34" fill-opacity="0.15" filter="url(#b05)"/>
<rect x="71.6" y="303.4" width="8.6" height="1.2" rx="0.6" fill="#2a2a34" fill-opacity="0.15" filter="url(#b05)"/>
<rect x="71.6" y="308.4" width="8.6" height="1.2" rx="0.6" fill="#2a2a34" fill-opacity="0.15" filter="url(#b05)"/>
<rect x="71.6" y="313.2" width="8.6" height="1.5" rx="0.8" fill="#2a2a34" fill-opacity="0.20" filter="url(#b05)"/>
<path d="M72.0,331.2 L73.6,331.2 C74.1,334.5 77.7,334.5 78.2,331.2 L79.8,331.2 L79.8,339.8 C79.6,342.8 72.2,342.8 72.0,339.8 Z" fill="#24242e" fill-opacity="0.19" filter="url(#b05)"/>
<ellipse cx="75.9" cy="334.2" rx="2.1" ry="2.2" fill="#c6c7cc" fill-opacity="0.2" filter="url(#b05)"/>
<rect x="83.0" y="295.0" width="9.3" height="55.0" fill="url(#g50)" filter="url(#b1)"/>
<rect x="82.5" y="313.4" width="10.3" height="1.2" rx="0.6" fill="#2a2a34" fill-opacity="0.10" filter="url(#b05)"/>
<path d="M82.9,331.2 L84.5,331.2 C85.0,334.5 90.3,334.5 90.8,331.2 L92.4,331.2 L92.4,339.8 C92.2,342.8 83.1,342.8 82.9,339.8 Z" fill="#24242e" fill-opacity="0.76" filter="url(#b05)"/>
<ellipse cx="87.7" cy="334.2" rx="2.9" ry="2.2" fill="#c6c7cc" fill-opacity="0.2" filter="url(#b05)"/>
<rect x="94.6" y="295.0" width="9.6" height="55.0" fill="url(#g51)" filter="url(#b1)"/>
<rect x="94.1" y="313.4" width="10.6" height="1.2" rx="0.6" fill="#2a2a34" fill-opacity="0.10" filter="url(#b05)"/>
<path d="M94.5,331.2 L96.1,331.2 C96.6,334.5 102.2,334.5 102.7,331.2 L104.3,331.2 L104.3,339.8 C104.1,342.8 94.7,342.8 94.5,339.8 Z" fill="#24242e" fill-opacity="0.80" filter="url(#b05)"/>
<ellipse cx="99.4" cy="334.2" rx="3.1" ry="2.2" fill="#c6c7cc" fill-opacity="0.2" filter="url(#b05)"/>
<rect x="106.5" y="295.0" width="9.9" height="55.0" fill="url(#g52)" filter="url(#b1)"/>
<rect x="106.0" y="313.4" width="10.9" height="1.2" rx="0.6" fill="#2a2a34" fill-opacity="0.08" filter="url(#b05)"/>
<path d="M106.4,331.2 L108.0,331.2 C108.5,334.5 114.4,334.5 114.9,331.2 L116.5,331.2 L116.5,339.8 C116.3,342.8 106.6,342.8 106.4,339.8 Z" fill="#24242e" fill-opacity="0.84" filter="url(#b05)"/>
<ellipse cx="111.5" cy="334.2" rx="3.3" ry="2.2" fill="#c6c7cc" fill-opacity="0.2" filter="url(#b05)"/>
<rect x="118.4" y="295.0" width="10.0" height="55.0" fill="url(#g53)" filter="url(#b1)"/>
<rect x="117.9" y="313.4" width="11.0" height="1.2" rx="0.6" fill="#2a2a34" fill-opacity="0.08" filter="url(#b05)"/>
<path d="M118.3,331.2 L119.9,331.2 C120.4,334.5 126.4,334.5 126.9,331.2 L128.5,331.2 L128.5,339.8 C128.3,342.8 118.5,342.8 118.3,339.8 Z" fill="#24242e" fill-opacity="0.82" filter="url(#b05)"/>
<ellipse cx="123.4" cy="334.2" rx="3.3" ry="2.2" fill="#c6c7cc" fill-opacity="0.2" filter="url(#b05)"/>
<rect x="130.7" y="295.0" width="9.2" height="55.0" fill="url(#g54)" filter="url(#b1)"/>
<rect x="130.2" y="313.4" width="10.2" height="1.2" rx="0.6" fill="#2a2a34" fill-opacity="0.06" filter="url(#b05)"/>
<path d="M130.6,331.2 L132.2,331.2 C132.7,334.5 137.9,334.5 138.4,331.2 L140.0,331.2 L140.0,339.8 C139.8,342.8 130.8,342.8 130.6,339.8 Z" fill="#24242e" fill-opacity="0.78" filter="url(#b05)"/>
<ellipse cx="135.3" cy="334.2" rx="2.9" ry="2.2" fill="#c6c7cc" fill-opacity="0.2" filter="url(#b05)"/>
<rect x="142.6" y="295.0" width="9.2" height="55.0" fill="url(#g55)" filter="url(#b1)"/>
<path d="M142.5,331.2 L144.1,331.2 C144.6,334.5 149.8,334.5 150.3,331.2 L151.9,331.2 L151.9,339.8 C151.7,342.8 142.7,342.8 142.5,339.8 Z" fill="#24242e" fill-opacity="0.58" filter="url(#b05)"/>
<ellipse cx="147.2" cy="334.2" rx="2.9" ry="2.2" fill="#c6c7cc" fill-opacity="0.2" filter="url(#b05)"/>
<rect x="154.8" y="295.0" width="8.9" height="55.0" fill="url(#g56)" filter="url(#b1)"/>
<path d="M154.7,331.2 L156.3,331.2 C156.8,334.5 161.7,334.5 162.2,331.2 L163.8,331.2 L163.8,339.8 C163.6,342.8 154.9,342.8 154.7,339.8 Z" fill="#24242e" fill-opacity="0.26" filter="url(#b05)"/>
<ellipse cx="159.2" cy="334.2" rx="2.7" ry="2.2" fill="#c6c7cc" fill-opacity="0.2" filter="url(#b05)"/>
<line x1="26.0" y1="331.7" x2="182.0" y2="331.7" stroke="#9a9aa4" stroke-width="0.4"/>
<rect x="166.5" y="295.0" width="11.5" height="50.0" fill="url(#g57)" filter="url(#b1)"/>
<rect x="166.5" y="299.8" width="11.5" height="1.6" rx="0.8" fill="#2a2a34" fill-opacity="0.45" filter="url(#b05)"/>
<rect x="166.5" y="303.2" width="11.5" height="1.8" rx="0.9" fill="#2a2a34" fill-opacity="0.60" filter="url(#b05)"/>
<rect x="166.5" y="307.8" width="11.5" height="1.5" rx="0.8" fill="#2a2a34" fill-opacity="0.40" filter="url(#b05)"/>
<rect x="166.5" y="313.5" width="11.5" height="2.0" rx="1.0" fill="#2a2a34" fill-opacity="0.72" filter="url(#b05)"/>
<rect x="166.5" y="319.1" width="11.5" height="1.4" rx="0.7" fill="#2a2a34" fill-opacity="0.35" filter="url(#b05)"/>
<rect x="166.5" y="323.0" width="11.5" height="1.4" rx="0.7" fill="#2a2a34" fill-opacity="0.35" filter="url(#b05)"/>
<rect x="166.5" y="327.0" width="11.5" height="1.4" rx="0.7" fill="#2a2a34" fill-opacity="0.30" filter="url(#b05)"/>
<path d="M166.3,334 C172,333.5 179,335 182.5,337 L182.5,342 C178,344 170,344 167,342.5 C166,340 166,336 166.3,334 Z" fill="#26262e" fill-opacity="0.88" filter="url(#b05)"/>
<rect x="25.3" y="293.0" width="157.8" height="59.6" fill="none" stroke="#505058" stroke-width="0.9"/>
<line x1="187.7" y1="314.2" x2="193.5" y2="314.2" stroke="#000" stroke-width="1.5"/>
<path d="M184.0,314.2 L188.2,312.2 L188.2,316.2 Z" fill="#000"/>
<text x="194.2" y="316.7" font-size="6.6" font-weight="bold" text-anchor="start" fill="#000" stroke="#000" stroke-width="0.2">Tagged</text>
<text x="194.2" y="324.8" font-size="6.6" font-weight="bold" text-anchor="start" fill="#000" stroke="#000" stroke-width="0.2">REC1-2</text>
<line x1="187.7" y1="338.4" x2="193.5" y2="338.4" stroke="#000" stroke-width="1.5"/>
<path d="M184.0,338.4 L188.2,336.4 L188.2,340.4 Z" fill="#000"/>
<text x="194.2" y="341.1" font-size="6.6" font-weight="bold" text-anchor="start" fill="#000" stroke="#000" stroke-width="0.2">Tagged</text>
<text x="194.2" y="349.4" font-size="6.6" font-weight="bold" text-anchor="start" fill="#000" stroke="#000" stroke-width="0.2">AcrIIA19</text>
<text x="0.6" y="358.6" font-size="18.5" font-weight="bold" text-anchor="start" fill="#000">F</text>
<line x1="41.3" y1="367.8" x2="41.3" y2="429.1" stroke="#555" stroke-width="0.8"/>
<line x1="41.3" y1="429.2" x2="181.7" y2="429.2" stroke="#333" stroke-width="1.0"/>
<text x="35.8" y="431.0" font-size="5.7" font-weight="bold" text-anchor="end" fill="#000" stroke="#000" stroke-width="0.2">0</text>
<text x="35.8" y="420.8" font-size="5.7" font-weight="bold" text-anchor="end" fill="#000" stroke="#000" stroke-width="0.2">100</text>
<text x="35.8" y="410.6" font-size="5.7" font-weight="bold" text-anchor="end" fill="#000" stroke="#000" stroke-width="0.2">200</text>
<text x="35.8" y="400.3" font-size="5.7" font-weight="bold" text-anchor="end" fill="#000" stroke="#000" stroke-width="0.2">300</text>
<text x="35.8" y="390.1" font-size="5.7" font-weight="bold" text-anchor="end" fill="#000" stroke="#000" stroke-width="0.2">400</text>
<text x="35.8" y="379.9" font-size="5.7" font-weight="bold" text-anchor="end" fill="#000" stroke="#000" stroke-width="0.2">500</text>
<text x="35.8" y="369.7" font-size="5.7" font-weight="bold" text-anchor="end" fill="#000" stroke="#000" stroke-width="0.2">600</text>
<text x="18.3" y="397.6" font-size="6.6" font-weight="bold" text-anchor="middle" fill="#000" stroke="#000" stroke-width="0.2" transform="rotate(-90 18.3 397.6)">mAU</text>
<text x="41.3" y="438.5" font-size="5.4" font-weight="bold" text-anchor="middle" fill="#000" stroke="#000" stroke-width="0.2">0</text>
<text x="85.0" y="438.5" font-size="5.4" font-weight="bold" text-anchor="middle" fill="#000" stroke="#000" stroke-width="0.2">10</text>
<text x="128.7" y="438.5" font-size="5.4" font-weight="bold" text-anchor="middle" fill="#000" stroke="#000" stroke-width="0.2">20</text>
<text x="172.4" y="438.5" font-size="5.4" font-weight="bold" text-anchor="middle" fill="#000" stroke="#000" stroke-width="0.2">30</text>
<text x="187.0" y="438.7" font-size="6.4" font-weight="bold" text-anchor="middle" fill="#000" stroke="#000" stroke-width="0.2">mL</text>
<line x1="157.5" y1="365.4" x2="174.5" y2="365.4" stroke="#000" stroke-width="2.4"/>
<line x1="157.5" y1="376.6" x2="174.5" y2="376.6" stroke="#2222ff" stroke-width="2.4"/>
<line x1="157.5" y1="387.4" x2="174.5" y2="387.4" stroke="#ff1111" stroke-width="2.4"/>
<text x="177.8" y="367.5" font-size="6.6" font-weight="bold" text-anchor="start" fill="#000" stroke="#000" stroke-width="0.2">AcrIIA19</text>
<text x="177.8" y="378.7" font-size="6.6" font-weight="bold" text-anchor="start" fill="#000" stroke="#000" stroke-width="0.2">WED</text>
<text x="177.8" y="389.5" font-size="6.6" font-weight="bold" text-anchor="start" fill="#000" stroke="#000" stroke-width="0.2">WED</text>
<text x="178.1" y="397.9" font-size="6.6" font-weight="bold" text-anchor="start" fill="#000" stroke="#000" stroke-width="0.2">+ AcrIIA19</text>
<path d="M72.0,429.1 C76.7,429.0 95.2,428.7 100.3,428.6 C105.3,428.5 101.7,428.6 102.3,428.3 C102.9,428.0 103.4,427.7 103.8,426.6 C104.2,425.6 104.6,423.5 104.9,422.0 C105.2,420.5 105.5,419.3 105.9,417.8 C106.3,416.3 106.9,413.5 107.3,413.1 C107.7,412.7 108.1,414.1 108.5,415.2 C108.9,416.3 109.3,418.2 109.9,419.6 C110.5,421.0 111.3,422.3 112.0,423.5 C112.7,424.7 113.3,425.8 114.3,426.6 C115.3,427.4 116.5,427.8 118.0,428.2 C119.5,428.6 112.7,428.9 123.0,429.0 C133.3,429.1 170.5,429.1 180.0,429.1" fill="none" stroke="#ff1a1a" stroke-width="1.2" stroke-linejoin="round"/>
<path d="M71.9,429.1 C72.2,428.4 73.2,426.6 73.8,425.0 C74.4,423.4 75.1,421.3 75.8,419.6 C76.5,417.9 77.1,416.2 78.0,415.0 C78.9,413.8 80.0,412.8 81.0,412.5 C82.0,412.2 82.8,412.8 84.0,413.5 C85.2,414.2 86.7,415.8 88.0,417.0 C89.3,418.2 90.7,419.5 92.0,420.5 C93.3,421.5 94.7,423.2 95.9,423.0 C97.1,422.8 98.0,420.8 99.0,419.0 C100.0,417.2 101.1,415.2 102.0,412.5 C102.9,409.8 103.8,405.9 104.5,403.0 C105.2,400.1 105.7,397.5 106.4,395.0 C107.1,392.5 107.8,389.9 108.5,388.0 C109.2,386.1 110.0,383.9 110.8,383.6 C111.5,383.3 112.1,384.1 113.0,386.0 C113.9,387.9 115.2,392.0 116.0,395.0 C116.8,398.0 117.3,401.1 118.0,404.0 C118.7,406.9 119.6,409.8 120.4,412.5 C121.2,415.2 122.1,417.8 123.0,420.0 C123.9,422.2 124.9,424.6 125.7,425.7 C126.5,426.8 127.3,426.6 128.0,426.8 C128.7,427.0 129.5,427.2 130.0,426.6 C130.5,426.1 130.7,424.2 131.0,423.5 C131.3,422.8 131.5,421.9 131.8,422.2 C132.1,422.4 132.4,424.1 132.8,425.0 C133.2,425.9 133.2,426.9 134.4,427.4 C135.6,427.9 137.8,427.9 140.0,428.0 C142.2,428.1 145.8,428.2 147.6,428.0 C149.4,427.8 149.9,426.9 151.0,427.0 C152.1,427.1 152.8,428.1 154.0,428.4 C155.2,428.7 154.5,428.9 158.0,429.0 C161.5,429.1 172.2,429.1 175.0,429.1" fill="none" stroke="#111" stroke-width="1.2" stroke-linejoin="round"/>
<path d="M72.3,429.1 C73.2,428.9 75.2,428.3 77.5,428.0 C79.8,427.7 83.1,427.7 86.0,427.5 C88.9,427.3 92.3,427.1 95.0,427.0 C97.7,426.9 100.0,426.7 102.0,426.6 C104.0,426.5 105.8,426.8 107.3,426.2 C108.8,425.6 110.0,424.5 110.8,423.0 C111.6,421.5 111.8,419.2 112.2,417.0 C112.6,414.8 113.0,412.1 113.4,410.0 C113.8,407.9 114.2,405.8 114.6,404.5 C115.0,403.2 115.5,402.3 116.0,402.4 C116.5,402.5 117.0,403.3 117.6,405.0 C118.2,406.7 118.9,410.2 119.6,412.5 C120.3,414.8 121.1,417.0 121.8,418.5 C122.5,420.0 123.1,421.1 124.0,421.7 C124.9,422.3 125.8,422.1 127.0,422.2 C128.2,422.3 130.2,424.2 131.0,422.2 C131.8,420.2 131.7,414.5 132.0,410.0 C132.3,405.5 132.4,399.7 132.7,395.0 C132.9,390.3 133.2,384.9 133.5,382.0 C133.8,379.1 134.1,378.4 134.4,377.5 C134.7,376.6 135.1,377.2 135.3,376.6 C135.5,376.0 135.6,374.9 135.8,374.0 C136.0,373.1 136.4,371.1 136.7,370.9 C137.0,370.7 137.2,371.3 137.6,373.0 C137.9,374.7 138.4,377.3 138.8,381.0 C139.2,384.7 139.6,391.2 140.0,395.0 C140.4,398.8 140.6,401.1 141.0,404.0 C141.4,406.9 141.8,409.8 142.3,412.5 C142.8,415.2 143.4,417.9 144.0,420.0 C144.6,422.1 145.1,424.0 145.8,424.8 C146.5,425.6 147.1,424.8 148.0,424.6 C148.9,424.4 150.2,423.3 151.0,423.4 C151.8,423.5 152.2,424.2 153.0,425.0 C153.8,425.8 154.3,427.6 155.5,428.3 C156.7,429.0 155.6,428.9 160.0,429.0 C164.4,429.1 178.1,429.1 181.7,429.1" fill="none" stroke="#2a2aff" stroke-width="1.2" stroke-linejoin="round"/>
<line x1="101.5" y1="429.4" x2="35.9" y2="448.5" stroke="#000" stroke-width="0.7"/>
<path d="M33.0,449.3 L35.5,447.3 L36.2,449.6 Z" fill="#000"/>
<line x1="117.5" y1="429.4" x2="162.7" y2="447.9" stroke="#000" stroke-width="0.7"/>
<path d="M165.5,449.0 L162.3,449.0 L163.2,446.8 Z" fill="#000"/>
<text x="27.1" y="447.6" font-size="5.6" font-weight="bold" text-anchor="middle" fill="#000" stroke="#000" stroke-width="0.2">M</text>
<text x="170.4" y="447.6" font-size="5.6" font-weight="bold" text-anchor="middle" fill="#000" stroke="#000" stroke-width="0.2">I</text>
<text x="18.8" y="462.3" font-size="5.6" font-weight="bold" text-anchor="end" fill="#000" stroke="#000" stroke-width="0.2">70</text>
<text x="18.8" y="468.0" font-size="5.6" font-weight="bold" text-anchor="end" fill="#000" stroke="#000" stroke-width="0.2">50</text>
<text x="18.8" y="473.4" font-size="5.6" font-weight="bold" text-anchor="end" fill="#000" stroke="#000" stroke-width="0.2">40</text>
<text x="18.8" y="478.5" font-size="5.6" font-weight="bold" text-anchor="end" fill="#000" stroke="#000" stroke-width="0.2">30</text>
<text x="18.8" y="484.3" font-size="5.6" font-weight="bold" text-anchor="end" fill="#000" stroke="#000" stroke-width="0.2">25</text>
<text x="18.8" y="496.1" font-size="5.6" font-weight="bold" text-anchor="end" fill="#000" stroke="#000" stroke-width="0.2">14</text>
<rect x="20.90" y="449.10" width="162.90" height="60.30" fill="#bcbdc4"/>
<rect x="22.0" y="450.4" width="9.1" height="1.5" rx="0.8" fill="#2a2a34" fill-opacity="0.45" filter="url(#b05)"/>
<rect x="22.0" y="453.3" width="9.1" height="1.4" rx="0.7" fill="#2a2a34" fill-opacity="0.45" filter="url(#b05)"/>
<rect x="22.0" y="456.8" width="9.1" height="1.4" rx="0.7" fill="#2a2a34" fill-opacity="0.45" filter="url(#b05)"/>
<rect x="22.0" y="459.6" width="9.1" height="1.4" rx="0.7" fill="#2a2a34" fill-opacity="0.45" filter="url(#b05)"/>
<rect x="22.0" y="466.3" width="9.1" height="2.0" rx="1.0" fill="#2a2a34" fill-opacity="0.60" filter="url(#b05)"/>
<rect x="22.0" y="474.0" width="9.1" height="2.0" rx="1.0" fill="#2a2a34" fill-opacity="0.60" filter="url(#b05)"/>
<rect x="22.0" y="480.4" width="9.1" height="2.0" rx="1.0" fill="#2a2a34" fill-opacity="0.60" filter="url(#b05)"/>
<rect x="22.0" y="492.5" width="9.1" height="3.0" rx="1.5" fill="#2a2a34" fill-opacity="0.55" filter="url(#b05)"/>
<rect x="22.0" y="507.2" width="9.1" height="1.5" rx="0.8" fill="#2a2a34" fill-opacity="0.40" filter="url(#b05)"/>
<rect x="33.7" y="450.0" width="11.6" height="58.0" fill="url(#g58)" filter="url(#b1)"/>
<rect x="33.2" y="465.8" width="12.6" height="1.4" rx="0.7" fill="#2a2a34" fill-opacity="0.14" filter="url(#b05)"/>
<rect x="33.2" y="477.6" width="12.6" height="1.4" rx="0.7" fill="#2a2a34" fill-opacity="0.14" filter="url(#b05)"/>
<rect x="33.2" y="484.0" width="12.6" height="1.2" rx="0.6" fill="#2a2a34" fill-opacity="0.07" filter="url(#b05)"/>
<rect x="33.2" y="492.1" width="12.6" height="3.6" rx="1.5" fill="#2a2a34" fill-opacity="0.40" filter="url(#b05)"/>
<rect x="33.2" y="499.0" width="12.6" height="3.8" rx="1.5" fill="#2a2a34" fill-opacity="0.37" filter="url(#b05)"/>
<rect x="48.5" y="450.0" width="13.0" height="58.0" fill="url(#g59)" filter="url(#b1)"/>
<rect x="48.0" y="465.8" width="14.0" height="1.4" rx="0.7" fill="#2a2a34" fill-opacity="0.26" filter="url(#b05)"/>
<rect x="48.0" y="477.6" width="14.0" height="1.4" rx="0.7" fill="#2a2a34" fill-opacity="0.26" filter="url(#b05)"/>
<rect x="48.0" y="484.0" width="14.0" height="1.2" rx="0.6" fill="#2a2a34" fill-opacity="0.13" filter="url(#b05)"/>
<rect x="48.0" y="492.1" width="14.0" height="3.6" rx="1.5" fill="#2a2a34" fill-opacity="0.75" filter="url(#b05)"/>
<rect x="48.0" y="499.0" width="14.0" height="3.8" rx="1.5" fill="#2a2a34" fill-opacity="0.70" filter="url(#b05)"/>
<rect x="63.9" y="450.0" width="12.3" height="58.0" fill="url(#g60)" filter="url(#b1)"/>
<rect x="63.4" y="465.8" width="13.3" height="1.4" rx="0.7" fill="#2a2a34" fill-opacity="0.26" filter="url(#b05)"/>
<rect x="63.4" y="477.6" width="13.3" height="1.4" rx="0.7" fill="#2a2a34" fill-opacity="0.26" filter="url(#b05)"/>
<rect x="63.4" y="484.0" width="13.3" height="1.2" rx="0.6" fill="#2a2a34" fill-opacity="0.13" filter="url(#b05)"/>
<rect x="63.4" y="492.1" width="13.3" height="3.6" rx="1.5" fill="#2a2a34" fill-opacity="0.75" filter="url(#b05)"/>
<rect x="63.4" y="499.0" width="13.3" height="3.8" rx="1.5" fill="#2a2a34" fill-opacity="0.70" filter="url(#b05)"/>
<rect x="78.6" y="450.0" width="11.6" height="58.0" fill="url(#g61)" filter="url(#b1)"/>
<rect x="78.1" y="465.8" width="12.6" height="1.4" rx="0.7" fill="#2a2a34" fill-opacity="0.24" filter="url(#b05)"/>
<rect x="78.1" y="477.6" width="12.6" height="1.4" rx="0.7" fill="#2a2a34" fill-opacity="0.24" filter="url(#b05)"/>
<rect x="78.1" y="484.0" width="12.6" height="1.2" rx="0.6" fill="#2a2a34" fill-opacity="0.12" filter="url(#b05)"/>
<rect x="78.1" y="492.1" width="12.6" height="3.6" rx="1.5" fill="#2a2a34" fill-opacity="0.70" filter="url(#b05)"/>
<rect x="78.1" y="499.0" width="12.6" height="3.8" rx="1.5" fill="#2a2a34" fill-opacity="0.66" filter="url(#b05)"/>
<rect x="93.3" y="450.0" width="11.8" height="58.0" fill="url(#g62)" filter="url(#b1)"/>
<rect x="92.8" y="465.8" width="12.8" height="1.4" rx="0.7" fill="#2a2a34" fill-opacity="0.24" filter="url(#b05)"/>
<rect x="92.8" y="477.6" width="12.8" height="1.4" rx="0.7" fill="#2a2a34" fill-opacity="0.24" filter="url(#b05)"/>
<rect x="92.8" y="484.0" width="12.8" height="1.2" rx="0.6" fill="#2a2a34" fill-opacity="0.12" filter="url(#b05)"/>
<rect x="92.8" y="492.1" width="12.8" height="3.6" rx="1.5" fill="#2a2a34" fill-opacity="0.70" filter="url(#b05)"/>
<rect x="92.8" y="499.0" width="12.8" height="3.8" rx="1.5" fill="#2a2a34" fill-opacity="0.66" filter="url(#b05)"/>
<rect x="108.2" y="450.0" width="11.6" height="58.0" fill="url(#g63)" filter="url(#b1)"/>
<rect x="107.7" y="465.8" width="12.6" height="1.4" rx="0.7" fill="#2a2a34" fill-opacity="0.23" filter="url(#b05)"/>
<rect x="107.7" y="477.6" width="12.6" height="1.4" rx="0.7" fill="#2a2a34" fill-opacity="0.23" filter="url(#b05)"/>
<rect x="107.7" y="484.0" width="12.6" height="1.2" rx="0.6" fill="#2a2a34" fill-opacity="0.12" filter="url(#b05)"/>
<rect x="107.7" y="492.1" width="12.6" height="3.6" rx="1.5" fill="#2a2a34" fill-opacity="0.69" filter="url(#b05)"/>
<rect x="107.7" y="499.0" width="12.6" height="3.8" rx="1.5" fill="#2a2a34" fill-opacity="0.64" filter="url(#b05)"/>
<rect x="122.9" y="450.0" width="11.6" height="58.0" fill="url(#g64)" filter="url(#b1)"/>
<rect x="122.4" y="465.8" width="12.6" height="1.4" rx="0.7" fill="#2a2a34" fill-opacity="0.19" filter="url(#b05)"/>
<rect x="122.4" y="477.6" width="12.6" height="1.4" rx="0.7" fill="#2a2a34" fill-opacity="0.19" filter="url(#b05)"/>
<rect x="122.4" y="484.0" width="12.6" height="1.2" rx="0.6" fill="#2a2a34" fill-opacity="0.09" filter="url(#b05)"/>
<rect x="122.4" y="492.1" width="12.6" height="3.6" rx="1.5" fill="#2a2a34" fill-opacity="0.55" filter="url(#b05)"/>
<rect x="122.4" y="499.0" width="12.6" height="3.8" rx="1.5" fill="#2a2a34" fill-opacity="0.51" filter="url(#b05)"/>
<rect x="138.4" y="450.0" width="10.4" height="58.0" fill="url(#g65)" filter="url(#b1)"/>
<rect x="137.9" y="465.8" width="11.4" height="1.4" rx="0.7" fill="#2a2a34" fill-opacity="0.14" filter="url(#b05)"/>
<rect x="137.9" y="477.6" width="11.4" height="1.4" rx="0.7" fill="#2a2a34" fill-opacity="0.14" filter="url(#b05)"/>
<rect x="137.9" y="484.0" width="11.4" height="1.2" rx="0.6" fill="#2a2a34" fill-opacity="0.07" filter="url(#b05)"/>
<rect x="137.9" y="492.1" width="11.4" height="3.6" rx="1.5" fill="#2a2a34" fill-opacity="0.40" filter="url(#b05)"/>
<rect x="137.9" y="499.0" width="11.4" height="3.8" rx="1.5" fill="#2a2a34" fill-opacity="0.37" filter="url(#b05)"/>
<rect x="153.1" y="450.0" width="8.1" height="58.0" fill="url(#g66)" filter="url(#b1)"/>
<rect x="152.6" y="465.8" width="9.1" height="1.4" rx="0.7" fill="#2a2a34" fill-opacity="0.07" filter="url(#b05)"/>
<rect x="152.6" y="477.6" width="9.1" height="1.4" rx="0.7" fill="#2a2a34" fill-opacity="0.07" filter="url(#b05)"/>
<rect x="152.6" y="484.0" width="9.1" height="1.2" rx="0.6" fill="#2a2a34" fill-opacity="0.04" filter="url(#b05)"/>
<rect x="152.6" y="492.1" width="9.1" height="3.6" rx="1.5" fill="#2a2a34" fill-opacity="0.22" filter="url(#b05)"/>
<rect x="152.6" y="499.0" width="9.1" height="3.8" rx="1.5" fill="#2a2a34" fill-opacity="0.20" filter="url(#b05)"/>
<rect x="164.5" y="450.0" width="17.5" height="58.0" fill="url(#g67)" filter="url(#b1)"/>
<rect x="164.5" y="458.9" width="17.5" height="1.4" rx="0.7" fill="#2a2a34" fill-opacity="0.30" filter="url(#b05)"/>
<rect x="164.5" y="466.4" width="17.5" height="1.8" rx="0.9" fill="#2a2a34" fill-opacity="0.60" filter="url(#b05)"/>
<rect x="164.5" y="475.0" width="17.5" height="1.4" rx="0.7" fill="#2a2a34" fill-opacity="0.35" filter="url(#b05)"/>
<rect x="164.5" y="479.0" width="17.5" height="2.0" rx="1.0" fill="#2a2a34" fill-opacity="0.55" filter="url(#b05)"/>
<rect x="164.5" y="482.8" width="17.5" height="1.4" rx="0.7" fill="#2a2a34" fill-opacity="0.35" filter="url(#b05)"/>
<rect x="164.5" y="487.7" width="17.5" height="1.4" rx="0.7" fill="#2a2a34" fill-opacity="0.30" filter="url(#b05)"/>
<rect x="164.5" y="491.5" width="17.5" height="5.0" rx="1.5" fill="#2a2a34" fill-opacity="0.85" filter="url(#b05)"/>
<rect x="164.5" y="498.4" width="17.5" height="5.0" rx="1.5" fill="#2a2a34" fill-opacity="0.80" filter="url(#b05)"/>
<rect x="20.9" y="449.1" width="162.9" height="60.3" fill="none" stroke="#505058" stroke-width="0.9"/>
<text x="196.3" y="488.6" font-size="6.6" font-weight="bold" text-anchor="start" fill="#000" stroke="#000" stroke-width="0.2">Tagged</text>
<line x1="188.3" y1="493.6" x2="194.3" y2="493.6" stroke="#000" stroke-width="1.5"/>
<path d="M184.6,493.6 L188.8,491.6 L188.8,495.6 Z" fill="#000"/>
<text x="196.3" y="497.3" font-size="6.6" font-weight="bold" text-anchor="start" fill="#000" stroke="#000" stroke-width="0.2">WED</text>
<line x1="188.3" y1="501.3" x2="194.3" y2="501.3" stroke="#000" stroke-width="1.5"/>
<path d="M184.6,501.3 L188.8,499.3 L188.8,503.3 Z" fill="#000"/>
<text x="196.3" y="505.0" font-size="6.6" font-weight="bold" text-anchor="start" fill="#000" stroke="#000" stroke-width="0.2">Tagged</text>
<text x="196.3" y="513.2" font-size="6.6" font-weight="bold" text-anchor="start" fill="#000" stroke="#000" stroke-width="0.2">AcrIIA19</text>
<text x="219.1" y="276.0" font-size="18.5" font-weight="bold" text-anchor="start" fill="#000">G</text>
<text x="293.8" y="282.2" font-size="8.4" font-weight="bold" text-anchor="middle" fill="#000" stroke="#000" stroke-width="0.2">Spy</text>
<text x="342.2" y="282.2" font-size="8.4" font-weight="bold" text-anchor="middle" fill="#000" stroke="#000" stroke-width="0.2">Nme</text>
<text x="393.0" y="282.2" font-size="8.4" font-weight="bold" text-anchor="middle" fill="#000" stroke="#000" stroke-width="0.2">Hpa</text>
<text x="444.9" y="282.2" font-size="8.4" font-weight="bold" text-anchor="middle" fill="#000" stroke="#000" stroke-width="0.2">Sau</text>
<rect x="280.10" y="291.30" width="3.80" height="1.50" fill="#000"/>
<rect x="301.00" y="290.50" width="6.00" height="1.80" fill="#000"/>
<rect x="303.10" y="288.40" width="1.80" height="6.00" fill="#000"/>
<rect x="328.90" y="291.30" width="3.80" height="1.50" fill="#000"/>
<rect x="351.50" y="290.50" width="6.00" height="1.80" fill="#000"/>
<rect x="353.60" y="288.40" width="1.80" height="6.00" fill="#000"/>
<rect x="381.30" y="291.30" width="3.80" height="1.50" fill="#000"/>
<rect x="404.20" y="290.50" width="6.00" height="1.80" fill="#000"/>
<rect x="406.30" y="288.40" width="1.80" height="6.00" fill="#000"/>
<rect x="431.00" y="291.30" width="3.80" height="1.50" fill="#000"/>
<rect x="454.70" y="290.50" width="6.00" height="1.80" fill="#000"/>
<rect x="456.80" y="288.40" width="1.80" height="6.00" fill="#000"/>
<text x="483.7" y="296.9" font-size="10.5" font-weight="bold" text-anchor="middle" fill="#000" stroke="#000" stroke-width="0.2">*</text>
<rect x="271.10" y="294.20" width="21.50" height="91.00" fill="#d0d0d0"/>
<rect x="271.1" y="294.2" width="21.5" height="91.0" fill="url(#g68)"/>
<rect x="271.7" y="301.0" width="20.3" height="5.3" fill="#000" fill-opacity="0.80" filter="url(#b1)"/>
<rect x="271.9" y="310.2" width="19.9" height="2.0" fill="#000" fill-opacity="0.44" filter="url(#b05)"/>
<rect x="271.9" y="313.8" width="19.9" height="1.4" fill="#000" fill-opacity="0.22" filter="url(#b05)"/>
<rect x="271.9" y="316.9" width="19.9" height="1.6" fill="#000" fill-opacity="0.28" filter="url(#b05)"/>
<rect x="271.9" y="338.4" width="19.9" height="1.6" fill="#000" fill-opacity="0.20" filter="url(#b05)"/>
<rect x="271.1" y="294.2" width="21.5" height="91.0" fill="none" stroke="#3a3a3a" stroke-width="0.9"/>
<rect x="295.30" y="294.20" width="20.80" height="91.40" fill="#cdcdcd"/>
<rect x="295.3" y="294.2" width="20.8" height="91.4" fill="url(#g69)"/>
<rect x="295.9" y="297.1" width="19.6" height="2.8" fill="#000" fill-opacity="0.40" filter="url(#b1)"/>
<rect x="295.9" y="300.8" width="19.6" height="4.8" fill="#000" fill-opacity="0.80" filter="url(#b1)"/>
<rect x="295.9" y="309.0" width="19.6" height="3.3" fill="#000" fill-opacity="0.57" filter="url(#b1)"/>
<rect x="296.1" y="315.3" width="19.2" height="1.4" fill="#000" fill-opacity="0.22" filter="url(#b05)"/>
<rect x="295.9" y="338.4" width="19.6" height="2.8" fill="#000" fill-opacity="0.46" filter="url(#b1)"/>
<rect x="295.9" y="370.3" width="19.6" height="3.2" fill="#000" fill-opacity="0.63" filter="url(#b1)"/>
<rect x="295.3" y="294.2" width="20.8" height="91.4" fill="none" stroke="#3a3a3a" stroke-width="0.9"/>
<rect x="320.90" y="294.20" width="21.40" height="90.80" fill="#959595"/>
<rect x="320.9" y="294.2" width="21.4" height="90.8" fill="url(#g70)"/>
<rect x="321.5" y="294.1" width="20.2" height="4.8" fill="#000" fill-opacity="0.23" filter="url(#b1)"/>
<rect x="321.5" y="301.6" width="20.2" height="3.2" fill="#000" fill-opacity="0.75" filter="url(#b1)"/>
<rect x="321.7" y="308.3" width="19.8" height="1.4" fill="#000" fill-opacity="0.13" filter="url(#b05)"/>
<rect x="321.7" y="312.3" width="19.8" height="1.4" fill="#000" fill-opacity="0.11" filter="url(#b05)"/>
<rect x="321.7" y="317.3" width="19.8" height="1.4" fill="#000" fill-opacity="0.11" filter="url(#b05)"/>
<rect x="321.7" y="325.3" width="19.8" height="1.4" fill="#000" fill-opacity="0.09" filter="url(#b05)"/>
<rect x="321.5" y="339.1" width="20.2" height="4.8" fill="#000" fill-opacity="0.25" filter="url(#b1)"/>
<rect x="321.5" y="343.6" width="20.2" height="6.8" fill="#000" fill-opacity="0.09" filter="url(#b1)"/>
<rect x="320.9" y="294.2" width="21.4" height="90.8" fill="none" stroke="#3a3a3a" stroke-width="0.9"/>
<rect x="344.80" y="294.00" width="21.80" height="90.40" fill="#a6a6a6"/>
<rect x="344.8" y="294.0" width="21.8" height="90.4" fill="url(#g71)"/>
<rect x="345.4" y="298.2" width="20.6" height="3.0" fill="#000" fill-opacity="0.69" filter="url(#b1)"/>
<rect x="345.4" y="306.4" width="20.6" height="3.0" fill="#000" fill-opacity="0.63" filter="url(#b1)"/>
<rect x="345.6" y="311.3" width="20.2" height="1.4" fill="#000" fill-opacity="0.13" filter="url(#b05)"/>
<rect x="345.6" y="317.3" width="20.2" height="1.4" fill="#000" fill-opacity="0.11" filter="url(#b05)"/>
<rect x="345.6" y="339.9" width="20.2" height="2.0" fill="#000" fill-opacity="0.33" filter="url(#b05)"/>
<rect x="345.4" y="369.1" width="20.6" height="3.0" fill="#000" fill-opacity="0.57" filter="url(#b1)"/>
<rect x="344.8" y="294.0" width="21.8" height="90.4" fill="none" stroke="#3a3a3a" stroke-width="0.9"/>
<rect x="372.20" y="294.20" width="22.50" height="91.40" fill="#9e9e9e"/>
<rect x="372.2" y="294.2" width="22.5" height="91.4" fill="url(#g72)"/>
<rect x="372.8" y="301.1" width="21.3" height="3.8" fill="#000" fill-opacity="0.63" filter="url(#b1)"/>
<rect x="373.0" y="307.3" width="20.9" height="1.4" fill="#000" fill-opacity="0.17" filter="url(#b05)"/>
<rect x="373.0" y="310.3" width="20.9" height="1.4" fill="#000" fill-opacity="0.13" filter="url(#b05)"/>
<rect x="373.0" y="313.3" width="20.9" height="1.4" fill="#000" fill-opacity="0.13" filter="url(#b05)"/>
<rect x="372.2" y="294.2" width="22.5" height="91.4" fill="none" stroke="#3a3a3a" stroke-width="0.9"/>
<rect x="396.70" y="294.80" width="21.90" height="91.40" fill="#b2b2b2"/>
<rect x="396.7" y="294.8" width="21.9" height="91.4" fill="url(#g73)"/>
<rect x="397.3" y="298.1" width="20.7" height="2.8" fill="#000" fill-opacity="0.46" filter="url(#b1)"/>
<rect x="397.3" y="300.6" width="20.7" height="4.8" fill="#000" fill-opacity="0.95" filter="url(#b1)"/>
<rect x="397.5" y="308.3" width="20.3" height="1.4" fill="#000" fill-opacity="0.22" filter="url(#b05)"/>
<rect x="397.5" y="341.5" width="20.3" height="1.6" fill="#000" fill-opacity="0.22" filter="url(#b05)"/>
<rect x="397.3" y="370.4" width="20.7" height="3.0" fill="#000" fill-opacity="0.86" filter="url(#b1)"/>
<rect x="396.7" y="294.8" width="21.9" height="91.4" fill="none" stroke="#3a3a3a" stroke-width="0.9"/>
<rect x="423.30" y="294.20" width="20.40" height="92.60" fill="#a2a2a2"/>
<rect x="423.3" y="294.2" width="20.4" height="92.6" fill="url(#g74)"/>
<rect x="423.9" y="299.9" width="19.2" height="3.8" fill="#000" fill-opacity="0.75" filter="url(#b1)"/>
<rect x="424.1" y="307.3" width="18.8" height="1.4" fill="#000" fill-opacity="0.33" filter="url(#b05)"/>
<rect x="424.1" y="310.3" width="18.8" height="1.4" fill="#000" fill-opacity="0.33" filter="url(#b05)"/>
<rect x="424.1" y="313.3" width="18.8" height="1.4" fill="#000" fill-opacity="0.33" filter="url(#b05)"/>
<rect x="424.1" y="316.3" width="18.8" height="1.4" fill="#000" fill-opacity="0.28" filter="url(#b05)"/>
<rect x="424.1" y="322.9" width="18.8" height="2.0" fill="#000" fill-opacity="0.61" filter="url(#b05)"/>
<rect x="423.3" y="294.2" width="20.4" height="92.6" fill="none" stroke="#3a3a3a" stroke-width="0.9"/>
<rect x="446.80" y="294.20" width="20.90" height="92.60" fill="#9a9a9a"/>
<rect x="446.8" y="294.2" width="20.9" height="92.6" fill="url(#g75)"/>
<rect x="447.4" y="296.1" width="19.7" height="2.8" fill="#000" fill-opacity="0.34" filter="url(#b1)"/>
<rect x="447.4" y="299.4" width="19.7" height="4.3" fill="#000" fill-opacity="0.95" filter="url(#b1)"/>
<rect x="447.6" y="307.5" width="19.3" height="2.0" fill="#000" fill-opacity="0.50" filter="url(#b05)"/>
<rect x="447.6" y="311.3" width="19.3" height="1.4" fill="#000" fill-opacity="0.22" filter="url(#b05)"/>
<rect x="447.6" y="315.3" width="19.3" height="1.4" fill="#000" fill-opacity="0.22" filter="url(#b05)"/>
<rect x="447.4" y="340.5" width="19.7" height="2.8" fill="#000" fill-opacity="0.69" filter="url(#b1)"/>
<rect x="447.4" y="369.0" width="19.7" height="3.0" fill="#000" fill-opacity="0.95" filter="url(#b1)"/>
<rect x="446.8" y="294.2" width="20.9" height="92.6" fill="none" stroke="#3a3a3a" stroke-width="0.9"/>
<rect x="475.40" y="294.80" width="19.80" height="91.70" fill="#f8f8f8"/>
<rect x="475.4" y="294.8" width="19.8" height="91.7" fill="url(#g76)"/>
<rect x="476.2" y="306.5" width="18.2" height="2.2" fill="#000" fill-opacity="0.61" filter="url(#b05)"/>
<rect x="476.2" y="341.9" width="18.2" height="2.2" fill="#000" fill-opacity="0.39" filter="url(#b05)"/>
<rect x="476.2" y="348.5" width="18.2" height="1.6" fill="#000" fill-opacity="0.22" filter="url(#b05)"/>
<rect x="475.4" y="294.8" width="19.8" height="91.7" fill="none" stroke="#3a3a3a" stroke-width="0.9"/>
<text x="231.1" y="303.7" font-size="6.4" font-weight="bold" text-anchor="start" fill="#000" stroke="#000" stroke-width="0.2">Tagged</text>
<text x="231.1" y="311.1" font-size="6.4" font-weight="bold" text-anchor="start" fill="#000" stroke="#000" stroke-width="0.2">Cas9</text>
<line x1="260.8" y1="302.9" x2="266.5" y2="302.9" stroke="#000" stroke-width="1.5"/>
<path d="M270.2,302.9 L266.0,300.9 L266.0,304.9 Z" fill="#000"/>
<text x="228.8" y="371.9" font-size="6.7" font-weight="bold" text-anchor="start" fill="#000" stroke="#000" stroke-width="0.2">Untagged</text>
<text x="228.8" y="379.4" font-size="6.7" font-weight="bold" text-anchor="start" fill="#000" stroke="#000" stroke-width="0.2">AcrIIA19</text>
<line x1="260.8" y1="371.9" x2="266.5" y2="371.9" stroke="#000" stroke-width="1.5"/>
<path d="M270.2,371.9 L266.0,369.9 L266.0,373.9 Z" fill="#000"/>
<text x="222.9" y="412.4" font-size="18.5" font-weight="bold" text-anchor="start" fill="#000">H</text>
<line x1="293.2" y1="419.5" x2="293.2" y2="493.6" stroke="#444" stroke-width="0.8"/>
<line x1="293.2" y1="493.6" x2="449.3" y2="493.6" stroke="#444" stroke-width="0.8"/>
<text x="290.0" y="495.7" font-size="6.1" font-weight="bold" text-anchor="end" fill="#000" stroke="#000" stroke-width="0.2">0</text>
<text x="290.0" y="480.9" font-size="6.1" font-weight="bold" text-anchor="end" fill="#000" stroke="#000" stroke-width="0.2">20</text>
<text x="290.0" y="466.1" font-size="6.1" font-weight="bold" text-anchor="end" fill="#000" stroke="#000" stroke-width="0.2">40</text>
<text x="290.0" y="451.4" font-size="6.1" font-weight="bold" text-anchor="end" fill="#000" stroke="#000" stroke-width="0.2">60</text>
<text x="290.0" y="436.6" font-size="6.1" font-weight="bold" text-anchor="end" fill="#000" stroke="#000" stroke-width="0.2">80</text>
<text x="290.0" y="421.8" font-size="6.1" font-weight="bold" text-anchor="end" fill="#000" stroke="#000" stroke-width="0.2">100</text>
<text x="278.6" y="457.8" font-size="7.3" font-weight="bold" text-anchor="middle" fill="#000" stroke="#000" stroke-width="0.2" transform="rotate(-90 278.6 457.8)">Complex (%)</text>
<rect x="305.5" y="435.5" width="16.0" height="58.1" fill="#fff" stroke="#000" stroke-width="1.1"/>
<text x="313.5" y="502.8" font-size="6.2" font-weight="bold" text-anchor="middle" fill="#000" stroke="#000" stroke-width="0.2">Spy</text>
<circle cx="313.5" cy="432.5" r="1.3" fill="#000"/>
<circle cx="313.5" cy="438.5" r="1.3" fill="#000"/>
<circle cx="313.5" cy="435.5" r="1.3" fill="#000"/>
<line x1="313.5" y1="431.0" x2="313.5" y2="440.0" stroke="#000" stroke-width="0.6"/>
<rect x="343.8" y="429.2" width="15.8" height="64.4" fill="#fff" stroke="#000" stroke-width="1.1"/>
<text x="351.7" y="502.8" font-size="6.2" font-weight="bold" text-anchor="middle" fill="#000" stroke="#000" stroke-width="0.2">Nme</text>
<circle cx="351.7" cy="425.5" r="1.3" fill="#000"/>
<circle cx="351.7" cy="432" r="1.3" fill="#000"/>
<circle cx="351.7" cy="429" r="1.3" fill="#000"/>
<line x1="351.7" y1="424.0" x2="351.7" y2="433.5" stroke="#000" stroke-width="0.6"/>
<rect x="382.5" y="425.8" width="15.7" height="67.8" fill="#fff" stroke="#000" stroke-width="1.1"/>
<text x="390.4" y="502.8" font-size="6.2" font-weight="bold" text-anchor="middle" fill="#000" stroke="#000" stroke-width="0.2">Hpa</text>
<circle cx="390.4" cy="422.5" r="1.3" fill="#000"/>
<circle cx="390.4" cy="428" r="1.3" fill="#000"/>
<circle cx="390.4" cy="425.5" r="1.3" fill="#000"/>
<line x1="390.4" y1="421.0" x2="390.4" y2="429.5" stroke="#000" stroke-width="0.6"/>
<rect x="421.9" y="419.7" width="15.2" height="73.9" fill="#fff" stroke="#000" stroke-width="1.1"/>
<text x="429.5" y="502.8" font-size="6.2" font-weight="bold" text-anchor="middle" fill="#000" stroke="#000" stroke-width="0.2">Sau</text>
<circle cx="429.5" cy="419.7" r="1.3" fill="#000"/>
<circle cx="429.5" cy="420" r="1.3" fill="#000"/>
<line x1="429.5" y1="418.2" x2="429.5" y2="421.5" stroke="#000" stroke-width="0.6"/>
<rect x="320.5" y="506.6" width="3.2" height="3.2" fill="#fff" stroke="#000" stroke-width="0.9"/>
<text x="325.2" y="510.5" font-size="6.8" font-weight="bold" text-anchor="start" fill="#000" stroke="#000" stroke-width="0.2">average</text>
<circle cx="355.6" cy="508.2" r="1.3" fill="#000"/>
<text x="358.6" y="510.5" font-size="6.8" font-weight="bold" text-anchor="start" fill="#000" stroke="#000" stroke-width="0.2">1st</text>
<circle cx="373.8" cy="508.2" r="1.0" fill="#000"/>
<text x="376.8" y="510.5" font-size="6.8" font-weight="bold" text-anchor="start" fill="#000" stroke="#000" stroke-width="0.2">2nd</text>
<path d="M395.3,506.6 L396.8,509.2 L393.8,509.2 Z" fill="#000"/>
<text x="398.3" y="510.5" font-size="6.8" font-weight="bold" text-anchor="start" fill="#000" stroke="#000" stroke-width="0.2">3rd</text>
<text x="506.0" y="275.5" font-size="18.5" font-weight="bold" text-anchor="start" fill="#000">I</text>
<text x="521.4" y="286.8" font-size="6.65" font-weight="bold" text-anchor="start" fill="#000" stroke="#000" stroke-width="0.2">DNA (4)</text>
<text x="521.4" y="298.0" font-size="6.65" font-weight="bold" text-anchor="start" fill="#000" stroke="#000" stroke-width="0.2">SauCas9 (1)</text>
<text x="521.4" y="311.0" font-size="6.65" font-weight="bold" text-anchor="start" fill="#000" stroke="#000" stroke-width="0.2">sgRNA (3)</text>
<text x="521.4" y="323.7" font-size="6.65" font-weight="bold" text-anchor="start" fill="#000" stroke="#000" stroke-width="0.2">AcrIIA19 (2)</text>
<rect x="569.90" y="285.05" width="5.20" height="1.30" fill="#000"/>
<rect x="571.85" y="283.10" width="1.30" height="5.20" fill="#000"/>
<rect x="594.80" y="285.05" width="5.20" height="1.30" fill="#000"/>
<rect x="596.75" y="283.10" width="1.30" height="5.20" fill="#000"/>
<rect x="618.90" y="285.05" width="5.20" height="1.30" fill="#000"/>
<rect x="620.85" y="283.10" width="1.30" height="5.20" fill="#000"/>
<rect x="643.20" y="285.05" width="5.20" height="1.30" fill="#000"/>
<rect x="645.15" y="283.10" width="1.30" height="5.20" fill="#000"/>
<rect x="670.20" y="285.05" width="5.20" height="1.30" fill="#000"/>
<rect x="672.15" y="283.10" width="1.30" height="5.20" fill="#000"/>
<rect x="570.05" y="298.10" width="2.90" height="1.20" fill="#000"/>
<rect x="594.80" y="297.75" width="5.20" height="1.30" fill="#000"/>
<rect x="596.75" y="295.80" width="1.30" height="5.20" fill="#000"/>
<rect x="618.90" y="297.75" width="5.20" height="1.30" fill="#000"/>
<rect x="620.85" y="295.80" width="1.30" height="5.20" fill="#000"/>
<rect x="643.20" y="297.75" width="5.20" height="1.30" fill="#000"/>
<rect x="645.15" y="295.80" width="1.30" height="5.20" fill="#000"/>
<rect x="670.20" y="297.75" width="5.20" height="1.30" fill="#000"/>
<rect x="672.15" y="295.80" width="1.30" height="5.20" fill="#000"/>
<rect x="570.05" y="309.30" width="2.90" height="1.20" fill="#000"/>
<rect x="594.95" y="309.30" width="2.90" height="1.20" fill="#000"/>
<rect x="618.90" y="308.95" width="5.20" height="1.30" fill="#000"/>
<rect x="620.85" y="307.00" width="1.30" height="5.20" fill="#000"/>
<rect x="643.20" y="308.95" width="5.20" height="1.30" fill="#000"/>
<rect x="645.15" y="307.00" width="1.30" height="5.20" fill="#000"/>
<rect x="670.20" y="308.95" width="5.20" height="1.30" fill="#000"/>
<rect x="672.15" y="307.00" width="1.30" height="5.20" fill="#000"/>
<rect x="570.05" y="322.60" width="2.90" height="1.20" fill="#000"/>
<rect x="594.95" y="322.60" width="2.90" height="1.20" fill="#000"/>
<rect x="619.05" y="322.60" width="2.90" height="1.20" fill="#000"/>
<text x="645.8" y="323.7" font-size="6.6" font-weight="bold" text-anchor="middle" fill="#000" stroke="#000" stroke-width="0.2">0.5uM</text>
<text x="672.8" y="323.7" font-size="6.6" font-weight="bold" text-anchor="middle" fill="#000" stroke="#000" stroke-width="0.2">2uM</text>
<rect x="558.90" y="330.70" width="123.90" height="47.70" fill="#ebebeb"/>
<rect x="558.9" y="330.7" width="2.5" height="47.7" fill="url(#g77)"/>
<rect x="563.2" y="331.0" width="18.7" height="47.0" fill="url(#g78)" filter="url(#b05)"/>
<rect x="588.1" y="331.0" width="18.7" height="47.0" fill="url(#g79)" filter="url(#b05)"/>
<rect x="613.2" y="331.0" width="17.5" height="47.0" fill="url(#g80)" filter="url(#b05)"/>
<rect x="637.9" y="331.0" width="17.0" height="47.0" fill="url(#g81)" filter="url(#b05)"/>
<rect x="662.0" y="331.0" width="17.5" height="47.0" fill="url(#g82)" filter="url(#b05)"/>
<rect x="563.7" y="331.0" width="17.7" height="12.9" fill="url(#g83)" filter="url(#b05)"/>
<rect x="563.2" y="331.0" width="2.0" height="14.9" fill="url(#g84)" filter="url(#b05)"/>
<rect x="579.9" y="331.0" width="2.0" height="14.9" fill="url(#g85)" filter="url(#b05)"/>
<rect x="563.2" y="342.3" width="18.7" height="3.6" fill="#000" fill-opacity="0.85" filter="url(#b05)"/>
<rect x="588.6" y="331.0" width="17.7" height="13.8" fill="url(#g86)" filter="url(#b05)"/>
<rect x="588.1" y="331.0" width="2.0" height="15.8" fill="url(#g87)" filter="url(#b05)"/>
<rect x="604.8" y="331.0" width="2.0" height="15.8" fill="url(#g88)" filter="url(#b05)"/>
<rect x="588.1" y="343.2" width="18.7" height="3.6" fill="#000" fill-opacity="0.85" filter="url(#b05)"/>
<rect x="613.7" y="331.0" width="16.5" height="12.3" fill="url(#g89)" filter="url(#b05)"/>
<rect x="613.2" y="331.0" width="2.0" height="14.3" fill="url(#g90)" filter="url(#b05)"/>
<rect x="628.7" y="331.0" width="2.0" height="14.3" fill="url(#g91)" filter="url(#b05)"/>
<rect x="613.2" y="341.7" width="17.5" height="3.6" fill="#000" fill-opacity="0.80" filter="url(#b05)"/>
<rect x="613.7" y="345.3" width="16.5" height="10.2" fill="url(#g92)" filter="url(#b05)"/>
<rect x="613.2" y="345.3" width="2.0" height="12.2" fill="url(#g93)" filter="url(#b05)"/>
<rect x="628.7" y="345.3" width="2.0" height="12.2" fill="url(#g94)" filter="url(#b05)"/>
<rect x="613.2" y="353.9" width="17.5" height="3.6" fill="#000" fill-opacity="0.75" filter="url(#b05)"/>
<rect x="613.7" y="357.5" width="16.5" height="4.5" fill="url(#g95)" filter="url(#b05)"/>
<rect x="613.2" y="357.5" width="2.0" height="6.5" fill="url(#g96)" filter="url(#b05)"/>
<rect x="628.7" y="357.5" width="2.0" height="6.5" fill="url(#g97)" filter="url(#b05)"/>
<rect x="613.2" y="360.4" width="17.5" height="3.6" fill="#000" fill-opacity="0.70" filter="url(#b05)"/>
<rect x="637.9" y="345.0" width="17.0" height="33.0" fill="url(#g98)" filter="url(#b05)"/>
<rect x="638.4" y="331.0" width="16.0" height="12.5" fill="url(#g99)" filter="url(#b05)"/>
<rect x="637.9" y="331.0" width="2.0" height="14.5" fill="url(#g100)" filter="url(#b05)"/>
<rect x="652.9" y="331.0" width="2.0" height="14.5" fill="url(#g101)" filter="url(#b05)"/>
<rect x="637.9" y="341.9" width="17.0" height="3.6" fill="#000" fill-opacity="0.65" filter="url(#b05)"/>
<rect x="638.4" y="345.5" width="16.0" height="9.5" fill="url(#g102)" filter="url(#b05)"/>
<rect x="637.9" y="345.5" width="2.0" height="11.5" fill="url(#g103)" filter="url(#b05)"/>
<rect x="652.9" y="345.5" width="2.0" height="11.5" fill="url(#g104)" filter="url(#b05)"/>
<rect x="637.9" y="353.4" width="17.0" height="3.6" fill="#000" fill-opacity="0.35" filter="url(#b05)"/>
<rect x="637.9" y="359.8" width="17.0" height="2.5" rx="1.2" fill="#000" fill-opacity="0.20" filter="url(#b1)"/>
<rect x="662.0" y="345.0" width="17.5" height="33.0" fill="url(#g105)" filter="url(#b05)"/>
<rect x="662.5" y="331.0" width="16.5" height="13.0" fill="url(#g106)" filter="url(#b05)"/>
<rect x="662.0" y="331.0" width="2.0" height="15.0" fill="url(#g107)" filter="url(#b05)"/>
<rect x="677.5" y="331.0" width="2.0" height="15.0" fill="url(#g108)" filter="url(#b05)"/>
<rect x="662.0" y="342.4" width="17.5" height="3.6" fill="#000" fill-opacity="0.75" filter="url(#b05)"/>
<rect x="558.9" y="330.7" width="123.9" height="47.7" fill="none" stroke="#555" stroke-width="0.9"/>
<text x="572.7" y="391.3" font-size="9" font-weight="bold" text-anchor="middle" fill="#000" stroke="#000" stroke-width="0.2">1</text>
<text x="596.9" y="391.3" font-size="9" font-weight="bold" text-anchor="middle" fill="#000" stroke="#000" stroke-width="0.2">2</text>
<text x="621.0" y="391.3" font-size="9" font-weight="bold" text-anchor="middle" fill="#000" stroke="#000" stroke-width="0.2">3</text>
<text x="645.2" y="391.3" font-size="9" font-weight="bold" text-anchor="middle" fill="#000" stroke="#000" stroke-width="0.2">4</text>
<text x="669.8" y="391.3" font-size="9" font-weight="bold" text-anchor="middle" fill="#000" stroke="#000" stroke-width="0.2">5</text>
<text x="479.8" y="412.4" font-size="18.5" font-weight="bold" text-anchor="start" fill="#000">J</text>
<line x1="520.8" y1="416.0" x2="520.8" y2="491.0" stroke="#777" stroke-width="0.8"/>
<line x1="520.8" y1="491.0" x2="672.0" y2="491.0" stroke="#777" stroke-width="0.8"/>
<text x="516.2" y="493.0" font-size="5.9" font-weight="bold" text-anchor="end" fill="#000" stroke="#000" stroke-width="0.2">0</text>
<text x="516.2" y="485.5" font-size="5.9" font-weight="bold" text-anchor="end" fill="#000" stroke="#000" stroke-width="0.2">10</text>
<text x="516.2" y="478.0" font-size="5.9" font-weight="bold" text-anchor="end" fill="#000" stroke="#000" stroke-width="0.2">20</text>
<text x="516.2" y="470.5" font-size="5.9" font-weight="bold" text-anchor="end" fill="#000" stroke="#000" stroke-width="0.2">30</text>
<text x="516.2" y="463.0" font-size="5.9" font-weight="bold" text-anchor="end" fill="#000" stroke="#000" stroke-width="0.2">40</text>
<text x="516.2" y="455.6" font-size="5.9" font-weight="bold" text-anchor="end" fill="#000" stroke="#000" stroke-width="0.2">50</text>
<text x="516.2" y="448.1" font-size="5.9" font-weight="bold" text-anchor="end" fill="#000" stroke="#000" stroke-width="0.2">60</text>
<text x="516.2" y="440.6" font-size="5.9" font-weight="bold" text-anchor="end" fill="#000" stroke="#000" stroke-width="0.2">70</text>
<text x="516.2" y="433.1" font-size="5.9" font-weight="bold" text-anchor="end" fill="#000" stroke="#000" stroke-width="0.2">80</text>
<text x="516.2" y="425.6" font-size="5.9" font-weight="bold" text-anchor="end" fill="#000" stroke="#000" stroke-width="0.2">90</text>
<text x="516.2" y="418.1" font-size="5.9" font-weight="bold" text-anchor="end" fill="#000" stroke="#000" stroke-width="0.2">100</text>
<text x="503.6" y="454.0" font-size="6.95" font-weight="bold" text-anchor="middle" fill="#000" stroke="#000" stroke-width="0.2" transform="rotate(-90 503.6 454.0)">Cleavage rate (%)</text>
<rect x="590.1" y="459.9" width="12.5" height="31.1" fill="#fff" stroke="#000" stroke-width="1.1"/>
<rect x="620.1" y="472.4" width="12.5" height="18.6" fill="#fff" stroke="#000" stroke-width="1.1"/>
<rect x="650.3" y="489.9" width="12.5" height="1.1" fill="#fff" stroke="#000" stroke-width="1.1"/>
<circle cx="535.7" cy="491" r="1.3" fill="#000"/>
<circle cx="565.4" cy="491" r="1.3" fill="#000"/>
<circle cx="596.4" cy="454.5" r="1.3" fill="#000"/>
<circle cx="596.4" cy="462.5" r="1.3" fill="#000"/>
<circle cx="596.4" cy="464" r="1.3" fill="#000"/>
<line x1="596.4" y1="452.5" x2="596.4" y2="465.0" stroke="#000" stroke-width="0.6"/>
<circle cx="626.3" cy="469.2" r="1.3" fill="#000"/>
<circle cx="626.3" cy="471.8" r="1.3" fill="#000"/>
<circle cx="626.3" cy="473.6" r="1.3" fill="#000"/>
<line x1="626.3" y1="467.2" x2="626.3" y2="474.6" stroke="#000" stroke-width="0.6"/>
<circle cx="656.5" cy="488.3" r="1.3" fill="#000"/>
<circle cx="656.5" cy="490.3" r="1.3" fill="#000"/>
<line x1="656.5" y1="486.3" x2="656.5" y2="491.3" stroke="#000" stroke-width="0.6"/>
<text x="535.7" y="500.4" font-size="6.0" font-weight="bold" text-anchor="middle" fill="#000" stroke="#000" stroke-width="0.2">1</text>
<text x="565.4" y="500.4" font-size="6.0" font-weight="bold" text-anchor="middle" fill="#000" stroke="#000" stroke-width="0.2">2</text>
<text x="596.1" y="500.4" font-size="6.0" font-weight="bold" text-anchor="middle" fill="#000" stroke="#000" stroke-width="0.2">3</text>
<text x="626.0" y="500.4" font-size="6.0" font-weight="bold" text-anchor="middle" fill="#000" stroke="#000" stroke-width="0.2">4</text>
<text x="656.5" y="500.4" font-size="6.0" font-weight="bold" text-anchor="middle" fill="#000" stroke="#000" stroke-width="0.2">5</text>
<rect x="538.2" y="507.0" width="3.2" height="3.2" fill="#fff" stroke="#000" stroke-width="0.9"/>
<text x="542.3" y="511.0" font-size="7.0" font-weight="bold" text-anchor="start" fill="#000" stroke="#000" stroke-width="0.2">average</text>
<circle cx="574.6" cy="508.6" r="1.3" fill="#000"/>
<text x="577.4" y="511.0" font-size="7.0" font-weight="bold" text-anchor="start" fill="#000" stroke="#000" stroke-width="0.2">1st</text>
<circle cx="596.2" cy="508.6" r="1.0" fill="#000"/>
<text x="599.0" y="511.0" font-size="7.0" font-weight="bold" text-anchor="start" fill="#000" stroke="#000" stroke-width="0.2">2nd</text>
<path d="M619.3,507 L620.8,509.6 L617.8,509.6 Z" fill="#000"/>
<text x="622.0" y="511.0" font-size="7.0" font-weight="bold" text-anchor="start" fill="#000" stroke="#000" stroke-width="0.2">3rd</text>
</svg>
</body></html>
